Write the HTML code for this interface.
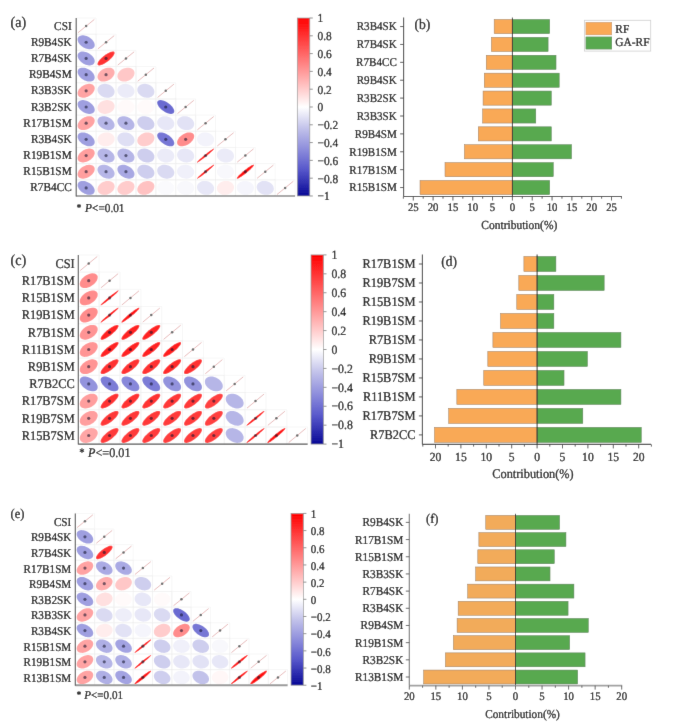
<!DOCTYPE html>
<html><head><meta charset="utf-8"><style>
html,body{margin:0;padding:0;background:#fff;}
body{width:685px;height:727px;overflow:hidden;}
svg{display:block;}
#w{width:685px;height:727px;}
text{font-family:"Liberation Serif",serif;text-rendering:geometricPrecision;fill:#000;stroke:#000;stroke-width:0.22px;}
</style></head><body><div id="w">
<svg width="685" height="727" viewBox="0 0 685 727">
<defs><filter id="bl" x="0" y="0" width="685" height="727" filterUnits="userSpaceOnUse"><feConvolveMatrix order="3" kernelMatrix="0.0072 0.0847 0.0072 0.0847 1.0000 0.0847 0.0072 0.0847 0.0072" edgeMode="duplicate"/></filter></defs>
<g filter="url(#bl)">
<rect width="685" height="727" fill="#fff"/>
<path d="M76.2 18h19.9v16.18h-19.9zM76.2 34.18h19.9v16.18h-19.9zM96.1 34.18h19.9v16.18h-19.9zM76.2 50.36h19.9v16.18h-19.9zM96.1 50.36h19.9v16.18h-19.9zM116 50.36h19.9v16.18h-19.9zM76.2 66.54h19.9v16.18h-19.9zM96.1 66.54h19.9v16.18h-19.9zM116 66.54h19.9v16.18h-19.9zM135.9 66.54h19.9v16.18h-19.9zM76.2 82.72h19.9v16.18h-19.9zM96.1 82.72h19.9v16.18h-19.9zM116 82.72h19.9v16.18h-19.9zM135.9 82.72h19.9v16.18h-19.9zM155.8 82.72h19.9v16.18h-19.9zM76.2 98.9h19.9v16.18h-19.9zM96.1 98.9h19.9v16.18h-19.9zM116 98.9h19.9v16.18h-19.9zM135.9 98.9h19.9v16.18h-19.9zM155.8 98.9h19.9v16.18h-19.9zM175.7 98.9h19.9v16.18h-19.9zM76.2 115.08h19.9v16.18h-19.9zM96.1 115.08h19.9v16.18h-19.9zM116 115.08h19.9v16.18h-19.9zM135.9 115.08h19.9v16.18h-19.9zM155.8 115.08h19.9v16.18h-19.9zM175.7 115.08h19.9v16.18h-19.9zM195.6 115.08h19.9v16.18h-19.9zM76.2 131.26h19.9v16.18h-19.9zM96.1 131.26h19.9v16.18h-19.9zM116 131.26h19.9v16.18h-19.9zM135.9 131.26h19.9v16.18h-19.9zM155.8 131.26h19.9v16.18h-19.9zM175.7 131.26h19.9v16.18h-19.9zM195.6 131.26h19.9v16.18h-19.9zM215.5 131.26h19.9v16.18h-19.9zM76.2 147.44h19.9v16.18h-19.9zM96.1 147.44h19.9v16.18h-19.9zM116 147.44h19.9v16.18h-19.9zM135.9 147.44h19.9v16.18h-19.9zM155.8 147.44h19.9v16.18h-19.9zM175.7 147.44h19.9v16.18h-19.9zM195.6 147.44h19.9v16.18h-19.9zM215.5 147.44h19.9v16.18h-19.9zM235.4 147.44h19.9v16.18h-19.9zM76.2 163.62h19.9v16.18h-19.9zM96.1 163.62h19.9v16.18h-19.9zM116 163.62h19.9v16.18h-19.9zM135.9 163.62h19.9v16.18h-19.9zM155.8 163.62h19.9v16.18h-19.9zM175.7 163.62h19.9v16.18h-19.9zM195.6 163.62h19.9v16.18h-19.9zM215.5 163.62h19.9v16.18h-19.9zM235.4 163.62h19.9v16.18h-19.9zM255.3 163.62h19.9v16.18h-19.9zM76.2 179.8h19.9v16.18h-19.9zM96.1 179.8h19.9v16.18h-19.9zM116 179.8h19.9v16.18h-19.9zM135.9 179.8h19.9v16.18h-19.9zM155.8 179.8h19.9v16.18h-19.9zM175.7 179.8h19.9v16.18h-19.9zM195.6 179.8h19.9v16.18h-19.9zM215.5 179.8h19.9v16.18h-19.9zM235.4 179.8h19.9v16.18h-19.9zM255.3 179.8h19.9v16.18h-19.9zM275.2 179.8h19.9v16.18h-19.9z" fill="none" stroke="#efefef" stroke-width="0.5"/>
<line x1="77.99" y1="32.72" x2="94.31" y2="19.46" stroke="#d88c8c" stroke-width="0.6"/>
<circle cx="86.15" cy="26.09" r="1.25" fill="#6a6a6a"/>
<path d="M90.84 38.46L91.73 39.25L92.53 40.1L93.22 40.98L93.79 41.88L94.23 42.79L94.53 43.69L94.68 44.57L94.69 45.41L94.56 46.19L94.28 46.91L93.86 47.54L93.31 48.09L92.64 48.54L91.85 48.88L90.97 49.11L90.01 49.22L88.98 49.21L87.9 49.08L86.79 48.84L85.67 48.48L84.56 48.02L83.48 47.46L82.44 46.81L81.46 46.08L80.57 45.29L79.77 44.44L79.08 43.56L78.51 42.66L78.07 41.75L77.77 40.85L77.62 39.97L77.61 39.13L77.74 38.35L78.02 37.63L78.44 37L78.99 36.45L79.66 36L80.45 35.66L81.33 35.43L82.29 35.32L83.32 35.33L84.4 35.46L85.51 35.7L86.63 36.06L87.74 36.52L88.82 37.08L89.86 37.73Z" fill="#9f9fe0"/>
<circle cx="86.15" cy="42.27" r="1.6" fill="rgba(20,20,45,0.6)"/>
<line x1="97.89" y1="48.9" x2="114.21" y2="35.64" stroke="#d88c8c" stroke-width="0.6"/>
<circle cx="106.05" cy="42.27" r="1.25" fill="#6a6a6a"/>
<path d="M90.84 54.64L91.73 55.43L92.53 56.28L93.22 57.16L93.79 58.06L94.23 58.97L94.53 59.87L94.68 60.75L94.69 61.59L94.56 62.37L94.28 63.09L93.86 63.72L93.31 64.27L92.64 64.72L91.85 65.06L90.97 65.29L90.01 65.4L88.98 65.39L87.9 65.26L86.79 65.02L85.67 64.66L84.56 64.2L83.48 63.64L82.44 62.99L81.46 62.26L80.57 61.47L79.77 60.62L79.08 59.74L78.51 58.84L78.07 57.93L77.77 57.03L77.62 56.15L77.61 55.31L77.74 54.53L78.02 53.81L78.44 53.18L78.99 52.63L79.66 52.18L80.45 51.84L81.33 51.61L82.29 51.5L83.32 51.51L84.4 51.64L85.51 51.88L86.63 52.24L87.74 52.7L88.82 53.26L89.86 53.91Z" fill="#9f9fe0"/>
<circle cx="86.15" cy="58.45" r="1.6" fill="rgba(20,20,45,0.6)"/>
<path d="M114.17 51.85L114.45 52.19L114.59 52.64L114.59 53.19L114.43 53.83L114.14 54.55L113.7 55.34L113.14 56.18L112.45 57.06L111.66 57.96L110.76 58.87L109.79 59.77L108.76 60.65L107.67 61.49L106.56 62.28L105.44 63.01L104.33 63.66L103.25 64.21L102.22 64.67L101.26 65.03L100.37 65.27L99.59 65.39L98.91 65.39L98.35 65.28L97.93 65.05L97.65 64.71L97.51 64.26L97.51 63.71L97.67 63.07L97.96 62.35L98.4 61.56L98.96 60.72L99.65 59.84L100.44 58.94L101.34 58.03L102.31 57.13L103.34 56.25L104.43 55.41L105.54 54.62L106.66 53.89L107.77 53.24L108.85 52.69L109.88 52.23L110.84 51.87L111.73 51.63L112.51 51.51L113.19 51.51L113.75 51.62Z" fill="#ff3333"/>
<circle cx="106.05" cy="58.45" r="1.6" fill="rgba(20,20,45,0.6)"/>
<line x1="117.79" y1="65.08" x2="134.11" y2="51.82" stroke="#d88c8c" stroke-width="0.6"/>
<circle cx="125.95" cy="58.45" r="1.25" fill="#6a6a6a"/>
<path d="M90.84 70.82L91.73 71.61L92.53 72.46L93.22 73.34L93.79 74.24L94.23 75.15L94.53 76.05L94.68 76.93L94.69 77.77L94.56 78.55L94.28 79.27L93.86 79.9L93.31 80.45L92.64 80.9L91.85 81.24L90.97 81.47L90.01 81.58L88.98 81.57L87.9 81.44L86.79 81.2L85.67 80.84L84.56 80.38L83.48 79.82L82.44 79.17L81.46 78.44L80.57 77.65L79.77 76.8L79.08 75.92L78.51 75.02L78.07 74.11L77.77 73.21L77.62 72.33L77.61 71.49L77.74 70.71L78.02 69.99L78.44 69.36L78.99 68.81L79.66 68.36L80.45 68.02L81.33 67.79L82.29 67.68L83.32 67.69L84.4 67.82L85.51 68.06L86.63 68.42L87.74 68.88L88.82 69.44L89.86 70.09Z" fill="#9f9fe0"/>
<circle cx="86.15" cy="74.63" r="1.6" fill="rgba(20,20,45,0.6)"/>
<path d="M113 68.98L113.59 69.56L114.06 70.22L114.38 70.96L114.57 71.76L114.6 72.62L114.49 73.5L114.24 74.41L113.85 75.32L113.32 76.22L112.67 77.09L111.9 77.91L111.04 78.69L110.09 79.39L109.07 80.01L108 80.54L106.9 80.97L105.78 81.29L104.66 81.5L103.57 81.58L102.52 81.55L101.54 81.4L100.63 81.14L99.81 80.76L99.1 80.28L98.51 79.7L98.04 79.04L97.72 78.3L97.53 77.5L97.5 76.64L97.61 75.76L97.86 74.85L98.25 73.94L98.78 73.04L99.43 72.17L100.2 71.35L101.06 70.57L102.01 69.87L103.03 69.25L104.1 68.72L105.2 68.29L106.32 67.97L107.44 67.76L108.53 67.68L109.58 67.71L110.56 67.86L111.47 68.12L112.29 68.5Z" fill="#ffadad"/>
<circle cx="106.05" cy="74.63" r="1.6" fill="rgba(20,20,45,0.6)"/>
<path d="M132.63 69.2L133.27 69.81L133.79 70.51L134.17 71.27L134.41 72.1L134.51 72.96L134.45 73.86L134.26 74.77L133.92 75.68L133.44 76.56L132.84 77.42L132.12 78.23L131.29 78.97L130.38 79.65L129.38 80.23L128.33 80.72L127.24 81.11L126.12 81.38L125 81.54L123.9 81.59L122.83 81.51L121.82 81.31L120.88 81L120.02 80.58L119.27 80.06L118.63 79.45L118.11 78.75L117.73 77.99L117.49 77.16L117.39 76.3L117.45 75.4L117.64 74.49L117.98 73.58L118.46 72.7L119.06 71.84L119.78 71.03L120.61 70.29L121.52 69.61L122.52 69.03L123.57 68.54L124.66 68.15L125.78 67.88L126.9 67.72L128 67.67L129.07 67.75L130.08 67.95L131.02 68.26L131.88 68.68Z" fill="#ffc7c7"/>
<line x1="137.69" y1="81.26" x2="154.01" y2="68" stroke="#d88c8c" stroke-width="0.6"/>
<circle cx="145.85" cy="74.63" r="1.25" fill="#6a6a6a"/>
<path d="M93.21 85.07L93.78 85.64L94.22 86.29L94.52 87.02L94.68 87.81L94.69 88.65L94.56 89.54L94.29 90.44L93.87 91.35L93.32 92.25L92.65 93.13L91.87 93.96L90.99 94.75L90.03 95.46L89 96.1L87.92 96.64L86.81 97.09L85.69 97.42L84.58 97.65L83.5 97.76L82.46 97.75L81.48 97.62L80.59 97.37L79.79 97.01L79.09 96.55L78.52 95.98L78.08 95.33L77.78 94.6L77.62 93.81L77.61 92.97L77.74 92.08L78.01 91.18L78.43 90.27L78.98 89.37L79.65 88.49L80.43 87.66L81.31 86.87L82.27 86.16L83.3 85.52L84.38 84.98L85.49 84.53L86.61 84.2L87.72 83.97L88.8 83.86L89.84 83.87L90.82 84L91.71 84.25L92.51 84.61Z" fill="#ffa3a3"/>
<circle cx="86.15" cy="90.81" r="1.6" fill="rgba(20,20,45,0.6)"/>
<path d="M111.63 86.27L112.43 87L113.12 87.79L113.69 88.64L114.13 89.52L114.43 90.42L114.58 91.33L114.59 92.23L114.46 93.11L114.18 93.95L113.76 94.73L113.21 95.45L112.54 96.09L111.76 96.63L110.87 97.08L109.91 97.42L108.88 97.65L107.8 97.76L106.69 97.75L105.57 97.62L104.46 97.38L103.38 97.02L102.34 96.56L101.37 96L100.47 95.35L99.67 94.62L98.98 93.83L98.41 92.98L97.97 92.1L97.67 91.2L97.52 90.29L97.51 89.39L97.64 88.51L97.92 87.67L98.34 86.89L98.89 86.17L99.56 85.53L100.34 84.99L101.23 84.54L102.19 84.2L103.22 83.97L104.3 83.86L105.41 83.87L106.53 84L107.64 84.24L108.72 84.6L109.76 85.06L110.73 85.62Z" fill="#dadaf2"/>
<path d="M131.75 86.09L132.52 86.8L133.18 87.58L133.72 88.41L134.12 89.28L134.38 90.18L134.5 91.09L134.47 91.99L134.3 92.88L133.98 93.73L133.53 94.53L132.94 95.26L132.24 95.92L131.43 96.49L130.52 96.97L129.54 97.34L128.49 97.6L127.41 97.74L126.29 97.76L125.17 97.67L124.07 97.45L122.99 97.13L121.97 96.69L121.02 96.16L120.15 95.53L119.38 94.82L118.72 94.04L118.18 93.21L117.78 92.34L117.52 91.44L117.4 90.53L117.43 89.63L117.6 88.74L117.92 87.89L118.37 87.09L118.96 86.36L119.66 85.7L120.47 85.13L121.38 84.65L122.36 84.28L123.41 84.02L124.49 83.88L125.61 83.86L126.73 83.95L127.83 84.17L128.91 84.49L129.93 84.93L130.88 85.46Z" fill="#ebebf8"/>
<path d="M151.43 86.27L152.23 87L152.92 87.79L153.49 88.64L153.93 89.52L154.23 90.42L154.38 91.33L154.39 92.23L154.26 93.11L153.98 93.95L153.56 94.73L153.01 95.45L152.34 96.09L151.56 96.63L150.67 97.08L149.71 97.42L148.68 97.65L147.6 97.76L146.49 97.75L145.37 97.62L144.26 97.38L143.18 97.02L142.14 96.56L141.17 96L140.27 95.35L139.47 94.62L138.78 93.83L138.21 92.98L137.77 92.1L137.47 91.2L137.32 90.29L137.31 89.39L137.44 88.51L137.72 87.67L138.14 86.89L138.69 86.17L139.36 85.53L140.14 84.99L141.03 84.54L141.99 84.2L143.02 83.97L144.1 83.86L145.21 83.87L146.33 84L147.44 84.24L148.52 84.6L149.56 85.06L150.53 85.62Z" fill="#dadaf2"/>
<line x1="157.59" y1="97.44" x2="173.91" y2="84.18" stroke="#d88c8c" stroke-width="0.6"/>
<circle cx="165.75" cy="90.81" r="1.25" fill="#6a6a6a"/>
<path d="M90.84 103.18L91.73 103.97L92.53 104.82L93.22 105.7L93.79 106.6L94.23 107.51L94.53 108.41L94.68 109.29L94.69 110.13L94.56 110.91L94.28 111.63L93.86 112.26L93.31 112.81L92.64 113.26L91.85 113.6L90.97 113.83L90.01 113.94L88.98 113.93L87.9 113.8L86.79 113.56L85.67 113.2L84.56 112.74L83.48 112.18L82.44 111.53L81.46 110.8L80.57 110.01L79.77 109.16L79.08 108.28L78.51 107.38L78.07 106.47L77.77 105.57L77.62 104.69L77.61 103.85L77.74 103.07L78.02 102.35L78.44 101.72L78.99 101.17L79.66 100.72L80.45 100.38L81.33 100.15L82.29 100.04L83.32 100.05L84.4 100.18L85.51 100.42L86.63 100.78L87.74 101.24L88.82 101.8L89.86 102.45Z" fill="#9f9fe0"/>
<circle cx="86.15" cy="106.99" r="1.6" fill="rgba(20,20,45,0.6)"/>
<path d="M112.45 101.78L113.14 102.43L113.7 103.16L114.14 103.95L114.43 104.79L114.59 105.67L114.59 106.57L114.45 107.48L114.17 108.38L113.74 109.26L113.19 110.1L112.51 110.89L111.73 111.61L110.84 112.25L109.88 112.8L108.84 113.25L107.76 113.59L106.65 113.82L105.54 113.93L104.43 113.93L103.34 113.81L102.31 113.57L101.33 113.21L100.44 112.75L99.65 112.2L98.96 111.55L98.4 110.82L97.96 110.03L97.67 109.19L97.51 108.31L97.51 107.41L97.65 106.5L97.93 105.6L98.36 104.72L98.91 103.88L99.59 103.09L100.37 102.37L101.26 101.73L102.22 101.18L103.26 100.73L104.34 100.39L105.45 100.16L106.56 100.05L107.67 100.05L108.76 100.17L109.79 100.41L110.77 100.77L111.66 101.23Z" fill="#ffe0e0"/>
<path d="M132.06 102.02L132.79 102.7L133.4 103.45L133.89 104.26L134.24 105.12L134.44 106.01L134.51 106.92L134.42 107.83L134.19 108.72L133.82 109.59L133.32 110.41L132.69 111.17L131.94 111.86L131.09 112.47L130.15 112.98L129.15 113.39L128.08 113.69L126.98 113.88L125.86 113.95L124.75 113.9L123.65 113.73L122.6 113.44L121.6 113.05L120.67 112.55L119.84 111.96L119.11 111.28L118.5 110.53L118.01 109.72L117.66 108.86L117.46 107.97L117.39 107.06L117.48 106.15L117.71 105.26L118.08 104.39L118.58 103.57L119.21 102.81L119.96 102.12L120.81 101.51L121.75 101L122.75 100.59L123.82 100.29L124.92 100.1L126.04 100.03L127.15 100.08L128.25 100.25L129.3 100.54L130.3 100.93L131.23 101.43Z" fill="#fffafa"/>
<path d="M151.96 102.02L152.69 102.7L153.3 103.45L153.79 104.26L154.14 105.12L154.34 106.01L154.41 106.92L154.32 107.83L154.09 108.72L153.72 109.59L153.22 110.41L152.59 111.17L151.84 111.86L150.99 112.47L150.05 112.98L149.05 113.39L147.98 113.69L146.88 113.88L145.76 113.95L144.65 113.9L143.55 113.73L142.5 113.44L141.5 113.05L140.57 112.55L139.74 111.96L139.01 111.28L138.4 110.53L137.91 109.72L137.56 108.86L137.36 107.97L137.29 107.06L137.38 106.15L137.61 105.26L137.98 104.39L138.48 103.57L139.11 102.81L139.86 102.12L140.71 101.51L141.65 101L142.65 100.59L143.72 100.29L144.82 100.1L145.94 100.03L147.05 100.08L148.15 100.25L149.2 100.54L150.2 100.93L151.13 101.43Z" fill="#fffafa"/>
<path d="M169.48 103.96L170.45 104.8L171.35 105.68L172.14 106.58L172.83 107.49L173.4 108.4L173.83 109.27L174.13 110.11L174.28 110.9L174.29 111.61L174.15 112.25L173.87 112.8L173.45 113.25L172.9 113.59L172.22 113.82L171.44 113.94L170.55 113.93L169.59 113.8L168.56 113.56L167.48 113.21L166.37 112.75L165.25 112.19L164.14 111.54L163.06 110.81L162.02 110.02L161.05 109.18L160.15 108.3L159.36 107.4L158.67 106.49L158.1 105.58L157.67 104.71L157.37 103.87L157.22 103.08L157.21 102.37L157.35 101.73L157.63 101.18L158.05 100.73L158.6 100.39L159.28 100.16L160.06 100.04L160.95 100.05L161.91 100.18L162.94 100.42L164.02 100.77L165.13 101.23L166.25 101.79L167.36 102.44L168.44 103.17Z" fill="#6b6bd1"/>
<circle cx="165.75" cy="106.99" r="1.6" fill="rgba(20,20,45,0.6)"/>
<line x1="177.49" y1="113.62" x2="193.81" y2="100.36" stroke="#d88c8c" stroke-width="0.6"/>
<circle cx="185.65" cy="106.99" r="1.25" fill="#6a6a6a"/>
<path d="M93.21 117.43L93.78 118L94.22 118.65L94.52 119.38L94.68 120.17L94.69 121.01L94.56 121.9L94.29 122.8L93.87 123.71L93.32 124.61L92.65 125.49L91.87 126.32L90.99 127.11L90.03 127.82L89 128.46L87.92 129L86.81 129.45L85.69 129.78L84.58 130.01L83.5 130.12L82.46 130.11L81.48 129.98L80.59 129.73L79.79 129.37L79.09 128.91L78.52 128.34L78.08 127.69L77.78 126.96L77.62 126.17L77.61 125.33L77.74 124.44L78.01 123.54L78.43 122.63L78.98 121.73L79.65 120.85L80.43 120.02L81.31 119.23L82.27 118.52L83.3 117.88L84.38 117.34L85.49 116.89L86.61 116.56L87.72 116.33L88.8 116.22L89.84 116.23L90.82 116.36L91.71 116.61L92.51 116.97Z" fill="#ffa3a3"/>
<circle cx="86.15" cy="123.17" r="1.6" fill="rgba(20,20,45,0.6)"/>
<path d="M111.11 119.05L111.97 119.82L112.73 120.65L113.37 121.51L113.88 122.41L114.27 123.32L114.51 124.23L114.61 125.11L114.56 125.97L114.36 126.78L114.02 127.52L113.55 128.19L112.95 128.78L112.23 129.27L111.4 129.65L110.49 129.93L109.49 130.09L108.44 130.13L107.35 130.05L106.23 129.85L105.12 129.54L104.01 129.12L102.95 128.6L101.93 127.98L100.99 127.29L100.13 126.52L99.37 125.69L98.73 124.83L98.22 123.93L97.83 123.02L97.59 122.11L97.49 121.23L97.54 120.37L97.74 119.56L98.08 118.82L98.55 118.15L99.15 117.56L99.87 117.07L100.7 116.69L101.61 116.41L102.61 116.25L103.66 116.21L104.75 116.29L105.87 116.49L106.98 116.8L108.09 117.22L109.15 117.74L110.17 118.36Z" fill="#b6b6e7"/>
<circle cx="106.05" cy="123.17" r="1.6" fill="rgba(20,20,45,0.6)"/>
<path d="M131.01 119.05L131.87 119.82L132.63 120.65L133.27 121.51L133.78 122.41L134.17 123.32L134.41 124.23L134.51 125.11L134.46 125.97L134.26 126.78L133.92 127.52L133.45 128.19L132.85 128.78L132.13 129.27L131.3 129.65L130.39 129.93L129.39 130.09L128.34 130.13L127.25 130.05L126.13 129.85L125.02 129.54L123.91 129.12L122.85 128.6L121.83 127.98L120.89 127.29L120.03 126.52L119.27 125.69L118.63 124.83L118.12 123.93L117.73 123.02L117.49 122.11L117.39 121.23L117.44 120.37L117.64 119.56L117.98 118.82L118.45 118.15L119.05 117.56L119.77 117.07L120.6 116.69L121.51 116.41L122.51 116.25L123.56 116.21L124.65 116.29L125.77 116.49L126.88 116.8L127.99 117.22L129.05 117.74L130.07 118.36Z" fill="#b6b6e7"/>
<circle cx="125.95" cy="123.17" r="1.6" fill="rgba(20,20,45,0.6)"/>
<path d="M151.26 118.77L152.08 119.51L152.79 120.31L153.39 121.17L153.85 122.05L154.18 122.96L154.36 123.87L154.4 124.77L154.3 125.64L154.04 126.47L153.65 127.24L153.13 127.94L152.48 128.56L151.72 129.09L150.85 129.51L149.9 129.83L148.88 130.04L147.81 130.12L146.71 130.09L145.59 129.94L144.48 129.68L143.39 129.3L142.34 128.82L141.35 128.24L140.44 127.57L139.62 126.83L138.91 126.03L138.31 125.17L137.85 124.29L137.52 123.38L137.34 122.47L137.3 121.57L137.4 120.7L137.66 119.87L138.05 119.1L138.57 118.4L139.22 117.78L139.98 117.25L140.85 116.83L141.8 116.51L142.82 116.3L143.89 116.22L144.99 116.25L146.11 116.4L147.22 116.66L148.31 117.04L149.36 117.52L150.35 118.1Z" fill="#ceceee"/>
<path d="M171.49 118.5L172.27 119.22L172.94 120L173.48 120.83L173.89 121.71L174.17 122.61L174.3 123.52L174.28 124.42L174.12 125.3L173.81 126.15L173.37 126.95L172.79 127.68L172.1 128.33L171.29 128.89L170.39 129.36L169.42 129.72L168.38 129.97L167.29 130.1L166.18 130.12L165.06 130.01L163.95 129.79L162.88 129.46L161.85 129.01L160.89 128.47L160.01 127.84L159.23 127.12L158.56 126.34L158.02 125.51L157.61 124.63L157.33 123.73L157.2 122.82L157.22 121.92L157.38 121.04L157.69 120.19L158.13 119.39L158.71 118.66L159.4 118.01L160.21 117.45L161.11 116.98L162.08 116.62L163.12 116.37L164.21 116.24L165.32 116.22L166.44 116.33L167.55 116.55L168.62 116.88L169.65 117.33L170.61 117.87Z" fill="#e7e7f7"/>
<path d="M191.33 118.55L192.11 119.27L192.79 120.06L193.34 120.9L193.77 121.78L194.05 122.68L194.19 123.59L194.19 124.49L194.03 125.37L193.74 126.21L193.3 127L192.74 127.73L192.05 128.38L191.26 128.93L190.37 129.39L189.39 129.75L188.36 129.99L187.27 130.11L186.16 130.11L185.05 130L183.94 129.77L182.86 129.43L181.82 128.98L180.86 128.43L179.97 127.79L179.19 127.07L178.51 126.28L177.96 125.44L177.53 124.56L177.25 123.66L177.11 122.75L177.11 121.85L177.27 120.97L177.56 120.13L178 119.34L178.56 118.61L179.25 117.96L180.04 117.41L180.93 116.95L181.91 116.59L182.94 116.35L184.03 116.23L185.14 116.23L186.25 116.34L187.36 116.57L188.44 116.91L189.48 117.36L190.44 117.91Z" fill="#e2e2f5"/>
<line x1="197.39" y1="129.8" x2="213.71" y2="116.54" stroke="#d88c8c" stroke-width="0.6"/>
<circle cx="205.55" cy="123.17" r="1.25" fill="#6a6a6a"/>
<path d="M90.84 135.54L91.73 136.33L92.53 137.18L93.22 138.06L93.79 138.96L94.23 139.87L94.53 140.77L94.68 141.65L94.69 142.49L94.56 143.27L94.28 143.99L93.86 144.62L93.31 145.17L92.64 145.62L91.85 145.96L90.97 146.19L90.01 146.3L88.98 146.29L87.9 146.16L86.79 145.92L85.67 145.56L84.56 145.1L83.48 144.54L82.44 143.89L81.46 143.16L80.57 142.37L79.77 141.52L79.08 140.64L78.51 139.74L78.07 138.83L77.77 137.93L77.62 137.05L77.61 136.21L77.74 135.43L78.02 134.71L78.44 134.08L78.99 133.53L79.66 133.08L80.45 132.74L81.33 132.51L82.29 132.4L83.32 132.41L84.4 132.54L85.51 132.78L86.63 133.14L87.74 133.6L88.82 134.16L89.86 134.81Z" fill="#9f9fe0"/>
<circle cx="86.15" cy="139.35" r="1.6" fill="rgba(20,20,45,0.6)"/>
<path d="M112.31 134.26L113.02 134.92L113.61 135.66L114.07 136.46L114.39 137.32L114.57 138.2L114.6 139.11L114.49 140.02L114.23 140.91L113.84 141.79L113.31 142.62L112.65 143.39L111.89 144.09L111.02 144.72L110.07 145.25L109.05 145.68L107.97 146L106.87 146.21L105.75 146.3L104.64 146.28L103.55 146.13L102.5 145.87L101.51 145.49L100.61 145.01L99.79 144.44L99.08 143.78L98.49 143.04L98.03 142.24L97.71 141.38L97.53 140.5L97.5 139.59L97.61 138.68L97.87 137.79L98.26 136.91L98.79 136.08L99.45 135.31L100.21 134.61L101.08 133.98L102.03 133.45L103.05 133.02L104.13 132.7L105.23 132.49L106.35 132.4L107.46 132.42L108.55 132.57L109.6 132.83L110.59 133.21L111.49 133.69Z" fill="#ffeded"/>
<path d="M131.59 134.76L132.38 135.48L133.07 136.27L133.63 137.11L134.05 137.99L134.34 138.89L134.49 139.8L134.49 140.71L134.34 141.58L134.05 142.43L133.62 143.21L133.06 143.94L132.38 144.58L131.59 145.13L130.7 145.59L129.73 145.94L128.7 146.17L127.62 146.29L126.51 146.29L125.39 146.17L124.28 145.94L123.2 145.59L122.16 145.14L121.19 144.58L120.31 143.94L119.52 143.22L118.83 142.43L118.27 141.59L117.85 140.71L117.56 139.81L117.41 138.9L117.41 137.99L117.56 137.12L117.85 136.27L118.28 135.49L118.84 134.76L119.52 134.12L120.31 133.57L121.2 133.11L122.17 132.76L123.2 132.53L124.28 132.41L125.39 132.41L126.51 132.53L127.62 132.76L128.7 133.11L129.74 133.56L130.71 134.12Z" fill="#dfdff4"/>
<path d="M152.48 133.96L153.13 134.58L153.65 135.28L154.04 136.05L154.3 136.88L154.4 137.75L154.36 138.65L154.18 139.56L153.85 140.47L153.39 141.35L152.79 142.21L152.08 143.01L151.26 143.75L150.35 144.42L149.36 145L148.31 145.48L147.22 145.86L146.11 146.12L144.99 146.27L143.89 146.3L142.82 146.22L141.8 146.01L140.85 145.69L139.98 145.27L139.22 144.74L138.57 144.12L138.05 143.42L137.66 142.65L137.4 141.82L137.3 140.95L137.34 140.05L137.52 139.14L137.85 138.23L138.31 137.35L138.91 136.49L139.62 135.69L140.44 134.95L141.35 134.28L142.34 133.7L143.39 133.22L144.48 132.84L145.59 132.58L146.71 132.43L147.81 132.4L148.88 132.48L149.9 132.69L150.85 133.01L151.72 133.43Z" fill="#ffcccc"/>
<path d="M169.72 136.12L170.67 136.96L171.54 137.83L172.32 138.73L172.98 139.64L173.51 140.54L173.92 141.43L174.18 142.28L174.3 143.08L174.27 143.81L174.1 144.47L173.78 145.04L173.33 145.51L172.75 145.88L172.05 146.14L171.24 146.28L170.33 146.3L169.35 146.2L168.31 145.99L167.22 145.66L166.1 145.23L164.99 144.69L163.88 144.06L162.81 143.35L161.78 142.58L160.83 141.74L159.96 140.87L159.18 139.97L158.52 139.06L157.99 138.16L157.58 137.27L157.32 136.42L157.2 135.62L157.23 134.89L157.4 134.23L157.72 133.66L158.17 133.19L158.75 132.82L159.45 132.56L160.26 132.42L161.17 132.4L162.15 132.5L163.19 132.71L164.28 133.04L165.4 133.47L166.51 134.01L167.62 134.64L168.69 135.35Z" fill="#7777d5"/>
<circle cx="165.75" cy="139.35" r="1.6" fill="rgba(20,20,45,0.6)"/>
<path d="M192.94 133.43L193.46 133.95L193.85 134.57L194.1 135.27L194.2 136.04L194.16 136.87L193.98 137.74L193.65 138.64L193.18 139.55L192.58 140.45L191.87 141.34L191.05 142.19L190.14 143L189.15 143.74L188.1 144.41L187.01 144.99L185.89 145.47L184.77 145.85L183.67 146.12L182.6 146.27L181.58 146.3L180.64 146.22L179.77 146.02L179.01 145.7L178.36 145.27L177.84 144.75L177.45 144.13L177.2 143.43L177.1 142.66L177.14 141.83L177.32 140.96L177.65 140.06L178.12 139.15L178.72 138.25L179.43 137.36L180.25 136.51L181.16 135.7L182.15 134.96L183.2 134.29L184.29 133.71L185.41 133.23L186.53 132.85L187.63 132.58L188.7 132.43L189.72 132.4L190.66 132.48L191.53 132.68L192.29 133Z" fill="#ff8c8c"/>
<circle cx="185.65" cy="139.35" r="1.6" fill="rgba(20,20,45,0.6)"/>
<path d="M211.45 134.55L212.21 135.25L212.85 136.02L213.37 136.85L213.76 137.72L214 138.61L214.1 139.52L214.06 140.43L213.87 141.32L213.54 142.17L213.07 142.98L212.47 143.72L211.75 144.39L210.93 144.97L210.01 145.46L209.02 145.84L207.97 146.11L206.88 146.27L205.76 146.31L204.65 146.22L203.54 146.02L202.47 145.71L201.46 145.29L200.51 144.76L199.65 144.15L198.89 143.45L198.25 142.68L197.73 141.85L197.34 140.98L197.1 140.09L197 139.18L197.04 138.27L197.23 137.38L197.56 136.53L198.03 135.72L198.63 134.98L199.35 134.31L200.17 133.73L201.09 133.24L202.08 132.86L203.13 132.59L204.22 132.43L205.34 132.39L206.45 132.48L207.56 132.68L208.63 132.99L209.64 133.41L210.59 133.94Z" fill="#f3f3fb"/>
<line x1="217.29" y1="145.98" x2="233.61" y2="132.72" stroke="#d88c8c" stroke-width="0.6"/>
<circle cx="225.45" cy="139.35" r="1.25" fill="#6a6a6a"/>
<path d="M93.26 149.75L93.82 150.31L94.25 150.95L94.54 151.67L94.69 152.46L94.69 153.3L94.54 154.18L94.26 155.09L93.83 156L93.27 156.9L92.59 157.78L91.8 158.62L90.91 159.4L89.95 160.12L88.91 160.77L87.83 161.32L86.72 161.77L85.6 162.12L84.49 162.36L83.41 162.47L82.38 162.47L81.41 162.35L80.52 162.11L79.72 161.77L79.04 161.31L78.48 160.75L78.05 160.11L77.76 159.39L77.61 158.6L77.61 157.76L77.76 156.88L78.04 155.97L78.47 155.06L79.03 154.16L79.71 153.28L80.5 152.44L81.39 151.66L82.35 150.94L83.39 150.29L84.47 149.74L85.58 149.29L86.7 148.94L87.81 148.7L88.89 148.59L89.92 148.59L90.89 148.71L91.78 148.95L92.58 149.29Z" fill="#ff9e9e"/>
<circle cx="86.15" cy="155.53" r="1.6" fill="rgba(20,20,45,0.6)"/>
<path d="M111.11 151.41L111.97 152.18L112.73 153.01L113.37 153.87L113.88 154.77L114.27 155.68L114.51 156.59L114.61 157.47L114.56 158.33L114.36 159.14L114.02 159.88L113.55 160.55L112.95 161.14L112.23 161.63L111.4 162.01L110.49 162.29L109.49 162.45L108.44 162.49L107.35 162.41L106.23 162.21L105.12 161.9L104.01 161.48L102.95 160.96L101.93 160.34L100.99 159.65L100.13 158.88L99.37 158.05L98.73 157.19L98.22 156.29L97.83 155.38L97.59 154.47L97.49 153.59L97.54 152.73L97.74 151.92L98.08 151.18L98.55 150.51L99.15 149.92L99.87 149.43L100.7 149.05L101.61 148.77L102.61 148.61L103.66 148.57L104.75 148.65L105.87 148.85L106.98 149.16L108.09 149.58L109.15 150.1L110.17 150.72Z" fill="#b6b6e7"/>
<circle cx="106.05" cy="155.53" r="1.6" fill="rgba(20,20,45,0.6)"/>
<path d="M131.01 151.41L131.87 152.18L132.63 153.01L133.27 153.87L133.78 154.77L134.17 155.68L134.41 156.59L134.51 157.47L134.46 158.33L134.26 159.14L133.92 159.88L133.45 160.55L132.85 161.14L132.13 161.63L131.3 162.01L130.39 162.29L129.39 162.45L128.34 162.49L127.25 162.41L126.13 162.21L125.02 161.9L123.91 161.48L122.85 160.96L121.83 160.34L120.89 159.65L120.03 158.88L119.27 158.05L118.63 157.19L118.12 156.29L117.73 155.38L117.49 154.47L117.39 153.59L117.44 152.73L117.64 151.92L117.98 151.18L118.45 150.51L119.05 149.92L119.77 149.43L120.6 149.05L121.51 148.77L122.51 148.61L123.56 148.57L124.65 148.65L125.77 148.85L126.88 149.16L127.99 149.58L129.05 150.1L130.07 150.72Z" fill="#b6b6e7"/>
<circle cx="125.95" cy="155.53" r="1.6" fill="rgba(20,20,45,0.6)"/>
<path d="M151.26 151.13L152.08 151.87L152.79 152.67L153.39 153.53L153.85 154.41L154.18 155.32L154.36 156.23L154.4 157.13L154.3 158L154.04 158.83L153.65 159.6L153.13 160.3L152.48 160.92L151.72 161.45L150.85 161.87L149.9 162.19L148.88 162.4L147.81 162.48L146.71 162.45L145.59 162.3L144.48 162.04L143.39 161.66L142.34 161.18L141.35 160.6L140.44 159.93L139.62 159.19L138.91 158.39L138.31 157.53L137.85 156.65L137.52 155.74L137.34 154.83L137.3 153.93L137.4 153.06L137.66 152.23L138.05 151.46L138.57 150.76L139.22 150.14L139.98 149.61L140.85 149.19L141.8 148.87L142.82 148.66L143.89 148.58L144.99 148.61L146.11 148.76L147.22 149.02L148.31 149.4L149.36 149.88L150.35 150.46Z" fill="#ceceee"/>
<path d="M171.55 150.81L172.32 151.52L172.98 152.3L173.52 153.13L173.92 154L174.18 154.9L174.3 155.81L174.27 156.71L174.1 157.6L173.78 158.45L173.33 159.25L172.74 159.98L172.04 160.64L171.23 161.21L170.32 161.69L169.34 162.06L168.29 162.32L167.21 162.46L166.09 162.48L164.97 162.39L163.87 162.17L162.79 161.85L161.77 161.41L160.82 160.88L159.95 160.25L159.18 159.54L158.52 158.76L157.98 157.93L157.58 157.06L157.32 156.16L157.2 155.25L157.23 154.35L157.4 153.46L157.72 152.61L158.17 151.81L158.76 151.08L159.46 150.42L160.27 149.85L161.18 149.37L162.16 149L163.21 148.74L164.29 148.6L165.41 148.58L166.53 148.67L167.63 148.89L168.71 149.21L169.73 149.65L170.68 150.18Z" fill="#ebebf8"/>
<path d="M191.39 150.86L192.17 151.58L192.84 152.36L193.38 153.19L193.79 154.07L194.07 154.97L194.2 155.88L194.18 156.78L194.02 157.66L193.71 158.51L193.27 159.31L192.69 160.04L192 160.69L191.19 161.25L190.29 161.72L189.32 162.08L188.28 162.33L187.19 162.46L186.08 162.48L184.96 162.37L183.85 162.15L182.78 161.82L181.75 161.37L180.79 160.83L179.91 160.2L179.13 159.48L178.46 158.7L177.92 157.87L177.51 156.99L177.23 156.09L177.1 155.18L177.12 154.28L177.28 153.4L177.59 152.55L178.03 151.75L178.61 151.02L179.3 150.37L180.11 149.81L181.01 149.34L181.98 148.98L183.02 148.73L184.11 148.6L185.22 148.58L186.34 148.69L187.45 148.91L188.52 149.24L189.55 149.69L190.51 150.23Z" fill="#e7e7f7"/>
<path d="M214.07 148.6L214.1 148.74L213.98 148.99L213.71 149.36L213.3 149.83L212.76 150.4L212.1 151.05L211.33 151.79L210.45 152.59L209.5 153.43L208.47 154.32L207.4 155.22L206.29 156.13L205.17 157.03L204.06 157.91L202.97 158.74L201.93 159.52L200.95 160.23L200.05 160.86L199.24 161.4L198.54 161.83L197.96 162.16L197.51 162.38L197.19 162.48L197.03 162.46L197 162.32L197.12 162.07L197.39 161.7L197.8 161.23L198.34 160.66L199 160.01L199.77 159.27L200.65 158.47L201.6 157.63L202.63 156.74L203.7 155.84L204.81 154.93L205.93 154.03L207.04 153.15L208.13 152.32L209.17 151.54L210.15 150.83L211.05 150.2L211.86 149.66L212.56 149.23L213.14 148.9L213.59 148.68L213.91 148.58Z" fill="#ff0404"/>
<circle cx="205.55" cy="155.53" r="1.6" fill="rgba(20,20,45,0.6)"/>
<path d="M231.25 150.81L232.02 151.52L232.68 152.3L233.22 153.13L233.62 154L233.88 154.9L234 155.81L233.97 156.71L233.8 157.6L233.48 158.45L233.03 159.25L232.44 159.98L231.74 160.64L230.93 161.21L230.02 161.69L229.04 162.06L227.99 162.32L226.91 162.46L225.79 162.48L224.67 162.39L223.57 162.17L222.49 161.85L221.47 161.41L220.52 160.88L219.65 160.25L218.88 159.54L218.22 158.76L217.68 157.93L217.28 157.06L217.02 156.16L216.9 155.25L216.93 154.35L217.1 153.46L217.42 152.61L217.87 151.81L218.46 151.08L219.16 150.42L219.97 149.85L220.88 149.37L221.86 149L222.91 148.74L223.99 148.6L225.11 148.58L226.23 148.67L227.33 148.89L228.41 149.21L229.43 149.65L230.38 150.18Z" fill="#ebebf8"/>
<line x1="237.19" y1="162.16" x2="253.51" y2="148.9" stroke="#d88c8c" stroke-width="0.6"/>
<circle cx="245.35" cy="155.53" r="1.25" fill="#6a6a6a"/>
<path d="M93.26 165.93L93.82 166.49L94.25 167.13L94.54 167.85L94.69 168.64L94.69 169.48L94.54 170.36L94.26 171.27L93.83 172.18L93.27 173.08L92.59 173.96L91.8 174.8L90.91 175.58L89.95 176.3L88.91 176.95L87.83 177.5L86.72 177.95L85.6 178.3L84.49 178.54L83.41 178.65L82.38 178.65L81.41 178.53L80.52 178.29L79.72 177.95L79.04 177.49L78.48 176.93L78.05 176.29L77.76 175.57L77.61 174.78L77.61 173.94L77.76 173.06L78.04 172.15L78.47 171.24L79.03 170.34L79.71 169.46L80.5 168.62L81.39 167.84L82.35 167.12L83.39 166.47L84.47 165.92L85.58 165.47L86.7 165.12L87.81 164.88L88.89 164.77L89.92 164.77L90.89 164.89L91.78 165.13L92.58 165.47Z" fill="#ff9e9e"/>
<circle cx="86.15" cy="171.71" r="1.6" fill="rgba(20,20,45,0.6)"/>
<path d="M111.11 167.59L111.97 168.36L112.73 169.19L113.37 170.05L113.88 170.95L114.27 171.86L114.51 172.77L114.61 173.65L114.56 174.51L114.36 175.32L114.02 176.06L113.55 176.73L112.95 177.32L112.23 177.81L111.4 178.19L110.49 178.47L109.49 178.63L108.44 178.67L107.35 178.59L106.23 178.39L105.12 178.08L104.01 177.66L102.95 177.14L101.93 176.52L100.99 175.83L100.13 175.06L99.37 174.23L98.73 173.37L98.22 172.47L97.83 171.56L97.59 170.65L97.49 169.77L97.54 168.91L97.74 168.1L98.08 167.36L98.55 166.69L99.15 166.1L99.87 165.61L100.7 165.23L101.61 164.95L102.61 164.79L103.66 164.75L104.75 164.83L105.87 165.03L106.98 165.34L108.09 165.76L109.15 166.28L110.17 166.9Z" fill="#b6b6e7"/>
<circle cx="106.05" cy="171.71" r="1.6" fill="rgba(20,20,45,0.6)"/>
<path d="M130.79 167.77L131.67 168.56L132.45 169.39L133.12 170.27L133.67 171.17L134.09 172.08L134.36 172.98L134.49 173.87L134.48 174.71L134.32 175.5L134.02 176.23L133.58 176.88L133.01 177.45L132.31 177.91L131.51 178.27L130.62 178.52L129.64 178.65L128.6 178.66L127.52 178.55L126.41 178.32L125.29 177.99L124.18 177.54L123.1 177L122.07 176.36L121.11 175.65L120.23 174.86L119.45 174.03L118.78 173.15L118.23 172.25L117.81 171.34L117.54 170.44L117.41 169.55L117.42 168.71L117.58 167.92L117.88 167.19L118.32 166.54L118.89 165.97L119.59 165.51L120.39 165.15L121.28 164.9L122.26 164.77L123.3 164.76L124.38 164.87L125.49 165.1L126.61 165.43L127.72 165.88L128.8 166.42L129.83 167.06Z" fill="#a8a8e3"/>
<circle cx="125.95" cy="171.71" r="1.6" fill="rgba(20,20,45,0.6)"/>
<path d="M151.26 167.31L152.08 168.05L152.79 168.85L153.39 169.71L153.85 170.59L154.18 171.5L154.36 172.41L154.4 173.31L154.3 174.18L154.04 175.01L153.65 175.78L153.13 176.48L152.48 177.1L151.72 177.63L150.85 178.05L149.9 178.37L148.88 178.58L147.81 178.66L146.71 178.63L145.59 178.48L144.48 178.22L143.39 177.84L142.34 177.36L141.35 176.78L140.44 176.11L139.62 175.37L138.91 174.57L138.31 173.71L137.85 172.83L137.52 171.92L137.34 171.01L137.3 170.11L137.4 169.24L137.66 168.41L138.05 167.64L138.57 166.94L139.22 166.32L139.98 165.79L140.85 165.37L141.8 165.05L142.82 164.84L143.89 164.76L144.99 164.79L146.11 164.94L147.22 165.2L148.31 165.58L149.36 166.06L150.35 166.64Z" fill="#ceceee"/>
<path d="M171.33 167.17L172.13 167.9L172.82 168.69L173.39 169.54L173.83 170.42L174.13 171.32L174.28 172.23L174.29 173.13L174.16 174.01L173.88 174.85L173.46 175.63L172.91 176.35L172.24 176.99L171.46 177.53L170.57 177.98L169.61 178.32L168.58 178.55L167.5 178.66L166.39 178.65L165.27 178.52L164.16 178.28L163.08 177.92L162.04 177.46L161.07 176.9L160.17 176.25L159.37 175.52L158.68 174.73L158.11 173.88L157.67 173L157.37 172.1L157.22 171.19L157.21 170.29L157.34 169.41L157.62 168.57L158.04 167.79L158.59 167.07L159.26 166.43L160.04 165.89L160.93 165.44L161.89 165.1L162.92 164.87L164 164.76L165.11 164.77L166.23 164.9L167.34 165.14L168.42 165.5L169.46 165.96L170.43 166.52Z" fill="#dadaf2"/>
<path d="M191.52 166.94L192.28 167.64L192.93 168.41L193.45 169.24L193.85 170.11L194.1 171.01L194.2 171.92L194.16 172.82L193.98 173.71L193.65 174.56L193.19 175.37L192.59 176.11L191.88 176.78L191.06 177.35L190.15 177.84L189.16 178.21L188.11 178.48L187.02 178.63L185.91 178.66L184.79 178.58L183.68 178.37L182.61 178.05L181.6 177.63L180.65 177.1L179.78 176.48L179.02 175.78L178.37 175.01L177.85 174.18L177.45 173.31L177.2 172.41L177.1 171.5L177.14 170.6L177.32 169.71L177.65 168.86L178.11 168.05L178.71 167.31L179.42 166.64L180.24 166.07L181.15 165.58L182.14 165.21L183.19 164.94L184.28 164.79L185.39 164.76L186.51 164.84L187.62 165.05L188.69 165.37L189.7 165.79L190.65 166.32Z" fill="#f0f0fa"/>
<path d="M214.07 164.78L214.1 164.92L213.98 165.17L213.71 165.54L213.3 166.01L212.76 166.58L212.1 167.23L211.33 167.97L210.45 168.77L209.5 169.61L208.47 170.5L207.4 171.4L206.29 172.31L205.17 173.21L204.06 174.09L202.97 174.92L201.93 175.7L200.95 176.41L200.05 177.04L199.24 177.58L198.54 178.01L197.96 178.34L197.51 178.56L197.19 178.66L197.03 178.64L197 178.5L197.12 178.25L197.39 177.88L197.8 177.41L198.34 176.84L199 176.19L199.77 175.45L200.65 174.65L201.6 173.81L202.63 172.92L203.7 172.02L204.81 171.11L205.93 170.21L207.04 169.33L208.13 168.5L209.17 167.72L210.15 167.01L211.05 166.38L211.86 165.84L212.56 165.41L213.14 165.08L213.59 164.86L213.91 164.76Z" fill="#ff0404"/>
<circle cx="205.55" cy="171.71" r="1.6" fill="rgba(20,20,45,0.6)"/>
<path d="M231.41 166.86L232.16 167.56L232.8 168.32L233.31 169.14L233.68 170.01L233.92 170.91L234.01 171.81L233.95 172.72L233.75 173.61L233.4 174.47L232.92 175.28L232.32 176.03L231.59 176.7L230.76 177.29L229.84 177.79L228.84 178.18L227.79 178.46L226.69 178.62L225.58 178.67L224.46 178.59L223.36 178.4L222.29 178.1L221.28 177.68L220.34 177.17L219.49 176.56L218.74 175.86L218.1 175.1L217.59 174.28L217.22 173.41L216.98 172.51L216.89 171.61L216.95 170.7L217.15 169.81L217.5 168.95L217.98 168.14L218.58 167.39L219.31 166.72L220.14 166.13L221.06 165.63L222.06 165.24L223.11 164.96L224.21 164.8L225.32 164.75L226.44 164.83L227.54 165.02L228.61 165.32L229.62 165.74L230.56 166.25Z" fill="#f8f8fc"/>
<path d="M253.81 164.83L253.91 165.03L253.85 165.34L253.66 165.75L253.32 166.27L252.84 166.89L252.24 167.58L251.52 168.35L250.69 169.17L249.77 170.04L248.78 170.94L247.73 171.85L246.63 172.75L245.52 173.64L244.4 174.5L243.3 175.31L242.23 176.05L241.22 176.73L240.28 177.31L239.42 177.8L238.67 178.19L238.03 178.46L237.51 178.62L237.13 178.67L236.89 178.59L236.79 178.39L236.85 178.08L237.04 177.67L237.38 177.15L237.86 176.53L238.46 175.84L239.18 175.07L240.01 174.25L240.93 173.38L241.92 172.48L242.97 171.57L244.07 170.67L245.18 169.78L246.3 168.92L247.4 168.11L248.47 167.37L249.48 166.69L250.42 166.11L251.28 165.62L252.03 165.23L252.67 164.96L253.19 164.8L253.57 164.75Z" fill="#ff0b0b"/>
<circle cx="245.35" cy="171.71" r="1.6" fill="rgba(20,20,45,0.6)"/>
<line x1="257.09" y1="178.34" x2="273.41" y2="165.08" stroke="#d88c8c" stroke-width="0.6"/>
<circle cx="265.25" cy="171.71" r="1.25" fill="#6a6a6a"/>
<path d="M90.84 184.08L91.73 184.87L92.53 185.72L93.22 186.6L93.79 187.5L94.23 188.41L94.53 189.31L94.68 190.19L94.69 191.03L94.56 191.81L94.28 192.53L93.86 193.16L93.31 193.71L92.64 194.16L91.85 194.5L90.97 194.73L90.01 194.84L88.98 194.83L87.9 194.7L86.79 194.46L85.67 194.1L84.56 193.64L83.48 193.08L82.44 192.43L81.46 191.7L80.57 190.91L79.77 190.06L79.08 189.18L78.51 188.28L78.07 187.37L77.77 186.47L77.62 185.59L77.61 184.75L77.74 183.97L78.02 183.25L78.44 182.62L78.99 182.07L79.66 181.62L80.45 181.28L81.33 181.05L82.29 180.94L83.32 180.95L84.4 181.08L85.51 181.32L86.63 181.68L87.74 182.14L88.82 182.7L89.86 183.35Z" fill="#9f9fe0"/>
<circle cx="86.15" cy="187.89" r="1.6" fill="rgba(20,20,45,0.6)"/>
<path d="M112.68 182.5L113.33 183.12L113.85 183.82L114.24 184.59L114.5 185.42L114.6 186.29L114.56 187.19L114.38 188.1L114.05 189.01L113.59 189.89L112.99 190.75L112.28 191.55L111.46 192.29L110.55 192.96L109.56 193.54L108.51 194.02L107.42 194.4L106.31 194.66L105.19 194.81L104.09 194.84L103.02 194.76L102 194.55L101.05 194.23L100.18 193.81L99.42 193.28L98.77 192.66L98.25 191.96L97.86 191.19L97.6 190.36L97.5 189.49L97.54 188.59L97.72 187.68L98.05 186.77L98.51 185.89L99.11 185.03L99.82 184.23L100.64 183.49L101.55 182.82L102.54 182.24L103.59 181.76L104.68 181.38L105.79 181.12L106.91 180.97L108.01 180.94L109.08 181.02L110.1 181.23L111.05 181.55L111.92 181.97Z" fill="#ffcccc"/>
<path d="M132.58 182.5L133.23 183.12L133.75 183.82L134.14 184.59L134.4 185.42L134.5 186.29L134.46 187.19L134.28 188.1L133.95 189.01L133.49 189.89L132.89 190.75L132.18 191.55L131.36 192.29L130.45 192.96L129.46 193.54L128.41 194.02L127.32 194.4L126.21 194.66L125.09 194.81L123.99 194.84L122.92 194.76L121.9 194.55L120.95 194.23L120.08 193.81L119.32 193.28L118.67 192.66L118.15 191.96L117.76 191.19L117.5 190.36L117.4 189.49L117.44 188.59L117.62 187.68L117.95 186.77L118.41 185.89L119.01 185.03L119.72 184.23L120.54 183.49L121.45 182.82L122.44 182.24L123.49 181.76L124.58 181.38L125.69 181.12L126.81 180.97L127.91 180.94L128.98 181.02L130 181.23L130.95 181.55L131.82 181.97Z" fill="#ffcccc"/>
<path d="M152.59 182.41L153.22 183.02L153.72 183.71L154.09 184.47L154.32 185.29L154.41 186.15L154.34 187.05L154.14 187.96L153.79 188.87L153.3 189.76L152.69 190.61L151.96 191.43L151.12 192.18L150.2 192.86L149.2 193.45L148.14 193.95L147.05 194.34L145.93 194.63L144.82 194.8L143.72 194.85L142.65 194.78L141.64 194.59L140.71 194.29L139.86 193.88L139.11 193.37L138.48 192.76L137.98 192.07L137.61 191.31L137.38 190.49L137.29 189.63L137.36 188.73L137.56 187.82L137.91 186.91L138.4 186.02L139.01 185.17L139.74 184.35L140.58 183.6L141.5 182.92L142.5 182.33L143.56 181.83L144.65 181.44L145.77 181.15L146.88 180.98L147.98 180.93L149.05 181L150.06 181.19L150.99 181.49L151.84 181.9Z" fill="#ffc2c2"/>
<path d="M171.74 183.02L172.49 183.71L173.12 184.47L173.62 185.29L173.99 186.16L174.22 187.05L174.31 187.96L174.24 188.87L174.04 189.76L173.69 190.62L173.2 191.43L172.59 192.18L171.86 192.86L171.03 193.45L170.1 193.95L169.1 194.34L168.05 194.63L166.95 194.8L165.84 194.85L164.72 194.78L163.62 194.59L162.55 194.29L161.55 193.88L160.61 193.37L159.76 192.76L159.01 192.07L158.38 191.31L157.88 190.49L157.51 189.62L157.28 188.73L157.19 187.82L157.26 186.91L157.46 186.02L157.81 185.16L158.3 184.35L158.91 183.6L159.64 182.92L160.47 182.33L161.4 181.83L162.4 181.44L163.45 181.15L164.55 180.98L165.66 180.93L166.78 181L167.88 181.19L168.95 181.49L169.95 181.9L170.89 182.41Z" fill="#fafafd"/>
<path d="M191.61 183.04L192.36 183.74L193 184.5L193.51 185.32L193.88 186.19L194.12 187.09L194.21 187.99L194.15 188.9L193.95 189.79L193.6 190.65L193.12 191.46L192.52 192.21L191.79 192.88L190.96 193.47L190.04 193.97L189.04 194.36L187.99 194.64L186.89 194.8L185.78 194.85L184.66 194.77L183.56 194.58L182.49 194.28L181.48 193.86L180.54 193.35L179.69 192.74L178.94 192.04L178.3 191.28L177.79 190.46L177.42 189.59L177.18 188.69L177.09 187.79L177.15 186.88L177.35 185.99L177.7 185.13L178.18 184.32L178.78 183.57L179.51 182.9L180.34 182.31L181.26 181.81L182.26 181.42L183.31 181.14L184.41 180.98L185.52 180.93L186.64 181.01L187.74 181.2L188.81 181.5L189.82 181.92L190.76 182.43Z" fill="#f8f8fc"/>
<path d="M211.29 183.22L212.07 183.94L212.74 184.72L213.28 185.55L213.69 186.43L213.97 187.33L214.1 188.24L214.08 189.14L213.92 190.02L213.61 190.87L213.17 191.67L212.59 192.4L211.9 193.05L211.09 193.61L210.19 194.08L209.22 194.44L208.18 194.69L207.09 194.82L205.98 194.84L204.86 194.73L203.75 194.51L202.68 194.18L201.65 193.73L200.69 193.19L199.81 192.56L199.03 191.84L198.36 191.06L197.82 190.23L197.41 189.35L197.13 188.45L197 187.54L197.02 186.64L197.18 185.76L197.49 184.91L197.93 184.11L198.51 183.38L199.2 182.73L200.01 182.17L200.91 181.7L201.88 181.34L202.92 181.09L204.01 180.96L205.12 180.94L206.24 181.05L207.35 181.27L208.42 181.6L209.45 182.05L210.41 182.59Z" fill="#e7e7f7"/>
<path d="M231.71 182.8L232.42 183.46L233.01 184.2L233.47 185L233.79 185.86L233.97 186.74L234 187.65L233.89 188.56L233.63 189.45L233.24 190.33L232.71 191.16L232.05 191.93L231.29 192.63L230.42 193.26L229.47 193.79L228.45 194.22L227.37 194.54L226.27 194.75L225.15 194.84L224.04 194.82L222.95 194.67L221.9 194.41L220.91 194.03L220.01 193.55L219.19 192.98L218.48 192.32L217.89 191.58L217.43 190.78L217.11 189.92L216.93 189.04L216.9 188.13L217.01 187.22L217.27 186.33L217.66 185.45L218.19 184.62L218.85 183.85L219.61 183.15L220.48 182.52L221.43 181.99L222.45 181.56L223.53 181.24L224.63 181.03L225.75 180.94L226.86 180.96L227.95 181.11L229 181.37L229.99 181.75L230.89 182.23Z" fill="#ffeded"/>
<path d="M251.28 183.07L252.03 183.77L252.67 184.53L253.19 185.36L253.57 186.22L253.81 187.12L253.91 188.03L253.85 188.94L253.66 189.82L253.32 190.68L252.84 191.49L252.24 192.23L251.52 192.91L250.69 193.49L249.78 193.98L248.78 194.37L247.73 194.65L246.64 194.8L245.52 194.85L244.4 194.77L243.3 194.57L242.23 194.26L241.22 193.84L240.28 193.32L239.42 192.71L238.67 192.01L238.03 191.25L237.51 190.42L237.13 189.56L236.89 188.66L236.79 187.75L236.85 186.84L237.04 185.96L237.38 185.1L237.86 184.29L238.46 183.55L239.18 182.87L240.01 182.29L240.92 181.8L241.92 181.41L242.97 181.13L244.06 180.98L245.18 180.93L246.3 181.01L247.4 181.21L248.47 181.52L249.48 181.94L250.42 182.46Z" fill="#f5f5fc"/>
<path d="M270.93 183.27L271.71 183.99L272.39 184.78L272.94 185.62L273.37 186.5L273.65 187.4L273.79 188.31L273.79 189.21L273.63 190.09L273.34 190.93L272.9 191.72L272.34 192.45L271.65 193.1L270.86 193.65L269.97 194.11L268.99 194.47L267.96 194.71L266.87 194.83L265.76 194.83L264.65 194.72L263.54 194.49L262.46 194.15L261.42 193.7L260.46 193.15L259.57 192.51L258.79 191.79L258.11 191L257.56 190.16L257.13 189.28L256.85 188.38L256.71 187.47L256.71 186.57L256.87 185.69L257.16 184.85L257.6 184.06L258.16 183.33L258.85 182.68L259.64 182.13L260.53 181.67L261.51 181.31L262.54 181.07L263.63 180.95L264.74 180.95L265.85 181.06L266.96 181.29L268.04 181.63L269.08 182.08L270.04 182.63Z" fill="#e2e2f5"/>
<line x1="276.99" y1="194.52" x2="293.31" y2="181.26" stroke="#d88c8c" stroke-width="0.6"/>
<circle cx="285.15" cy="187.89" r="1.25" fill="#6a6a6a"/>
<path d="M76.2 195.98H295.1" fill="none" stroke="#555" stroke-width="1.1"/>
<path d="M76.2 18V196.48" fill="none" stroke="#555" stroke-width="1.1"/>
<text transform="translate(71.7 29.68) scale(1 1.07)" font-size="11.3" text-anchor="end">CSI</text>
<text transform="translate(71.7 45.86) scale(1 1.07)" font-size="11.3" text-anchor="end">R9B4SK</text>
<text transform="translate(71.7 62.04) scale(1 1.07)" font-size="11.3" text-anchor="end">R7B4SK</text>
<text transform="translate(71.7 78.22) scale(1 1.07)" font-size="11.3" text-anchor="end">R9B4SM</text>
<text transform="translate(71.7 94.4) scale(1 1.07)" font-size="11.3" text-anchor="end">R3B3SK</text>
<text transform="translate(71.7 110.58) scale(1 1.07)" font-size="11.3" text-anchor="end">R3B2SK</text>
<text transform="translate(71.7 126.76) scale(1 1.07)" font-size="11.3" text-anchor="end">R17B1SM</text>
<text transform="translate(71.7 142.94) scale(1 1.07)" font-size="11.3" text-anchor="end">R3B4SK</text>
<text transform="translate(71.7 159.12) scale(1 1.07)" font-size="11.3" text-anchor="end">R19B1SM</text>
<text transform="translate(71.7 175.3) scale(1 1.07)" font-size="11.3" text-anchor="end">R15B1SM</text>
<text transform="translate(71.7 191.48) scale(1 1.07)" font-size="11.3" text-anchor="end">R7B4CC</text>
<defs><linearGradient id="ga" x1="0" y1="0" x2="0" y2="1"><stop offset="0" stop-color="#ff0000"/><stop offset="0.5" stop-color="#ffffff"/><stop offset="0.62" stop-color="#c2c2ea"/><stop offset="0.75" stop-color="#8787da"/><stop offset="0.85" stop-color="#5858cb"/><stop offset="1" stop-color="#080896"/></linearGradient></defs>
<rect x="297.3" y="18" width="12.5" height="177.98" fill="url(#ga)" stroke="#9a9a9a" stroke-width="0.7"/>
<text transform="translate(317.5 22.43) scale(1 1.07)" font-size="11.4">1</text>
<text transform="translate(317.5 40.22) scale(1 1.07)" font-size="11.4">0.8</text>
<text transform="translate(317.5 58.02) scale(1 1.07)" font-size="11.4">0.6</text>
<text transform="translate(317.5 75.82) scale(1 1.07)" font-size="11.4">0.4</text>
<text transform="translate(317.5 93.62) scale(1 1.07)" font-size="11.4">0.2</text>
<text transform="translate(317.5 111.42) scale(1 1.07)" font-size="11.4">0</text>
<text transform="translate(317.5 129.21) scale(1 1.07)" font-size="11.4">−0.2</text>
<text transform="translate(317.5 147.01) scale(1 1.07)" font-size="11.4">−0.4</text>
<text transform="translate(317.5 164.81) scale(1 1.07)" font-size="11.4">−0.6</text>
<text transform="translate(317.5 182.61) scale(1 1.07)" font-size="11.4">−0.8</text>
<text transform="translate(317.5 200.41) scale(1 1.07)" font-size="11.4">−1</text>
<path d="M309.8 18h3M309.8 35.8h3M309.8 53.6h3M309.8 71.39h3M309.8 89.19h3M309.8 106.99h3M309.8 124.79h3M309.8 142.59h3M309.8 160.38h3M309.8 178.18h3M309.8 195.98h3" stroke="#777" stroke-width="0.8"/>
<text transform="translate(10.6 27.4) scale(1 1.07)" font-size="14">(a)</text>
<text transform="translate(76.5 211.3) scale(1 1.07)" font-size="9.94">*</text>
<text transform="translate(85.1 212.3) scale(1 1.07)" font-size="11.3"><tspan font-style="italic">P</tspan>&lt;=0.01</text>
<path d="M78.3 254.9h20.85v17.2h-20.85zM78.3 272.1h20.85v17.2h-20.85zM99.15 272.1h20.85v17.2h-20.85zM78.3 289.3h20.85v17.2h-20.85zM99.15 289.3h20.85v17.2h-20.85zM120 289.3h20.85v17.2h-20.85zM78.3 306.5h20.85v17.2h-20.85zM99.15 306.5h20.85v17.2h-20.85zM120 306.5h20.85v17.2h-20.85zM140.85 306.5h20.85v17.2h-20.85zM78.3 323.7h20.85v17.2h-20.85zM99.15 323.7h20.85v17.2h-20.85zM120 323.7h20.85v17.2h-20.85zM140.85 323.7h20.85v17.2h-20.85zM161.7 323.7h20.85v17.2h-20.85zM78.3 340.9h20.85v17.2h-20.85zM99.15 340.9h20.85v17.2h-20.85zM120 340.9h20.85v17.2h-20.85zM140.85 340.9h20.85v17.2h-20.85zM161.7 340.9h20.85v17.2h-20.85zM182.55 340.9h20.85v17.2h-20.85zM78.3 358.1h20.85v17.2h-20.85zM99.15 358.1h20.85v17.2h-20.85zM120 358.1h20.85v17.2h-20.85zM140.85 358.1h20.85v17.2h-20.85zM161.7 358.1h20.85v17.2h-20.85zM182.55 358.1h20.85v17.2h-20.85zM203.4 358.1h20.85v17.2h-20.85zM78.3 375.3h20.85v17.2h-20.85zM99.15 375.3h20.85v17.2h-20.85zM120 375.3h20.85v17.2h-20.85zM140.85 375.3h20.85v17.2h-20.85zM161.7 375.3h20.85v17.2h-20.85zM182.55 375.3h20.85v17.2h-20.85zM203.4 375.3h20.85v17.2h-20.85zM224.25 375.3h20.85v17.2h-20.85zM78.3 392.5h20.85v17.2h-20.85zM99.15 392.5h20.85v17.2h-20.85zM120 392.5h20.85v17.2h-20.85zM140.85 392.5h20.85v17.2h-20.85zM161.7 392.5h20.85v17.2h-20.85zM182.55 392.5h20.85v17.2h-20.85zM203.4 392.5h20.85v17.2h-20.85zM224.25 392.5h20.85v17.2h-20.85zM245.1 392.5h20.85v17.2h-20.85zM78.3 409.7h20.85v17.2h-20.85zM99.15 409.7h20.85v17.2h-20.85zM120 409.7h20.85v17.2h-20.85zM140.85 409.7h20.85v17.2h-20.85zM161.7 409.7h20.85v17.2h-20.85zM182.55 409.7h20.85v17.2h-20.85zM203.4 409.7h20.85v17.2h-20.85zM224.25 409.7h20.85v17.2h-20.85zM245.1 409.7h20.85v17.2h-20.85zM265.95 409.7h20.85v17.2h-20.85zM78.3 426.9h20.85v17.2h-20.85zM99.15 426.9h20.85v17.2h-20.85zM120 426.9h20.85v17.2h-20.85zM140.85 426.9h20.85v17.2h-20.85zM161.7 426.9h20.85v17.2h-20.85zM182.55 426.9h20.85v17.2h-20.85zM203.4 426.9h20.85v17.2h-20.85zM224.25 426.9h20.85v17.2h-20.85zM245.1 426.9h20.85v17.2h-20.85zM265.95 426.9h20.85v17.2h-20.85zM286.8 426.9h20.85v17.2h-20.85z" fill="none" stroke="#efefef" stroke-width="0.5"/>
<line x1="80.18" y1="270.55" x2="97.27" y2="256.45" stroke="#d88c8c" stroke-width="0.6"/>
<circle cx="88.72" cy="263.5" r="1.25" fill="#6a6a6a"/>
<path d="M96.36 274.4L96.91 274.96L97.32 275.62L97.58 276.37L97.69 277.19L97.64 278.06L97.45 278.99L97.1 279.94L96.61 280.91L95.99 281.87L95.24 282.82L94.38 283.72L93.43 284.58L92.39 285.37L91.29 286.08L90.15 286.69L88.98 287.21L87.81 287.61L86.65 287.9L85.53 288.06L84.46 288.09L83.47 288L82.57 287.79L81.77 287.45L81.09 287L80.54 286.44L80.13 285.78L79.87 285.03L79.76 284.21L79.81 283.34L80 282.41L80.35 281.46L80.84 280.49L81.46 279.53L82.21 278.58L83.07 277.68L84.02 276.82L85.06 276.03L86.16 275.32L87.3 274.71L88.47 274.19L89.64 273.79L90.8 273.5L91.92 273.34L92.99 273.31L93.98 273.4L94.88 273.61L95.68 273.95Z" fill="#ff8c8c"/>
<circle cx="88.72" cy="280.7" r="1.6" fill="rgba(20,20,45,0.6)"/>
<line x1="101.03" y1="287.75" x2="118.12" y2="273.65" stroke="#d88c8c" stroke-width="0.6"/>
<circle cx="109.58" cy="280.7" r="1.25" fill="#6a6a6a"/>
<path d="M96.36 291.6L96.91 292.16L97.32 292.82L97.58 293.57L97.69 294.39L97.64 295.26L97.45 296.19L97.1 297.14L96.61 298.11L95.99 299.07L95.24 300.02L94.38 300.92L93.43 301.78L92.39 302.57L91.29 303.28L90.15 303.89L88.98 304.41L87.81 304.81L86.65 305.1L85.53 305.26L84.46 305.29L83.47 305.2L82.57 304.99L81.77 304.65L81.09 304.2L80.54 303.64L80.13 302.98L79.87 302.23L79.76 301.41L79.81 300.54L80 299.61L80.35 298.66L80.84 297.69L81.46 296.73L82.21 295.78L83.07 294.88L84.02 294.02L85.06 293.23L86.16 292.52L87.3 291.91L88.47 291.39L89.64 290.99L90.8 290.7L91.92 290.54L92.99 290.51L93.98 290.6L94.88 290.81L95.68 291.15Z" fill="#ff8c8c"/>
<circle cx="88.72" cy="297.9" r="1.6" fill="rgba(20,20,45,0.6)"/>
<path d="M118.51 290.53L118.53 290.68L118.4 290.95L118.12 291.34L117.7 291.84L117.13 292.44L116.44 293.14L115.63 293.92L114.71 294.77L113.71 295.67L112.64 296.61L111.51 297.57L110.35 298.54L109.18 299.5L108.01 300.43L106.87 301.31L105.78 302.14L104.75 302.89L103.81 303.56L102.96 304.14L102.23 304.6L101.62 304.95L101.15 305.18L100.82 305.29L100.64 305.27L100.62 305.12L100.75 304.85L101.03 304.46L101.45 303.96L102.02 303.36L102.71 302.66L103.52 301.88L104.44 301.03L105.44 300.13L106.51 299.19L107.64 298.23L108.8 297.26L109.97 296.3L111.14 295.37L112.28 294.49L113.37 293.66L114.4 292.91L115.34 292.24L116.19 291.66L116.92 291.2L117.53 290.85L118 290.62L118.33 290.51Z" fill="#ff0404"/>
<circle cx="109.58" cy="297.9" r="1.6" fill="rgba(20,20,45,0.6)"/>
<line x1="121.88" y1="304.95" x2="138.97" y2="290.85" stroke="#d88c8c" stroke-width="0.6"/>
<circle cx="130.43" cy="297.9" r="1.25" fill="#6a6a6a"/>
<path d="M96.36 308.8L96.91 309.36L97.32 310.02L97.58 310.77L97.69 311.59L97.64 312.46L97.45 313.39L97.1 314.34L96.61 315.31L95.99 316.27L95.24 317.22L94.38 318.12L93.43 318.98L92.39 319.77L91.29 320.48L90.15 321.09L88.98 321.61L87.81 322.01L86.65 322.3L85.53 322.46L84.46 322.49L83.47 322.4L82.57 322.19L81.77 321.85L81.09 321.4L80.54 320.84L80.13 320.18L79.87 319.43L79.76 318.61L79.81 317.74L80 316.81L80.35 315.86L80.84 314.89L81.46 313.93L82.21 312.98L83.07 312.08L84.02 311.22L85.06 310.43L86.16 309.72L87.3 309.11L88.47 308.59L89.64 308.19L90.8 307.9L91.92 307.74L92.99 307.71L93.98 307.8L94.88 308.01L95.68 308.35Z" fill="#ff8c8c"/>
<circle cx="88.72" cy="315.1" r="1.6" fill="rgba(20,20,45,0.6)"/>
<path d="M118.51 307.73L118.53 307.88L118.4 308.15L118.12 308.54L117.7 309.04L117.13 309.64L116.44 310.34L115.63 311.12L114.71 311.97L113.71 312.87L112.64 313.81L111.51 314.77L110.35 315.74L109.18 316.7L108.01 317.63L106.87 318.51L105.78 319.34L104.75 320.09L103.81 320.76L102.96 321.34L102.23 321.8L101.62 322.15L101.15 322.38L100.82 322.49L100.64 322.47L100.62 322.32L100.75 322.05L101.03 321.66L101.45 321.16L102.02 320.56L102.71 319.86L103.52 319.08L104.44 318.23L105.44 317.33L106.51 316.39L107.64 315.43L108.8 314.46L109.97 313.5L111.14 312.57L112.28 311.69L113.37 310.86L114.4 310.11L115.34 309.44L116.19 308.86L116.92 308.4L117.53 308.05L118 307.82L118.33 307.71Z" fill="#ff0404"/>
<circle cx="109.58" cy="315.1" r="1.6" fill="rgba(20,20,45,0.6)"/>
<path d="M139.31 307.77L139.39 307.96L139.32 308.27L139.09 308.7L138.71 309.24L138.2 309.88L137.55 310.61L136.78 311.41L135.9 312.28L134.92 313.2L133.87 314.15L132.76 315.11L131.61 316.08L130.44 317.03L129.27 317.94L128.12 318.81L127.01 319.61L125.96 320.34L124.98 320.98L124.1 321.51L123.32 321.94L122.67 322.25L122.15 322.43L121.77 322.5L121.54 322.43L121.46 322.24L121.53 321.93L121.76 321.5L122.14 320.96L122.65 320.32L123.3 319.59L124.07 318.79L124.95 317.92L125.93 317L126.98 316.05L128.09 315.09L129.24 314.12L130.41 313.17L131.58 312.26L132.73 311.39L133.84 310.59L134.89 309.86L135.87 309.22L136.75 308.69L137.53 308.26L138.18 307.95L138.7 307.77L139.08 307.7Z" fill="#ff0909"/>
<circle cx="130.43" cy="315.1" r="1.6" fill="rgba(20,20,45,0.6)"/>
<line x1="142.73" y1="322.15" x2="159.82" y2="308.05" stroke="#d88c8c" stroke-width="0.6"/>
<circle cx="151.28" cy="315.1" r="1.25" fill="#6a6a6a"/>
<path d="M96.28 326.07L96.85 326.64L97.27 327.31L97.55 328.07L97.68 328.89L97.66 329.78L97.48 330.71L97.15 331.67L96.68 332.63L96.08 333.59L95.34 334.53L94.5 335.44L93.55 336.28L92.53 337.06L91.43 337.76L90.29 338.36L89.13 338.87L87.96 339.25L86.8 339.52L85.67 339.67L84.6 339.69L83.59 339.58L82.68 339.35L81.87 339L81.17 338.53L80.6 337.96L80.18 337.29L79.9 336.53L79.77 335.71L79.79 334.82L79.97 333.89L80.3 332.93L80.77 331.97L81.37 331.01L82.11 330.07L82.95 329.16L83.9 328.32L84.92 327.54L86.02 326.84L87.16 326.24L88.32 325.73L89.49 325.35L90.65 325.08L91.78 324.93L92.85 324.91L93.86 325.02L94.77 325.25L95.58 325.6Z" fill="#ff9494"/>
<circle cx="88.72" cy="332.3" r="1.6" fill="rgba(20,20,45,0.6)"/>
<path d="M118.22 325.17L118.46 325.48L118.54 325.92L118.47 326.46L118.25 327.1L117.88 327.83L117.37 328.64L116.72 329.51L115.95 330.43L115.08 331.38L114.1 332.34L113.06 333.31L111.95 334.26L110.8 335.17L109.63 336.04L108.46 336.84L107.31 337.56L106.19 338.19L105.14 338.73L104.16 339.15L103.27 339.46L102.49 339.64L101.84 339.7L101.31 339.63L100.93 339.43L100.69 339.12L100.61 338.68L100.68 338.14L100.9 337.5L101.27 336.77L101.78 335.96L102.43 335.09L103.2 334.17L104.07 333.22L105.05 332.26L106.09 331.29L107.2 330.34L108.35 329.43L109.52 328.56L110.69 327.76L111.84 327.04L112.96 326.41L114.01 325.87L114.99 325.45L115.88 325.14L116.66 324.96L117.31 324.9L117.84 324.97Z" fill="#ff2424"/>
<circle cx="109.58" cy="332.3" r="1.6" fill="rgba(20,20,45,0.6)"/>
<path d="M139.07 325.17L139.31 325.48L139.39 325.92L139.32 326.46L139.1 327.1L138.73 327.83L138.22 328.64L137.57 329.51L136.8 330.43L135.93 331.38L134.95 332.34L133.91 333.31L132.8 334.26L131.65 335.17L130.48 336.04L129.31 336.84L128.16 337.56L127.04 338.19L125.99 338.73L125.01 339.15L124.12 339.46L123.34 339.64L122.69 339.7L122.16 339.63L121.78 339.43L121.54 339.12L121.46 338.68L121.53 338.14L121.75 337.5L122.12 336.77L122.63 335.96L123.28 335.09L124.05 334.17L124.92 333.22L125.9 332.26L126.94 331.29L128.05 330.34L129.2 329.43L130.37 328.56L131.54 327.76L132.69 327.04L133.81 326.41L134.86 325.87L135.84 325.45L136.73 325.14L137.51 324.96L138.16 324.9L138.69 324.97Z" fill="#ff2424"/>
<circle cx="130.43" cy="332.3" r="1.6" fill="rgba(20,20,45,0.6)"/>
<path d="M159.92 325.17L160.16 325.48L160.24 325.92L160.17 326.46L159.95 327.1L159.58 327.83L159.07 328.64L158.42 329.51L157.65 330.43L156.78 331.38L155.8 332.34L154.76 333.31L153.65 334.26L152.5 335.17L151.33 336.04L150.16 336.84L149.01 337.56L147.89 338.19L146.84 338.73L145.86 339.15L144.97 339.46L144.19 339.64L143.54 339.7L143.01 339.63L142.63 339.43L142.39 339.12L142.31 338.68L142.38 338.14L142.6 337.5L142.97 336.77L143.48 335.96L144.13 335.09L144.9 334.17L145.77 333.22L146.75 332.26L147.79 331.29L148.9 330.34L150.05 329.43L151.22 328.56L152.39 327.76L153.54 327.04L154.66 326.41L155.71 325.87L156.69 325.45L157.58 325.14L158.36 324.96L159.01 324.9L159.54 324.97Z" fill="#ff2424"/>
<circle cx="151.28" cy="332.3" r="1.6" fill="rgba(20,20,45,0.6)"/>
<line x1="163.58" y1="339.35" x2="180.67" y2="325.25" stroke="#d88c8c" stroke-width="0.6"/>
<circle cx="172.12" cy="332.3" r="1.25" fill="#6a6a6a"/>
<path d="M96.28 343.27L96.85 343.84L97.27 344.51L97.55 345.27L97.68 346.09L97.66 346.98L97.48 347.91L97.15 348.87L96.68 349.83L96.08 350.79L95.34 351.73L94.5 352.64L93.55 353.48L92.53 354.26L91.43 354.96L90.29 355.56L89.13 356.07L87.96 356.45L86.8 356.72L85.67 356.87L84.6 356.89L83.59 356.78L82.68 356.55L81.87 356.2L81.17 355.73L80.6 355.16L80.18 354.49L79.9 353.73L79.77 352.91L79.79 352.02L79.97 351.09L80.3 350.13L80.77 349.17L81.37 348.21L82.11 347.27L82.95 346.36L83.9 345.52L84.92 344.74L86.02 344.04L87.16 343.44L88.32 342.93L89.49 342.55L90.65 342.28L91.78 342.13L92.85 342.11L93.86 342.22L94.77 342.45L95.58 342.8Z" fill="#ff9494"/>
<circle cx="88.72" cy="349.5" r="1.6" fill="rgba(20,20,45,0.6)"/>
<path d="M118.24 342.35L118.47 342.66L118.54 343.08L118.46 343.61L118.23 344.25L117.84 344.97L117.32 345.78L116.67 346.64L115.89 347.56L115 348.51L114.03 349.47L112.97 350.44L111.86 351.39L110.71 352.3L109.54 353.17L108.37 353.98L107.22 354.71L106.11 355.35L105.06 355.89L104.09 356.32L103.21 356.64L102.44 356.83L101.79 356.9L101.28 356.84L100.91 356.65L100.68 356.34L100.61 355.92L100.69 355.39L100.92 354.75L101.31 354.03L101.83 353.22L102.48 352.36L103.26 351.44L104.15 350.49L105.12 349.53L106.18 348.56L107.29 347.61L108.44 346.7L109.61 345.83L110.78 345.02L111.93 344.29L113.04 343.65L114.09 343.11L115.06 342.68L115.94 342.36L116.71 342.17L117.36 342.1L117.87 342.16Z" fill="#ff2121"/>
<circle cx="109.58" cy="349.5" r="1.6" fill="rgba(20,20,45,0.6)"/>
<path d="M139.09 342.35L139.32 342.66L139.39 343.08L139.31 343.61L139.08 344.25L138.69 344.97L138.17 345.78L137.52 346.64L136.74 347.56L135.85 348.51L134.88 349.47L133.82 350.44L132.71 351.39L131.56 352.3L130.39 353.17L129.22 353.98L128.07 354.71L126.96 355.35L125.91 355.89L124.94 356.32L124.06 356.64L123.29 356.83L122.64 356.9L122.13 356.84L121.76 356.65L121.53 356.34L121.46 355.92L121.54 355.39L121.77 354.75L122.16 354.03L122.68 353.22L123.33 352.36L124.11 351.44L125 350.49L125.97 349.53L127.03 348.56L128.14 347.61L129.29 346.7L130.46 345.83L131.63 345.02L132.78 344.29L133.89 343.65L134.94 343.11L135.91 342.68L136.79 342.36L137.56 342.17L138.21 342.1L138.72 342.16Z" fill="#ff2121"/>
<circle cx="130.43" cy="349.5" r="1.6" fill="rgba(20,20,45,0.6)"/>
<path d="M159.94 342.35L160.17 342.66L160.24 343.08L160.16 343.61L159.93 344.25L159.54 344.97L159.02 345.78L158.37 346.64L157.59 347.56L156.7 348.51L155.73 349.47L154.67 350.44L153.56 351.39L152.41 352.3L151.24 353.17L150.07 353.98L148.92 354.71L147.81 355.35L146.76 355.89L145.79 356.32L144.91 356.64L144.14 356.83L143.49 356.9L142.98 356.84L142.61 356.65L142.38 356.34L142.31 355.92L142.39 355.39L142.62 354.75L143.01 354.03L143.53 353.22L144.18 352.36L144.96 351.44L145.85 350.49L146.82 349.53L147.88 348.56L148.99 347.61L150.14 346.7L151.31 345.83L152.48 345.02L153.63 344.29L154.74 343.65L155.79 343.11L156.76 342.68L157.64 342.36L158.41 342.17L159.06 342.1L159.57 342.16Z" fill="#ff2121"/>
<circle cx="151.28" cy="349.5" r="1.6" fill="rgba(20,20,45,0.6)"/>
<path d="M180.82 342.33L181.03 342.63L181.09 343.04L181 343.57L180.75 344.2L180.36 344.91L179.82 345.71L179.16 346.57L178.37 347.48L177.48 348.43L176.5 349.39L175.44 350.36L174.32 351.31L173.17 352.23L172 353.11L170.83 353.92L169.68 354.65L168.58 355.3L167.53 355.85L166.57 356.29L165.7 356.62L164.93 356.82L164.3 356.9L163.79 356.85L163.43 356.67L163.22 356.37L163.16 355.96L163.25 355.43L163.5 354.8L163.89 354.09L164.43 353.29L165.09 352.43L165.88 351.52L166.77 350.57L167.75 349.61L168.81 348.64L169.93 347.69L171.08 346.77L172.25 345.89L173.42 345.08L174.57 344.35L175.67 343.7L176.72 343.15L177.68 342.71L178.55 342.38L179.32 342.18L179.95 342.1L180.46 342.15Z" fill="#ff1f1f"/>
<circle cx="172.12" cy="349.5" r="1.6" fill="rgba(20,20,45,0.6)"/>
<line x1="184.43" y1="356.55" x2="201.52" y2="342.45" stroke="#d88c8c" stroke-width="0.6"/>
<circle cx="192.98" cy="349.5" r="1.25" fill="#6a6a6a"/>
<path d="M96.28 360.47L96.85 361.04L97.27 361.71L97.55 362.47L97.68 363.29L97.66 364.18L97.48 365.11L97.15 366.07L96.68 367.03L96.08 367.99L95.34 368.93L94.5 369.84L93.55 370.68L92.53 371.46L91.43 372.16L90.29 372.76L89.13 373.27L87.96 373.65L86.8 373.92L85.67 374.07L84.6 374.09L83.59 373.98L82.68 373.75L81.87 373.4L81.17 372.93L80.6 372.36L80.18 371.69L79.9 370.93L79.77 370.11L79.79 369.22L79.97 368.29L80.3 367.33L80.77 366.37L81.37 365.41L82.11 364.47L82.95 363.56L83.9 362.72L84.92 361.94L86.02 361.24L87.16 360.64L88.32 360.13L89.49 359.75L90.65 359.48L91.78 359.33L92.85 359.31L93.86 359.42L94.77 359.65L95.58 360Z" fill="#ff9494"/>
<circle cx="88.72" cy="366.7" r="1.6" fill="rgba(20,20,45,0.6)"/>
<path d="M118.08 359.68L118.38 360.05L118.52 360.53L118.52 361.11L118.36 361.79L118.05 362.56L117.59 363.39L117 364.28L116.28 365.22L115.45 366.18L114.51 367.14L113.5 368.1L112.41 369.04L111.28 369.93L110.11 370.78L108.94 371.55L107.78 372.23L106.65 372.83L105.57 373.32L104.55 373.69L103.63 373.95L102.8 374.08L102.09 374.08L101.51 373.96L101.07 373.72L100.77 373.35L100.63 372.87L100.63 372.29L100.79 371.61L101.1 370.84L101.56 370.01L102.15 369.12L102.87 368.18L103.7 367.22L104.64 366.26L105.65 365.3L106.74 364.36L107.87 363.47L109.04 362.62L110.21 361.85L111.37 361.17L112.5 360.57L113.58 360.08L114.6 359.71L115.52 359.45L116.35 359.32L117.06 359.32L117.64 359.44Z" fill="#ff3333"/>
<circle cx="109.58" cy="366.7" r="1.6" fill="rgba(20,20,45,0.6)"/>
<path d="M138.93 359.68L139.23 360.05L139.37 360.53L139.37 361.11L139.21 361.79L138.9 362.56L138.44 363.39L137.85 364.28L137.13 365.22L136.3 366.18L135.36 367.14L134.35 368.1L133.26 369.04L132.13 369.93L130.96 370.78L129.79 371.55L128.63 372.23L127.5 372.83L126.42 373.32L125.4 373.69L124.48 373.95L123.65 374.08L122.94 374.08L122.36 373.96L121.92 373.72L121.62 373.35L121.48 372.87L121.48 372.29L121.64 371.61L121.95 370.84L122.41 370.01L123 369.12L123.72 368.18L124.55 367.22L125.49 366.26L126.5 365.3L127.59 364.36L128.72 363.47L129.89 362.62L131.06 361.85L132.22 361.17L133.35 360.57L134.43 360.08L135.45 359.71L136.37 359.45L137.2 359.32L137.91 359.32L138.49 359.44Z" fill="#ff3333"/>
<circle cx="130.43" cy="366.7" r="1.6" fill="rgba(20,20,45,0.6)"/>
<path d="M159.78 359.68L160.08 360.05L160.22 360.53L160.22 361.11L160.06 361.79L159.75 362.56L159.29 363.39L158.7 364.28L157.98 365.22L157.15 366.18L156.21 367.14L155.2 368.1L154.11 369.04L152.98 369.93L151.81 370.78L150.64 371.55L149.48 372.23L148.35 372.83L147.27 373.32L146.25 373.69L145.33 373.95L144.5 374.08L143.79 374.08L143.21 373.96L142.77 373.72L142.47 373.35L142.33 372.87L142.33 372.29L142.49 371.61L142.8 370.84L143.26 370.01L143.85 369.12L144.57 368.18L145.4 367.22L146.34 366.26L147.35 365.3L148.44 364.36L149.57 363.47L150.74 362.62L151.91 361.85L153.07 361.17L154.2 360.57L155.28 360.08L156.3 359.71L157.22 359.45L158.05 359.32L158.76 359.32L159.34 359.44Z" fill="#ff3333"/>
<circle cx="151.28" cy="366.7" r="1.6" fill="rgba(20,20,45,0.6)"/>
<path d="M180.72 359.61L180.98 359.94L181.09 360.39L181.04 360.95L180.84 361.6L180.49 362.35L180 363.16L179.37 364.04L178.62 364.96L177.76 365.92L176.8 366.88L175.76 367.85L174.66 368.79L173.52 369.7L172.35 370.56L171.18 371.35L170.02 372.06L168.9 372.68L167.84 373.2L166.85 373.6L165.95 373.89L165.15 374.05L164.47 374.09L163.93 374.01L163.53 373.79L163.27 373.46L163.16 373.01L163.21 372.45L163.41 371.8L163.76 371.05L164.25 370.24L164.88 369.36L165.63 368.44L166.49 367.48L167.45 366.52L168.49 365.55L169.59 364.61L170.73 363.7L171.9 362.84L173.07 362.05L174.23 361.34L175.35 360.72L176.41 360.2L177.4 359.8L178.3 359.51L179.1 359.35L179.78 359.31L180.32 359.39Z" fill="#ff2929"/>
<circle cx="172.12" cy="366.7" r="1.6" fill="rgba(20,20,45,0.6)"/>
<path d="M201.48 359.68L201.78 360.05L201.92 360.53L201.92 361.11L201.76 361.79L201.45 362.56L200.99 363.39L200.4 364.28L199.68 365.22L198.85 366.18L197.91 367.14L196.9 368.1L195.81 369.04L194.68 369.93L193.51 370.78L192.34 371.55L191.18 372.23L190.05 372.83L188.97 373.32L187.95 373.69L187.03 373.95L186.2 374.08L185.49 374.08L184.91 373.96L184.47 373.72L184.17 373.35L184.03 372.87L184.03 372.29L184.19 371.61L184.5 370.84L184.96 370.01L185.55 369.12L186.27 368.18L187.1 367.22L188.04 366.26L189.05 365.3L190.14 364.36L191.27 363.47L192.44 362.62L193.61 361.85L194.77 361.17L195.9 360.57L196.98 360.08L198 359.71L198.92 359.45L199.75 359.32L200.46 359.32L201.04 359.44Z" fill="#ff3333"/>
<circle cx="192.98" cy="366.7" r="1.6" fill="rgba(20,20,45,0.6)"/>
<line x1="205.28" y1="373.75" x2="222.37" y2="359.65" stroke="#d88c8c" stroke-width="0.6"/>
<circle cx="213.82" cy="366.7" r="1.25" fill="#6a6a6a"/>
<path d="M93.43 380.02L94.38 380.88L95.24 381.78L95.99 382.73L96.61 383.69L97.1 384.66L97.45 385.61L97.64 386.54L97.69 387.41L97.58 388.23L97.32 388.98L96.91 389.64L96.36 390.2L95.68 390.65L94.88 390.99L93.98 391.2L92.99 391.29L91.92 391.26L90.8 391.1L89.64 390.81L88.47 390.41L87.3 389.89L86.16 389.28L85.06 388.57L84.02 387.78L83.07 386.92L82.21 386.02L81.46 385.07L80.84 384.11L80.35 383.14L80 382.19L79.81 381.26L79.76 380.39L79.87 379.57L80.13 378.82L80.54 378.16L81.09 377.6L81.77 377.15L82.57 376.81L83.47 376.6L84.46 376.51L85.53 376.54L86.65 376.7L87.81 376.99L88.98 377.39L90.15 377.91L91.29 378.52L92.39 379.23Z" fill="#9393dd"/>
<circle cx="88.72" cy="383.9" r="1.6" fill="rgba(20,20,45,0.6)"/>
<path d="M113.83 380.39L114.82 381.27L115.73 382.2L116.52 383.15L117.2 384.12L117.75 385.08L118.16 386.02L118.43 386.93L118.54 387.78L118.49 388.57L118.3 389.28L117.96 389.9L117.47 390.41L116.85 390.81L116.1 391.1L115.24 391.26L114.28 391.29L113.25 391.2L112.15 390.98L111.01 390.65L109.84 390.19L108.67 389.63L107.51 388.97L106.39 388.23L105.32 387.41L104.33 386.53L103.42 385.6L102.63 384.65L101.95 383.68L101.4 382.72L100.99 381.78L100.72 380.87L100.61 380.02L100.66 379.23L100.85 378.52L101.19 377.9L101.68 377.39L102.3 376.99L103.05 376.7L103.91 376.54L104.87 376.51L105.9 376.6L107 376.82L108.14 377.15L109.31 377.61L110.48 378.17L111.64 378.83L112.76 379.57Z" fill="#7b7bd6"/>
<circle cx="109.58" cy="383.9" r="1.6" fill="rgba(20,20,45,0.6)"/>
<path d="M134.91 380.2L135.88 381.07L136.76 381.99L137.54 382.93L138.19 383.9L138.71 384.87L139.09 385.81L139.31 386.73L139.39 387.6L139.31 388.4L139.09 389.13L138.71 389.77L138.19 390.31L137.54 390.73L136.76 391.04L135.88 391.23L134.91 391.3L133.86 391.23L132.75 391.04L131.6 390.73L130.43 390.31L129.25 389.77L128.1 389.13L126.99 388.4L125.94 387.6L124.97 386.73L124.09 385.81L123.31 384.87L122.66 383.9L122.14 382.93L121.76 381.99L121.54 381.07L121.46 380.2L121.54 379.4L121.76 378.67L122.14 378.03L122.66 377.49L123.31 377.07L124.09 376.76L124.97 376.57L125.94 376.5L126.99 376.57L128.1 376.76L129.25 377.07L130.43 377.49L131.6 378.03L132.75 378.67L133.86 379.4Z" fill="#8787da"/>
<circle cx="130.43" cy="383.9" r="1.6" fill="rgba(20,20,45,0.6)"/>
<path d="M155.53 380.39L156.52 381.27L157.43 382.2L158.22 383.15L158.9 384.12L159.45 385.08L159.86 386.02L160.13 386.93L160.24 387.78L160.19 388.57L160 389.28L159.66 389.9L159.17 390.41L158.55 390.81L157.8 391.1L156.94 391.26L155.98 391.29L154.95 391.2L153.85 390.98L152.71 390.65L151.54 390.19L150.37 389.63L149.21 388.97L148.09 388.23L147.02 387.41L146.03 386.53L145.12 385.6L144.33 384.65L143.65 383.68L143.1 382.72L142.69 381.78L142.42 380.87L142.31 380.02L142.36 379.23L142.55 378.52L142.89 377.9L143.38 377.39L144 376.99L144.75 376.7L145.61 376.54L146.57 376.51L147.6 376.6L148.7 376.82L149.84 377.15L151.01 377.61L152.18 378.17L153.34 378.83L154.46 379.57Z" fill="#7b7bd6"/>
<circle cx="151.28" cy="383.9" r="1.6" fill="rgba(20,20,45,0.6)"/>
<path d="M176.83 380.02L177.78 380.88L178.64 381.78L179.39 382.73L180.01 383.69L180.5 384.66L180.85 385.61L181.04 386.54L181.09 387.41L180.98 388.23L180.72 388.98L180.31 389.64L179.76 390.2L179.08 390.65L178.28 390.99L177.38 391.2L176.39 391.29L175.32 391.26L174.2 391.1L173.04 390.81L171.87 390.41L170.7 389.89L169.56 389.28L168.46 388.57L167.42 387.78L166.47 386.92L165.61 386.02L164.86 385.07L164.24 384.11L163.75 383.14L163.4 382.19L163.21 381.26L163.16 380.39L163.27 379.57L163.53 378.82L163.94 378.16L164.49 377.6L165.17 377.15L165.97 376.81L166.87 376.6L167.86 376.51L168.93 376.54L170.05 376.7L171.21 376.99L172.38 377.39L173.55 377.91L174.69 378.52L175.79 379.23Z" fill="#9393dd"/>
<circle cx="172.12" cy="383.9" r="1.6" fill="rgba(20,20,45,0.6)"/>
<path d="M197.68 380.02L198.63 380.88L199.49 381.78L200.24 382.73L200.86 383.69L201.35 384.66L201.7 385.61L201.89 386.54L201.94 387.41L201.83 388.23L201.57 388.98L201.16 389.64L200.61 390.2L199.93 390.65L199.13 390.99L198.23 391.2L197.24 391.29L196.17 391.26L195.05 391.1L193.89 390.81L192.72 390.41L191.55 389.89L190.41 389.28L189.31 388.57L188.27 387.78L187.32 386.92L186.46 386.02L185.71 385.07L185.09 384.11L184.6 383.14L184.25 382.19L184.06 381.26L184.01 380.39L184.12 379.57L184.38 378.82L184.79 378.16L185.34 377.6L186.02 377.15L186.82 376.81L187.72 376.6L188.71 376.51L189.78 376.54L190.9 376.7L192.06 376.99L193.23 377.39L194.4 377.91L195.54 378.52L196.64 379.23Z" fill="#9393dd"/>
<circle cx="192.98" cy="383.9" r="1.6" fill="rgba(20,20,45,0.6)"/>
<path d="M219.13 379.52L220.03 380.34L220.82 381.22L221.49 382.14L222.03 383.09L222.43 384.06L222.69 385.02L222.79 385.97L222.74 386.88L222.53 387.73L222.18 388.53L221.68 389.24L221.05 389.86L220.3 390.38L219.43 390.79L218.47 391.08L217.43 391.25L216.33 391.29L215.19 391.21L214.02 391L212.85 390.67L211.69 390.22L210.57 389.67L209.51 389.02L208.52 388.28L207.62 387.46L206.83 386.58L206.16 385.66L205.62 384.71L205.22 383.74L204.96 382.78L204.86 381.83L204.91 380.92L205.12 380.07L205.47 379.27L205.97 378.56L206.6 377.94L207.35 377.42L208.22 377.01L209.18 376.72L210.22 376.55L211.32 376.51L212.46 376.59L213.63 376.8L214.8 377.13L215.96 377.58L217.08 378.13L218.14 378.78Z" fill="#b6b6e7"/>
<line x1="226.13" y1="390.95" x2="243.22" y2="376.85" stroke="#d88c8c" stroke-width="0.6"/>
<circle cx="234.68" cy="383.9" r="1.25" fill="#6a6a6a"/>
<path d="M96.17 394.96L96.76 395.55L97.21 396.23L97.52 397L97.67 397.84L97.67 398.73L97.52 399.67L97.22 400.63L96.77 401.59L96.19 402.55L95.47 403.49L94.65 404.38L93.72 405.22L92.7 405.98L91.62 406.67L90.49 407.26L89.32 407.74L88.15 408.11L86.99 408.36L85.86 408.48L84.77 408.48L83.75 408.35L82.82 408.1L81.99 407.73L81.28 407.24L80.69 406.65L80.24 405.97L79.93 405.2L79.78 404.36L79.78 403.47L79.93 402.53L80.23 401.57L80.68 400.61L81.26 399.65L81.98 398.71L82.8 397.82L83.73 396.98L84.75 396.22L85.83 395.53L86.96 394.94L88.13 394.46L89.3 394.09L90.46 393.84L91.59 393.72L92.68 393.72L93.7 393.85L94.63 394.1L95.46 394.47Z" fill="#ff9e9e"/>
<circle cx="88.72" cy="401.1" r="1.6" fill="rgba(20,20,45,0.6)"/>
<path d="M118.08 394.08L118.38 394.45L118.52 394.93L118.52 395.51L118.36 396.19L118.05 396.96L117.59 397.79L117 398.68L116.28 399.62L115.45 400.58L114.51 401.54L113.5 402.5L112.41 403.44L111.28 404.33L110.11 405.18L108.94 405.95L107.78 406.63L106.65 407.23L105.57 407.72L104.55 408.09L103.63 408.35L102.8 408.48L102.09 408.48L101.51 408.36L101.07 408.12L100.77 407.75L100.63 407.27L100.63 406.69L100.79 406.01L101.1 405.24L101.56 404.41L102.15 403.52L102.87 402.58L103.7 401.62L104.64 400.66L105.65 399.7L106.74 398.76L107.87 397.87L109.04 397.02L110.21 396.25L111.37 395.57L112.5 394.97L113.58 394.48L114.6 394.11L115.52 393.85L116.35 393.72L117.06 393.72L117.64 393.84Z" fill="#ff3333"/>
<circle cx="109.58" cy="401.1" r="1.6" fill="rgba(20,20,45,0.6)"/>
<path d="M138.93 394.08L139.23 394.45L139.37 394.93L139.37 395.51L139.21 396.19L138.9 396.96L138.44 397.79L137.85 398.68L137.13 399.62L136.3 400.58L135.36 401.54L134.35 402.5L133.26 403.44L132.13 404.33L130.96 405.18L129.79 405.95L128.63 406.63L127.5 407.23L126.42 407.72L125.4 408.09L124.48 408.35L123.65 408.48L122.94 408.48L122.36 408.36L121.92 408.12L121.62 407.75L121.48 407.27L121.48 406.69L121.64 406.01L121.95 405.24L122.41 404.41L123 403.52L123.72 402.58L124.55 401.62L125.49 400.66L126.5 399.7L127.59 398.76L128.72 397.87L129.89 397.02L131.06 396.25L132.22 395.57L133.35 394.97L134.43 394.48L135.45 394.11L136.37 393.85L137.2 393.72L137.91 393.72L138.49 393.84Z" fill="#ff3333"/>
<circle cx="130.43" cy="401.1" r="1.6" fill="rgba(20,20,45,0.6)"/>
<path d="M159.78 394.08L160.08 394.45L160.22 394.93L160.22 395.51L160.06 396.19L159.75 396.96L159.29 397.79L158.7 398.68L157.98 399.62L157.15 400.58L156.21 401.54L155.2 402.5L154.11 403.44L152.98 404.33L151.81 405.18L150.64 405.95L149.48 406.63L148.35 407.23L147.27 407.72L146.25 408.09L145.33 408.35L144.5 408.48L143.79 408.48L143.21 408.36L142.77 408.12L142.47 407.75L142.33 407.27L142.33 406.69L142.49 406.01L142.8 405.24L143.26 404.41L143.85 403.52L144.57 402.58L145.4 401.62L146.34 400.66L147.35 399.7L148.44 398.76L149.57 397.87L150.74 397.02L151.91 396.25L153.07 395.57L154.2 394.97L155.28 394.48L156.3 394.11L157.22 393.85L158.05 393.72L158.76 393.72L159.34 393.84Z" fill="#ff3333"/>
<circle cx="151.28" cy="401.1" r="1.6" fill="rgba(20,20,45,0.6)"/>
<path d="M180.58 394.12L180.9 394.5L181.06 395L181.08 395.59L180.94 396.28L180.65 397.06L180.21 397.9L179.63 398.8L178.93 399.74L178.11 400.7L177.19 401.66L176.18 402.62L175.1 403.55L173.97 404.44L172.81 405.28L171.64 406.04L170.47 406.71L169.34 407.29L168.25 407.77L167.22 408.13L166.29 408.37L165.45 408.48L164.72 408.47L164.13 408.34L163.67 408.08L163.35 407.7L163.19 407.2L163.17 406.61L163.31 405.92L163.6 405.14L164.04 404.3L164.62 403.4L165.32 402.46L166.14 401.5L167.06 400.54L168.07 399.58L169.15 398.65L170.28 397.76L171.44 396.92L172.61 396.16L173.78 395.49L174.91 394.91L176 394.43L177.03 394.07L177.96 393.83L178.8 393.72L179.53 393.73L180.12 393.86Z" fill="#ff3838"/>
<circle cx="172.12" cy="401.1" r="1.6" fill="rgba(20,20,45,0.6)"/>
<path d="M201.43 394.12L201.75 394.5L201.91 395L201.93 395.59L201.79 396.28L201.5 397.06L201.06 397.9L200.48 398.8L199.78 399.74L198.96 400.7L198.04 401.66L197.03 402.62L195.95 403.55L194.82 404.44L193.66 405.28L192.49 406.04L191.32 406.71L190.19 407.29L189.1 407.77L188.07 408.13L187.14 408.37L186.3 408.48L185.57 408.47L184.98 408.34L184.52 408.08L184.2 407.7L184.04 407.2L184.02 406.61L184.16 405.92L184.45 405.14L184.89 404.3L185.47 403.4L186.17 402.46L186.99 401.5L187.91 400.54L188.92 399.58L190 398.65L191.13 397.76L192.29 396.92L193.46 396.16L194.63 395.49L195.76 394.91L196.85 394.43L197.88 394.07L198.81 393.83L199.65 393.72L200.38 393.73L200.97 393.86Z" fill="#ff3838"/>
<circle cx="192.98" cy="401.1" r="1.6" fill="rgba(20,20,45,0.6)"/>
<path d="M222.21 394.18L222.55 394.58L222.75 395.09L222.79 395.71L222.67 396.42L222.41 397.2L222 398.06L221.45 398.96L220.76 399.91L219.96 400.87L219.06 401.84L218.06 402.79L216.99 403.71L215.87 404.6L214.72 405.42L213.54 406.16L212.38 406.82L211.23 407.39L210.14 407.84L209.1 408.18L208.15 408.4L207.29 408.49L206.54 408.46L205.92 408.3L205.44 408.02L205.1 407.62L204.9 407.11L204.86 406.49L204.98 405.78L205.24 405L205.65 404.14L206.2 403.24L206.89 402.29L207.69 401.33L208.59 400.36L209.59 399.41L210.66 398.49L211.78 397.6L212.93 396.78L214.11 396.04L215.27 395.38L216.42 394.81L217.51 394.36L218.55 394.02L219.5 393.8L220.36 393.71L221.11 393.74L221.73 393.9Z" fill="#ff4040"/>
<circle cx="213.82" cy="401.1" r="1.6" fill="rgba(20,20,45,0.6)"/>
<path d="M239.98 396.72L240.88 397.54L241.67 398.42L242.34 399.34L242.88 400.29L243.28 401.26L243.54 402.22L243.64 403.17L243.59 404.08L243.38 404.93L243.03 405.73L242.53 406.44L241.9 407.06L241.15 407.58L240.28 407.99L239.32 408.28L238.28 408.45L237.18 408.49L236.04 408.41L234.87 408.2L233.7 407.87L232.54 407.42L231.42 406.87L230.36 406.22L229.37 405.48L228.47 404.66L227.68 403.78L227.01 402.86L226.47 401.91L226.07 400.94L225.81 399.98L225.71 399.03L225.76 398.12L225.97 397.27L226.32 396.47L226.82 395.76L227.45 395.14L228.2 394.62L229.07 394.21L230.03 393.92L231.07 393.75L232.17 393.71L233.31 393.79L234.48 394L235.65 394.33L236.81 394.78L237.93 395.33L238.99 395.98Z" fill="#b6b6e7"/>
<line x1="246.98" y1="408.15" x2="264.07" y2="394.05" stroke="#d88c8c" stroke-width="0.6"/>
<circle cx="255.53" cy="401.1" r="1.25" fill="#6a6a6a"/>
<path d="M96.17 412.16L96.76 412.75L97.21 413.43L97.52 414.2L97.67 415.04L97.67 415.93L97.52 416.87L97.22 417.83L96.77 418.79L96.19 419.75L95.47 420.69L94.65 421.58L93.72 422.42L92.7 423.18L91.62 423.87L90.49 424.46L89.32 424.94L88.15 425.31L86.99 425.56L85.86 425.68L84.77 425.68L83.75 425.55L82.82 425.3L81.99 424.93L81.28 424.44L80.69 423.85L80.24 423.17L79.93 422.4L79.78 421.56L79.78 420.67L79.93 419.73L80.23 418.77L80.68 417.81L81.26 416.85L81.98 415.91L82.8 415.02L83.73 414.18L84.75 413.42L85.83 412.73L86.96 412.14L88.13 411.66L89.3 411.29L90.46 411.04L91.59 410.92L92.68 410.92L93.7 411.05L94.63 411.3L95.46 411.67Z" fill="#ff9e9e"/>
<circle cx="88.72" cy="418.3" r="1.6" fill="rgba(20,20,45,0.6)"/>
<path d="M118.03 411.32L118.35 411.7L118.51 412.2L118.53 412.79L118.39 413.48L118.1 414.26L117.66 415.1L117.08 416L116.38 416.94L115.56 417.9L114.64 418.86L113.63 419.82L112.55 420.75L111.42 421.64L110.26 422.48L109.09 423.24L107.92 423.91L106.79 424.49L105.7 424.97L104.67 425.33L103.74 425.57L102.9 425.68L102.17 425.67L101.58 425.54L101.12 425.28L100.8 424.9L100.64 424.4L100.62 423.81L100.76 423.12L101.05 422.34L101.49 421.5L102.07 420.6L102.77 419.66L103.59 418.7L104.51 417.74L105.52 416.78L106.6 415.85L107.73 414.96L108.89 414.12L110.06 413.36L111.23 412.69L112.36 412.11L113.45 411.63L114.48 411.27L115.41 411.03L116.25 410.92L116.98 410.93L117.57 411.06Z" fill="#ff3838"/>
<circle cx="109.58" cy="418.3" r="1.6" fill="rgba(20,20,45,0.6)"/>
<path d="M138.88 411.32L139.2 411.7L139.36 412.2L139.38 412.79L139.24 413.48L138.95 414.26L138.51 415.1L137.93 416L137.23 416.94L136.41 417.9L135.49 418.86L134.48 419.82L133.4 420.75L132.27 421.64L131.11 422.48L129.94 423.24L128.77 423.91L127.64 424.49L126.55 424.97L125.52 425.33L124.59 425.57L123.75 425.68L123.02 425.67L122.43 425.54L121.97 425.28L121.65 424.9L121.49 424.4L121.47 423.81L121.61 423.12L121.9 422.34L122.34 421.5L122.92 420.6L123.62 419.66L124.44 418.7L125.36 417.74L126.37 416.78L127.45 415.85L128.58 414.96L129.74 414.12L130.91 413.36L132.08 412.69L133.21 412.11L134.3 411.63L135.33 411.27L136.26 411.03L137.1 410.92L137.83 410.93L138.42 411.06Z" fill="#ff3838"/>
<circle cx="130.43" cy="418.3" r="1.6" fill="rgba(20,20,45,0.6)"/>
<path d="M159.73 411.32L160.05 411.7L160.21 412.2L160.23 412.79L160.09 413.48L159.8 414.26L159.36 415.1L158.78 416L158.08 416.94L157.26 417.9L156.34 418.86L155.33 419.82L154.25 420.75L153.12 421.64L151.96 422.48L150.79 423.24L149.62 423.91L148.49 424.49L147.4 424.97L146.37 425.33L145.44 425.57L144.6 425.68L143.87 425.67L143.28 425.54L142.82 425.28L142.5 424.9L142.34 424.4L142.32 423.81L142.46 423.12L142.75 422.34L143.19 421.5L143.77 420.6L144.47 419.66L145.29 418.7L146.21 417.74L147.22 416.78L148.3 415.85L149.43 414.96L150.59 414.12L151.76 413.36L152.93 412.69L154.06 412.11L155.15 411.63L156.18 411.27L157.11 411.03L157.95 410.92L158.68 410.93L159.27 411.06Z" fill="#ff3838"/>
<circle cx="151.28" cy="418.3" r="1.6" fill="rgba(20,20,45,0.6)"/>
<path d="M180.56 411.34L180.88 411.73L181.06 412.23L181.08 412.83L180.95 413.53L180.67 414.31L180.24 415.15L179.67 416.05L178.98 416.99L178.16 417.95L177.24 418.92L176.24 419.88L175.17 420.81L174.04 421.69L172.88 422.52L171.71 423.28L170.54 423.95L169.4 424.53L168.31 424.99L167.28 425.35L166.34 425.58L165.5 425.69L164.77 425.67L164.16 425.53L163.69 425.26L163.37 424.87L163.19 424.37L163.17 423.77L163.3 423.07L163.58 422.29L164.01 421.45L164.58 420.55L165.27 419.61L166.09 418.65L167.01 417.68L168.01 416.72L169.08 415.79L170.21 414.91L171.37 414.08L172.54 413.32L173.71 412.65L174.85 412.07L175.94 411.61L176.97 411.25L177.91 411.02L178.75 410.91L179.48 410.93L180.09 411.07Z" fill="#ff3b3b"/>
<circle cx="172.12" cy="418.3" r="1.6" fill="rgba(20,20,45,0.6)"/>
<path d="M201.41 411.34L201.73 411.73L201.91 412.23L201.93 412.83L201.8 413.53L201.52 414.31L201.09 415.15L200.52 416.05L199.83 416.99L199.01 417.95L198.09 418.92L197.09 419.88L196.02 420.81L194.89 421.69L193.73 422.52L192.56 423.28L191.39 423.95L190.25 424.53L189.16 424.99L188.13 425.35L187.19 425.58L186.35 425.69L185.62 425.67L185.01 425.53L184.54 425.26L184.22 424.87L184.04 424.37L184.02 423.77L184.15 423.07L184.43 422.29L184.86 421.45L185.43 420.55L186.12 419.61L186.94 418.65L187.86 417.68L188.86 416.72L189.93 415.79L191.06 414.91L192.22 414.08L193.39 413.32L194.56 412.65L195.7 412.07L196.79 411.61L197.82 411.25L198.76 411.02L199.6 410.91L200.33 410.93L200.94 411.07Z" fill="#ff3b3b"/>
<circle cx="192.98" cy="418.3" r="1.6" fill="rgba(20,20,45,0.6)"/>
<path d="M222.21 411.38L222.55 411.78L222.75 412.29L222.79 412.91L222.67 413.62L222.41 414.4L222 415.26L221.45 416.16L220.76 417.11L219.96 418.07L219.06 419.04L218.06 419.99L216.99 420.91L215.87 421.8L214.72 422.62L213.54 423.36L212.38 424.02L211.23 424.59L210.14 425.04L209.1 425.38L208.15 425.6L207.29 425.69L206.54 425.66L205.92 425.5L205.44 425.22L205.1 424.82L204.9 424.31L204.86 423.69L204.98 422.98L205.24 422.2L205.65 421.34L206.2 420.44L206.89 419.49L207.69 418.53L208.59 417.56L209.59 416.61L210.66 415.69L211.78 414.8L212.93 413.98L214.11 413.24L215.27 412.58L216.42 412.01L217.51 411.56L218.55 411.22L219.5 411L220.36 410.91L221.11 410.94L221.73 411.1Z" fill="#ff4040"/>
<circle cx="213.82" cy="418.3" r="1.6" fill="rgba(20,20,45,0.6)"/>
<path d="M239.98 413.92L240.88 414.74L241.67 415.62L242.34 416.54L242.88 417.49L243.28 418.46L243.54 419.42L243.64 420.37L243.59 421.28L243.38 422.13L243.03 422.93L242.53 423.64L241.9 424.26L241.15 424.78L240.28 425.19L239.32 425.48L238.28 425.65L237.18 425.69L236.04 425.61L234.87 425.4L233.7 425.07L232.54 424.62L231.42 424.07L230.36 423.42L229.37 422.68L228.47 421.86L227.68 420.98L227.01 420.06L226.47 419.11L226.07 418.14L225.81 417.18L225.71 416.23L225.76 415.32L225.97 414.47L226.32 413.67L226.82 412.96L227.45 412.34L228.2 411.82L229.07 411.41L230.03 411.12L231.07 410.95L232.17 410.91L233.31 410.99L234.48 411.2L235.65 411.53L236.81 411.98L237.93 412.53L238.99 413.18Z" fill="#b6b6e7"/>
<path d="M264.46 410.93L264.48 411.08L264.35 411.35L264.07 411.74L263.65 412.24L263.08 412.84L262.39 413.54L261.58 414.32L260.66 415.17L259.66 416.07L258.59 417.01L257.46 417.97L256.3 418.94L255.13 419.9L253.96 420.83L252.82 421.71L251.73 422.54L250.7 423.29L249.76 423.96L248.91 424.54L248.18 425L247.57 425.35L247.1 425.58L246.77 425.69L246.59 425.67L246.57 425.52L246.7 425.25L246.98 424.86L247.4 424.36L247.97 423.76L248.66 423.06L249.47 422.28L250.39 421.43L251.39 420.53L252.46 419.59L253.59 418.63L254.75 417.66L255.92 416.7L257.09 415.77L258.23 414.89L259.32 414.06L260.35 413.31L261.29 412.64L262.14 412.06L262.87 411.6L263.48 411.25L263.95 411.02L264.28 410.91Z" fill="#ff0404"/>
<circle cx="255.53" cy="418.3" r="1.6" fill="rgba(20,20,45,0.6)"/>
<line x1="267.83" y1="425.35" x2="284.92" y2="411.25" stroke="#d88c8c" stroke-width="0.6"/>
<circle cx="276.38" cy="418.3" r="1.25" fill="#6a6a6a"/>
<path d="M96.09 429.42L96.7 430.03L97.16 430.72L97.49 431.5L97.66 432.35L97.68 433.25L97.55 434.18L97.26 435.15L96.83 436.11L96.27 437.07L95.57 438L94.75 438.89L93.84 439.72L92.83 440.47L91.76 441.15L90.63 441.72L89.47 442.19L88.3 442.54L87.13 442.78L85.99 442.89L84.9 442.87L83.88 442.73L82.93 442.46L82.09 442.07L81.36 441.58L80.75 440.97L80.29 440.28L79.96 439.5L79.79 438.65L79.77 437.75L79.9 436.82L80.19 435.85L80.62 434.89L81.18 433.93L81.88 433L82.7 432.11L83.61 431.28L84.62 430.53L85.69 429.85L86.82 429.28L87.98 428.81L89.15 428.46L90.32 428.22L91.46 428.11L92.55 428.13L93.57 428.27L94.52 428.54L95.36 428.93Z" fill="#ffa6a6"/>
<circle cx="88.72" cy="435.5" r="1.6" fill="rgba(20,20,45,0.6)"/>
<path d="M118.01 428.54L118.33 428.93L118.51 429.43L118.53 430.03L118.4 430.73L118.12 431.51L117.69 432.35L117.12 433.25L116.43 434.19L115.61 435.15L114.69 436.12L113.69 437.08L112.62 438.01L111.49 438.89L110.33 439.72L109.16 440.48L107.99 441.15L106.85 441.73L105.76 442.19L104.73 442.55L103.79 442.78L102.95 442.89L102.22 442.87L101.61 442.73L101.14 442.46L100.82 442.07L100.64 441.57L100.62 440.97L100.75 440.27L101.03 439.49L101.46 438.65L102.03 437.75L102.72 436.81L103.54 435.85L104.46 434.88L105.46 433.92L106.53 432.99L107.66 432.11L108.82 431.28L109.99 430.52L111.16 429.85L112.3 429.27L113.39 428.81L114.42 428.45L115.36 428.22L116.2 428.11L116.93 428.13L117.54 428.27Z" fill="#ff3b3b"/>
<circle cx="109.58" cy="435.5" r="1.6" fill="rgba(20,20,45,0.6)"/>
<path d="M138.86 428.54L139.18 428.93L139.36 429.43L139.38 430.03L139.25 430.73L138.97 431.51L138.54 432.35L137.97 433.25L137.28 434.19L136.46 435.15L135.54 436.12L134.54 437.08L133.47 438.01L132.34 438.89L131.18 439.72L130.01 440.48L128.84 441.15L127.7 441.73L126.61 442.19L125.58 442.55L124.64 442.78L123.8 442.89L123.07 442.87L122.46 442.73L121.99 442.46L121.67 442.07L121.49 441.57L121.47 440.97L121.6 440.27L121.88 439.49L122.31 438.65L122.88 437.75L123.57 436.81L124.39 435.85L125.31 434.88L126.31 433.92L127.38 432.99L128.51 432.11L129.67 431.28L130.84 430.52L132.01 429.85L133.15 429.27L134.24 428.81L135.27 428.45L136.21 428.22L137.05 428.11L137.78 428.13L138.39 428.27Z" fill="#ff3b3b"/>
<circle cx="130.43" cy="435.5" r="1.6" fill="rgba(20,20,45,0.6)"/>
<path d="M159.71 428.54L160.03 428.93L160.21 429.43L160.23 430.03L160.1 430.73L159.82 431.51L159.39 432.35L158.82 433.25L158.13 434.19L157.31 435.15L156.39 436.12L155.39 437.08L154.32 438.01L153.19 438.89L152.03 439.72L150.86 440.48L149.69 441.15L148.55 441.73L147.46 442.19L146.43 442.55L145.49 442.78L144.65 442.89L143.92 442.87L143.31 442.73L142.84 442.46L142.52 442.07L142.34 441.57L142.32 440.97L142.45 440.27L142.73 439.49L143.16 438.65L143.73 437.75L144.42 436.81L145.24 435.85L146.16 434.88L147.16 433.92L148.23 432.99L149.36 432.11L150.52 431.28L151.69 430.52L152.86 429.85L154 429.27L155.09 428.81L156.12 428.45L157.06 428.22L157.9 428.11L158.63 428.13L159.24 428.27Z" fill="#ff3b3b"/>
<circle cx="151.28" cy="435.5" r="1.6" fill="rgba(20,20,45,0.6)"/>
<path d="M180.54 428.56L180.87 428.96L181.05 429.46L181.08 430.07L180.96 430.77L180.69 431.56L180.27 432.41L179.71 433.31L179.02 434.25L178.21 435.21L177.3 436.18L176.3 437.13L175.23 438.06L174.11 438.95L172.95 439.77L171.78 440.52L170.61 441.19L169.47 441.76L168.37 442.22L167.34 442.56L166.39 442.79L165.54 442.89L164.81 442.86L164.19 442.71L163.71 442.44L163.38 442.04L163.2 441.54L163.17 440.93L163.29 440.23L163.56 439.44L163.98 438.59L164.54 437.69L165.23 436.75L166.04 435.79L166.95 434.82L167.95 433.87L169.02 432.94L170.14 432.05L171.3 431.23L172.47 430.48L173.64 429.81L174.78 429.24L175.88 428.78L176.91 428.44L177.86 428.21L178.71 428.11L179.44 428.14L180.06 428.29Z" fill="#ff3d3d"/>
<circle cx="172.12" cy="435.5" r="1.6" fill="rgba(20,20,45,0.6)"/>
<path d="M201.39 428.56L201.72 428.96L201.9 429.46L201.93 430.07L201.81 430.77L201.54 431.56L201.12 432.41L200.56 433.31L199.87 434.25L199.06 435.21L198.15 436.18L197.15 437.13L196.08 438.06L194.96 438.95L193.8 439.77L192.63 440.52L191.46 441.19L190.32 441.76L189.22 442.22L188.19 442.56L187.24 442.79L186.39 442.89L185.66 442.86L185.04 442.71L184.56 442.44L184.23 442.04L184.05 441.54L184.02 440.93L184.14 440.23L184.41 439.44L184.83 438.59L185.39 437.69L186.08 436.75L186.89 435.79L187.8 434.82L188.8 433.87L189.87 432.94L190.99 432.05L192.15 431.23L193.32 430.48L194.49 429.81L195.63 429.24L196.73 428.78L197.76 428.44L198.71 428.21L199.56 428.11L200.29 428.14L200.91 428.29Z" fill="#ff3d3d"/>
<circle cx="192.98" cy="435.5" r="1.6" fill="rgba(20,20,45,0.6)"/>
<path d="M222.21 428.58L222.55 428.98L222.75 429.49L222.79 430.11L222.67 430.82L222.41 431.6L222 432.46L221.45 433.36L220.76 434.31L219.96 435.27L219.06 436.24L218.06 437.19L216.99 438.11L215.87 439L214.72 439.82L213.54 440.56L212.38 441.22L211.23 441.79L210.14 442.24L209.1 442.58L208.15 442.8L207.29 442.89L206.54 442.86L205.92 442.7L205.44 442.42L205.1 442.02L204.9 441.51L204.86 440.89L204.98 440.18L205.24 439.4L205.65 438.54L206.2 437.64L206.89 436.69L207.69 435.73L208.59 434.76L209.59 433.81L210.66 432.89L211.78 432L212.93 431.18L214.11 430.44L215.27 429.78L216.42 429.21L217.51 428.76L218.55 428.42L219.5 428.2L220.36 428.11L221.11 428.14L221.73 428.3Z" fill="#ff4040"/>
<circle cx="213.82" cy="435.5" r="1.6" fill="rgba(20,20,45,0.6)"/>
<path d="M239.98 431.12L240.88 431.94L241.67 432.82L242.34 433.74L242.88 434.69L243.28 435.66L243.54 436.62L243.64 437.57L243.59 438.48L243.38 439.33L243.03 440.13L242.53 440.84L241.9 441.46L241.15 441.98L240.28 442.39L239.32 442.68L238.28 442.85L237.18 442.89L236.04 442.81L234.87 442.6L233.7 442.27L232.54 441.82L231.42 441.27L230.36 440.62L229.37 439.88L228.47 439.06L227.68 438.18L227.01 437.26L226.47 436.31L226.07 435.34L225.81 434.38L225.71 433.43L225.76 432.52L225.97 431.67L226.32 430.87L226.82 430.16L227.45 429.54L228.2 429.02L229.07 428.61L230.03 428.32L231.07 428.15L232.17 428.11L233.31 428.19L234.48 428.4L235.65 428.73L236.81 429.18L237.93 429.73L238.99 430.38Z" fill="#b6b6e7"/>
<path d="M264.46 428.13L264.48 428.28L264.35 428.55L264.07 428.94L263.65 429.44L263.08 430.04L262.39 430.74L261.58 431.52L260.66 432.37L259.66 433.27L258.59 434.21L257.46 435.17L256.3 436.14L255.13 437.1L253.96 438.03L252.82 438.91L251.73 439.74L250.7 440.49L249.76 441.16L248.91 441.74L248.18 442.2L247.57 442.55L247.1 442.78L246.77 442.89L246.59 442.87L246.57 442.72L246.7 442.45L246.98 442.06L247.4 441.56L247.97 440.96L248.66 440.26L249.47 439.48L250.39 438.63L251.39 437.73L252.46 436.79L253.59 435.83L254.75 434.86L255.92 433.9L257.09 432.97L258.23 432.09L259.32 431.26L260.35 430.51L261.29 429.84L262.14 429.26L262.87 428.8L263.48 428.45L263.95 428.22L264.28 428.11Z" fill="#ff0404"/>
<circle cx="255.53" cy="435.5" r="1.6" fill="rgba(20,20,45,0.6)"/>
<path d="M285.26 428.17L285.34 428.36L285.27 428.67L285.04 429.1L284.66 429.64L284.15 430.28L283.5 431.01L282.73 431.81L281.85 432.68L280.87 433.6L279.82 434.55L278.71 435.51L277.56 436.48L276.39 437.43L275.22 438.34L274.07 439.21L272.96 440.01L271.91 440.74L270.93 441.38L270.05 441.91L269.27 442.34L268.62 442.65L268.1 442.83L267.72 442.9L267.49 442.83L267.41 442.64L267.48 442.33L267.71 441.9L268.09 441.36L268.6 440.72L269.25 439.99L270.02 439.19L270.9 438.32L271.88 437.4L272.93 436.45L274.04 435.49L275.19 434.52L276.36 433.57L277.53 432.66L278.68 431.79L279.79 430.99L280.84 430.26L281.82 429.62L282.7 429.09L283.48 428.66L284.13 428.35L284.65 428.17L285.03 428.1Z" fill="#ff0909"/>
<circle cx="276.38" cy="435.5" r="1.6" fill="rgba(20,20,45,0.6)"/>
<line x1="288.68" y1="442.55" x2="305.77" y2="428.45" stroke="#d88c8c" stroke-width="0.6"/>
<circle cx="297.23" cy="435.5" r="1.25" fill="#6a6a6a"/>
<path d="M78.3 444.1H307.65" fill="none" stroke="#555" stroke-width="1.1"/>
<path d="M78.3 254.9V444.6" fill="none" stroke="#555" stroke-width="1.1"/>
<text transform="translate(74.7 267.88) scale(1 1.07)" font-size="12.4" text-anchor="end">CSI</text>
<text transform="translate(74.7 285.08) scale(1 1.07)" font-size="12.4" text-anchor="end">R17B1SM</text>
<text transform="translate(74.7 302.28) scale(1 1.07)" font-size="12.4" text-anchor="end">R15B1SM</text>
<text transform="translate(74.7 319.48) scale(1 1.07)" font-size="12.4" text-anchor="end">R19B1SM</text>
<text transform="translate(74.7 336.68) scale(1 1.07)" font-size="12.4" text-anchor="end">R7B1SM</text>
<text transform="translate(74.7 353.88) scale(1 1.07)" font-size="12.4" text-anchor="end">R11B1SM</text>
<text transform="translate(74.7 371.08) scale(1 1.07)" font-size="12.4" text-anchor="end">R9B1SM</text>
<text transform="translate(74.7 388.28) scale(1 1.07)" font-size="12.4" text-anchor="end">R7B2CC</text>
<text transform="translate(74.7 405.48) scale(1 1.07)" font-size="12.4" text-anchor="end">R17B7SM</text>
<text transform="translate(74.7 422.68) scale(1 1.07)" font-size="12.4" text-anchor="end">R19B7SM</text>
<text transform="translate(74.7 439.88) scale(1 1.07)" font-size="12.4" text-anchor="end">R15B7SM</text>
<defs><linearGradient id="gc" x1="0" y1="0" x2="0" y2="1"><stop offset="0" stop-color="#ff0000"/><stop offset="0.5" stop-color="#ffffff"/><stop offset="0.62" stop-color="#c2c2ea"/><stop offset="0.75" stop-color="#8787da"/><stop offset="0.85" stop-color="#5858cb"/><stop offset="1" stop-color="#080896"/></linearGradient></defs>
<rect x="311" y="254.9" width="12.5" height="189.2" fill="url(#gc)" stroke="#9a9a9a" stroke-width="0.7"/>
<text transform="translate(331.4 259.07) scale(1 1.07)" font-size="11.8">1</text>
<text transform="translate(331.4 277.99) scale(1 1.07)" font-size="11.8">0.8</text>
<text transform="translate(331.4 296.91) scale(1 1.07)" font-size="11.8">0.6</text>
<text transform="translate(331.4 315.83) scale(1 1.07)" font-size="11.8">0.4</text>
<text transform="translate(331.4 334.75) scale(1 1.07)" font-size="11.8">0.2</text>
<text transform="translate(331.4 353.67) scale(1 1.07)" font-size="11.8">0</text>
<text transform="translate(331.4 372.59) scale(1 1.07)" font-size="11.8">−0.2</text>
<text transform="translate(331.4 391.51) scale(1 1.07)" font-size="11.8">−0.4</text>
<text transform="translate(331.4 410.43) scale(1 1.07)" font-size="11.8">−0.6</text>
<text transform="translate(331.4 429.35) scale(1 1.07)" font-size="11.8">−0.8</text>
<text transform="translate(331.4 448.27) scale(1 1.07)" font-size="11.8">−1</text>
<path d="M323.5 254.9h3M323.5 273.82h3M323.5 292.74h3M323.5 311.66h3M323.5 330.58h3M323.5 349.5h3M323.5 368.42h3M323.5 387.34h3M323.5 406.26h3M323.5 425.18h3M323.5 444.1h3" stroke="#777" stroke-width="0.8"/>
<text transform="translate(10.4 265.3) scale(1 1.07)" font-size="14.3">(c)</text>
<text transform="translate(79.2 455.5) scale(1 1.07)" font-size="10.74">*</text>
<text transform="translate(88 456.5) scale(1 1.07)" font-size="12.2"><tspan font-style="italic">P</tspan>&lt;=0.01</text>
<path d="M75.3 513.4h19.3v15.62h-19.3zM75.3 529.02h19.3v15.62h-19.3zM94.6 529.02h19.3v15.62h-19.3zM75.3 544.64h19.3v15.62h-19.3zM94.6 544.64h19.3v15.62h-19.3zM113.9 544.64h19.3v15.62h-19.3zM75.3 560.26h19.3v15.62h-19.3zM94.6 560.26h19.3v15.62h-19.3zM113.9 560.26h19.3v15.62h-19.3zM133.2 560.26h19.3v15.62h-19.3zM75.3 575.88h19.3v15.62h-19.3zM94.6 575.88h19.3v15.62h-19.3zM113.9 575.88h19.3v15.62h-19.3zM133.2 575.88h19.3v15.62h-19.3zM152.5 575.88h19.3v15.62h-19.3zM75.3 591.5h19.3v15.62h-19.3zM94.6 591.5h19.3v15.62h-19.3zM113.9 591.5h19.3v15.62h-19.3zM133.2 591.5h19.3v15.62h-19.3zM152.5 591.5h19.3v15.62h-19.3zM171.8 591.5h19.3v15.62h-19.3zM75.3 607.12h19.3v15.62h-19.3zM94.6 607.12h19.3v15.62h-19.3zM113.9 607.12h19.3v15.62h-19.3zM133.2 607.12h19.3v15.62h-19.3zM152.5 607.12h19.3v15.62h-19.3zM171.8 607.12h19.3v15.62h-19.3zM191.1 607.12h19.3v15.62h-19.3zM75.3 622.74h19.3v15.62h-19.3zM94.6 622.74h19.3v15.62h-19.3zM113.9 622.74h19.3v15.62h-19.3zM133.2 622.74h19.3v15.62h-19.3zM152.5 622.74h19.3v15.62h-19.3zM171.8 622.74h19.3v15.62h-19.3zM191.1 622.74h19.3v15.62h-19.3zM210.4 622.74h19.3v15.62h-19.3zM75.3 638.36h19.3v15.62h-19.3zM94.6 638.36h19.3v15.62h-19.3zM113.9 638.36h19.3v15.62h-19.3zM133.2 638.36h19.3v15.62h-19.3zM152.5 638.36h19.3v15.62h-19.3zM171.8 638.36h19.3v15.62h-19.3zM191.1 638.36h19.3v15.62h-19.3zM210.4 638.36h19.3v15.62h-19.3zM229.7 638.36h19.3v15.62h-19.3zM75.3 653.98h19.3v15.62h-19.3zM94.6 653.98h19.3v15.62h-19.3zM113.9 653.98h19.3v15.62h-19.3zM133.2 653.98h19.3v15.62h-19.3zM152.5 653.98h19.3v15.62h-19.3zM171.8 653.98h19.3v15.62h-19.3zM191.1 653.98h19.3v15.62h-19.3zM210.4 653.98h19.3v15.62h-19.3zM229.7 653.98h19.3v15.62h-19.3zM249 653.98h19.3v15.62h-19.3zM75.3 669.6h19.3v15.62h-19.3zM94.6 669.6h19.3v15.62h-19.3zM113.9 669.6h19.3v15.62h-19.3zM133.2 669.6h19.3v15.62h-19.3zM152.5 669.6h19.3v15.62h-19.3zM171.8 669.6h19.3v15.62h-19.3zM191.1 669.6h19.3v15.62h-19.3zM210.4 669.6h19.3v15.62h-19.3zM229.7 669.6h19.3v15.62h-19.3zM249 669.6h19.3v15.62h-19.3zM268.3 669.6h19.3v15.62h-19.3z" fill="none" stroke="#efefef" stroke-width="0.5"/>
<line x1="77.04" y1="527.61" x2="92.86" y2="514.81" stroke="#d88c8c" stroke-width="0.6"/>
<circle cx="84.95" cy="521.21" r="1.25" fill="#6a6a6a"/>
<path d="M89.5 533.15L90.36 533.92L91.14 534.73L91.81 535.58L92.36 536.45L92.78 537.33L93.07 538.2L93.23 539.05L93.24 539.86L93.1 540.61L92.83 541.31L92.43 541.92L91.89 542.45L91.24 542.88L90.48 543.21L89.63 543.43L88.69 543.54L87.69 543.53L86.65 543.4L85.57 543.17L84.49 542.83L83.41 542.38L82.36 541.84L81.35 541.21L80.4 540.51L79.54 539.74L78.76 538.93L78.09 538.08L77.54 537.21L77.12 536.33L76.83 535.46L76.67 534.61L76.66 533.8L76.8 533.05L77.07 532.35L77.47 531.74L78.01 531.21L78.66 530.78L79.42 530.45L80.27 530.23L81.21 530.12L82.21 530.13L83.25 530.26L84.33 530.49L85.41 530.83L86.49 531.28L87.54 531.82L88.55 532.45Z" fill="#9f9fe0"/>
<circle cx="84.95" cy="536.83" r="1.6" fill="rgba(20,20,45,0.6)"/>
<line x1="96.34" y1="543.23" x2="112.16" y2="530.43" stroke="#d88c8c" stroke-width="0.6"/>
<circle cx="104.25" cy="536.83" r="1.25" fill="#6a6a6a"/>
<path d="M89.5 548.77L90.36 549.54L91.14 550.35L91.81 551.2L92.36 552.07L92.78 552.95L93.07 553.82L93.23 554.67L93.24 555.48L93.1 556.23L92.83 556.93L92.43 557.54L91.89 558.07L91.24 558.5L90.48 558.83L89.63 559.05L88.69 559.16L87.69 559.15L86.65 559.02L85.57 558.79L84.49 558.45L83.41 558L82.36 557.46L81.35 556.83L80.4 556.13L79.54 555.36L78.76 554.55L78.09 553.7L77.54 552.83L77.12 551.95L76.83 551.08L76.67 550.23L76.66 549.42L76.8 548.67L77.07 547.97L77.47 547.36L78.01 546.83L78.66 546.4L79.42 546.07L80.27 545.85L81.21 545.74L82.21 545.75L83.25 545.88L84.33 546.11L85.41 546.45L86.49 546.9L87.54 547.44L88.55 548.07Z" fill="#9f9fe0"/>
<circle cx="84.95" cy="552.45" r="1.6" fill="rgba(20,20,45,0.6)"/>
<path d="M112.12 546.08L112.4 546.41L112.53 546.84L112.53 547.38L112.38 547.99L112.09 548.69L111.67 549.45L111.12 550.26L110.46 551.1L109.69 551.97L108.82 552.85L107.88 553.72L106.87 554.57L105.82 555.39L104.75 556.15L103.66 556.85L102.59 557.48L101.54 558.01L100.54 558.46L99.6 558.8L98.74 559.03L97.98 559.15L97.32 559.15L96.79 559.04L96.38 558.82L96.1 558.49L95.97 558.06L95.97 557.52L96.12 556.91L96.41 556.21L96.83 555.45L97.38 554.64L98.04 553.8L98.81 552.93L99.68 552.05L100.62 551.18L101.63 550.33L102.68 549.51L103.75 548.75L104.84 548.05L105.91 547.42L106.96 546.89L107.96 546.44L108.9 546.1L109.76 545.87L110.52 545.75L111.18 545.75L111.71 545.86Z" fill="#ff3333"/>
<circle cx="104.25" cy="552.45" r="1.6" fill="rgba(20,20,45,0.6)"/>
<line x1="115.64" y1="558.85" x2="131.46" y2="546.05" stroke="#d88c8c" stroke-width="0.6"/>
<circle cx="123.55" cy="552.45" r="1.25" fill="#6a6a6a"/>
<path d="M91.79 562.53L92.35 563.07L92.78 563.7L93.07 564.41L93.22 565.17L93.24 565.99L93.11 566.84L92.84 567.71L92.44 568.59L91.91 569.46L91.26 570.31L90.5 571.11L89.64 571.87L88.71 572.56L87.71 573.17L86.67 573.7L85.59 574.13L84.51 574.46L83.43 574.67L82.38 574.78L81.37 574.77L80.42 574.64L79.55 574.4L78.78 574.06L78.11 573.61L77.55 573.07L77.12 572.44L76.83 571.73L76.68 570.97L76.66 570.15L76.79 569.3L77.06 568.43L77.46 567.55L77.99 566.68L78.64 565.83L79.4 565.03L80.26 564.27L81.19 563.58L82.19 562.97L83.23 562.44L84.31 562.01L85.39 561.68L86.47 561.47L87.52 561.36L88.53 561.37L89.48 561.5L90.35 561.74L91.12 562.08Z" fill="#ffa3a3"/>
<circle cx="84.95" cy="568.07" r="1.6" fill="rgba(20,20,45,0.6)"/>
<path d="M108.98 564.24L109.83 564.99L110.58 565.8L111.23 566.64L111.76 567.51L112.15 568.39L112.42 569.26L112.54 570.12L112.52 570.93L112.36 571.7L112.06 572.41L111.63 573.04L111.07 573.59L110.39 574.04L109.61 574.39L108.74 574.63L107.79 574.76L106.78 574.78L105.73 574.68L104.65 574.47L103.56 574.15L102.49 573.72L101.44 573.2L100.45 572.59L99.52 571.9L98.67 571.15L97.92 570.34L97.27 569.5L96.74 568.63L96.35 567.75L96.08 566.88L95.96 566.02L95.98 565.21L96.14 564.44L96.44 563.73L96.87 563.1L97.43 562.55L98.11 562.1L98.89 561.75L99.76 561.51L100.71 561.38L101.72 561.36L102.77 561.46L103.85 561.67L104.94 561.99L106.01 562.42L107.06 562.94L108.05 563.55Z" fill="#aaaae4"/>
<circle cx="104.25" cy="568.07" r="1.6" fill="rgba(20,20,45,0.6)"/>
<path d="M128.28 564.24L129.13 564.99L129.88 565.8L130.53 566.64L131.06 567.51L131.45 568.39L131.72 569.26L131.84 570.12L131.82 570.93L131.66 571.7L131.36 572.41L130.93 573.04L130.37 573.59L129.69 574.04L128.91 574.39L128.04 574.63L127.09 574.76L126.08 574.78L125.03 574.68L123.95 574.47L122.86 574.15L121.79 573.72L120.74 573.2L119.75 572.59L118.82 571.9L117.97 571.15L117.22 570.34L116.57 569.5L116.04 568.63L115.65 567.75L115.38 566.88L115.26 566.02L115.28 565.21L115.44 564.44L115.74 563.73L116.17 563.1L116.73 562.55L117.41 562.1L118.19 561.75L119.06 561.51L120.01 561.38L121.02 561.36L122.07 561.46L123.15 561.67L124.24 561.99L125.31 562.42L126.36 562.94L127.35 563.55Z" fill="#aaaae4"/>
<circle cx="123.55" cy="568.07" r="1.6" fill="rgba(20,20,45,0.6)"/>
<line x1="134.94" y1="574.47" x2="150.76" y2="561.67" stroke="#d88c8c" stroke-width="0.6"/>
<circle cx="142.85" cy="568.07" r="1.25" fill="#6a6a6a"/>
<path d="M89.5 580.01L90.36 580.78L91.14 581.59L91.81 582.44L92.36 583.31L92.78 584.19L93.07 585.06L93.23 585.91L93.24 586.72L93.1 587.47L92.83 588.17L92.43 588.78L91.89 589.31L91.24 589.74L90.48 590.07L89.63 590.29L88.69 590.4L87.69 590.39L86.65 590.26L85.57 590.03L84.49 589.69L83.41 589.24L82.36 588.7L81.35 588.07L80.4 587.37L79.54 586.6L78.76 585.79L78.09 584.94L77.54 584.07L77.12 583.19L76.83 582.32L76.67 581.47L76.66 580.66L76.8 579.91L77.07 579.21L77.47 578.6L78.01 578.07L78.66 577.64L79.42 577.31L80.27 577.09L81.21 576.98L82.21 576.99L83.25 577.12L84.33 577.35L85.41 577.69L86.49 578.14L87.54 578.68L88.55 579.31Z" fill="#9f9fe0"/>
<circle cx="84.95" cy="583.69" r="1.6" fill="rgba(20,20,45,0.6)"/>
<path d="M110.99 578.23L111.57 578.79L112.01 579.43L112.33 580.15L112.51 580.92L112.54 581.75L112.44 582.6L112.19 583.48L111.81 584.35L111.3 585.22L110.67 586.06L109.93 586.86L109.09 587.61L108.17 588.29L107.18 588.89L106.14 589.4L105.07 589.81L103.98 590.12L102.9 590.32L101.85 590.4L100.83 590.37L99.87 590.23L98.99 589.97L98.2 589.61L97.51 589.15L96.93 588.59L96.49 587.95L96.17 587.23L95.99 586.46L95.96 585.63L96.06 584.78L96.31 583.9L96.69 583.03L97.2 582.16L97.83 581.32L98.57 580.52L99.41 579.77L100.33 579.09L101.32 578.49L102.36 577.98L103.43 577.57L104.52 577.26L105.6 577.06L106.65 576.98L107.67 577.01L108.63 577.15L109.51 577.41L110.3 577.77Z" fill="#ffadad"/>
<circle cx="104.25" cy="583.69" r="1.6" fill="rgba(20,20,45,0.6)"/>
<path d="M130.03 578.44L130.65 579.04L131.15 579.71L131.52 580.45L131.75 581.24L131.85 582.08L131.8 582.95L131.61 583.82L131.28 584.7L130.82 585.56L130.23 586.38L129.53 587.16L128.73 587.88L127.84 588.53L126.88 589.1L125.86 589.57L124.8 589.95L123.72 590.21L122.63 590.37L121.56 590.41L120.53 590.33L119.55 590.14L118.63 589.84L117.8 589.44L117.07 588.94L116.45 588.34L115.95 587.67L115.58 586.93L115.35 586.14L115.25 585.3L115.3 584.43L115.49 583.56L115.82 582.68L116.28 581.82L116.87 581L117.57 580.22L118.37 579.5L119.26 578.85L120.22 578.28L121.24 577.81L122.3 577.43L123.38 577.17L124.47 577.01L125.54 576.97L126.57 577.05L127.55 577.24L128.47 577.54L129.3 577.94Z" fill="#ffc7c7"/>
<path d="M148.1 579.44L148.89 580.16L149.58 580.93L150.16 581.76L150.61 582.61L150.93 583.49L151.11 584.37L151.15 585.23L151.04 586.07L150.8 586.87L150.42 587.62L149.91 588.29L149.28 588.89L148.54 589.4L147.7 589.81L146.78 590.12L145.79 590.32L144.75 590.4L143.68 590.37L142.6 590.23L141.52 589.97L140.46 589.61L139.44 589.14L138.49 588.58L137.6 587.94L136.81 587.22L136.12 586.45L135.54 585.62L135.09 584.77L134.77 583.89L134.59 583.01L134.55 582.15L134.66 581.31L134.9 580.51L135.28 579.76L135.79 579.09L136.42 578.49L137.16 577.98L138 577.57L138.92 577.26L139.91 577.06L140.95 576.98L142.02 577.01L143.1 577.15L144.18 577.41L145.24 577.77L146.26 578.24L147.21 578.8Z" fill="#ceceee"/>
<line x1="154.24" y1="590.09" x2="170.06" y2="577.29" stroke="#d88c8c" stroke-width="0.6"/>
<circle cx="162.15" cy="583.69" r="1.25" fill="#6a6a6a"/>
<path d="M89.5 595.63L90.36 596.4L91.14 597.21L91.81 598.06L92.36 598.93L92.78 599.81L93.07 600.68L93.23 601.53L93.24 602.34L93.1 603.09L92.83 603.79L92.43 604.4L91.89 604.93L91.24 605.36L90.48 605.69L89.63 605.91L88.69 606.02L87.69 606.01L86.65 605.88L85.57 605.65L84.49 605.31L83.41 604.86L82.36 604.32L81.35 603.69L80.4 602.99L79.54 602.22L78.76 601.41L78.09 600.56L77.54 599.69L77.12 598.81L76.83 597.94L76.67 597.09L76.66 596.28L76.8 595.53L77.07 594.83L77.47 594.22L78.01 593.69L78.66 593.26L79.42 592.93L80.27 592.71L81.21 592.6L82.21 592.61L83.25 592.74L84.33 592.97L85.41 593.31L86.49 593.76L87.54 594.3L88.55 594.93Z" fill="#9f9fe0"/>
<circle cx="84.95" cy="599.31" r="1.6" fill="rgba(20,20,45,0.6)"/>
<path d="M110.46 594.28L111.13 594.91L111.67 595.61L112.09 596.37L112.38 597.18L112.53 598.03L112.53 598.91L112.4 599.78L112.12 600.66L111.71 601.5L111.17 602.31L110.52 603.07L109.75 603.77L108.9 604.38L107.96 604.91L106.96 605.35L105.91 605.68L104.84 605.9L103.75 606.01L102.67 606.01L101.62 605.89L100.62 605.66L99.68 605.32L98.81 604.87L98.04 604.34L97.37 603.71L96.83 603.01L96.41 602.25L96.12 601.44L95.97 600.59L95.97 599.71L96.1 598.84L96.38 597.96L96.79 597.12L97.33 596.31L97.98 595.55L98.75 594.85L99.6 594.24L100.54 593.71L101.54 593.27L102.59 592.94L103.66 592.72L104.75 592.61L105.83 592.61L106.88 592.73L107.88 592.96L108.82 593.3L109.69 593.75Z" fill="#ffe0e0"/>
<path d="M129.48 594.51L130.18 595.17L130.78 595.89L131.25 596.68L131.59 597.51L131.79 598.37L131.85 599.24L131.77 600.12L131.54 600.98L131.19 601.82L130.7 602.61L130.08 603.35L129.36 604.01L128.54 604.6L127.63 605.09L126.65 605.49L125.62 605.78L124.55 605.96L123.47 606.03L122.38 605.98L121.32 605.81L120.3 605.54L119.33 605.16L118.43 604.68L117.62 604.11L116.92 603.45L116.32 602.73L115.85 601.94L115.51 601.11L115.31 600.25L115.25 599.38L115.33 598.5L115.56 597.64L115.91 596.8L116.4 596.01L117.02 595.27L117.74 594.61L118.56 594.02L119.47 593.53L120.45 593.13L121.48 592.84L122.55 592.66L123.63 592.59L124.72 592.64L125.78 592.81L126.8 593.08L127.77 593.46L128.67 593.94Z" fill="#fffafa"/>
<path d="M148.42 594.8L149.17 595.49L149.82 596.25L150.35 597.05L150.75 597.9L151.01 598.77L151.14 599.65L151.12 600.52L150.96 601.37L150.67 602.19L150.24 602.96L149.68 603.66L149 604.29L148.23 604.84L147.35 605.29L146.41 605.64L145.4 605.88L144.34 606L143.27 606.02L142.18 605.92L141.11 605.7L140.06 605.38L139.07 604.95L138.13 604.43L137.28 603.82L136.53 603.13L135.88 602.37L135.35 601.57L134.95 600.72L134.69 599.85L134.56 598.97L134.58 598.1L134.74 597.25L135.03 596.43L135.46 595.66L136.02 594.96L136.7 594.33L137.47 593.78L138.35 593.33L139.29 592.98L140.3 592.74L141.36 592.62L142.43 592.6L143.52 592.7L144.59 592.92L145.64 593.24L146.63 593.67L147.57 594.19Z" fill="#e7e7f7"/>
<path d="M168.08 594.51L168.78 595.17L169.38 595.89L169.85 596.68L170.19 597.51L170.39 598.37L170.45 599.24L170.37 600.12L170.14 600.98L169.79 601.82L169.3 602.61L168.68 603.35L167.96 604.01L167.14 604.6L166.23 605.09L165.25 605.49L164.22 605.78L163.15 605.96L162.07 606.03L160.98 605.98L159.92 605.81L158.9 605.54L157.93 605.16L157.03 604.68L156.22 604.11L155.52 603.45L154.92 602.73L154.45 601.94L154.11 601.11L153.91 600.25L153.85 599.38L153.93 598.5L154.16 597.64L154.51 596.8L155 596.01L155.62 595.27L156.34 594.61L157.16 594.02L158.07 593.53L159.05 593.13L160.08 592.84L161.15 592.66L162.23 592.59L163.32 592.64L164.38 592.81L165.4 593.08L166.37 593.46L167.27 593.94Z" fill="#fffafa"/>
<line x1="173.54" y1="605.71" x2="189.36" y2="592.91" stroke="#d88c8c" stroke-width="0.6"/>
<circle cx="181.45" cy="599.31" r="1.25" fill="#6a6a6a"/>
<path d="M91.79 609.39L92.35 609.93L92.78 610.56L93.07 611.27L93.22 612.03L93.24 612.85L93.11 613.7L92.84 614.57L92.44 615.45L91.91 616.32L91.26 617.17L90.5 617.97L89.64 618.73L88.71 619.42L87.71 620.03L86.67 620.56L85.59 620.99L84.51 621.32L83.43 621.53L82.38 621.64L81.37 621.63L80.42 621.5L79.55 621.26L78.78 620.92L78.11 620.47L77.55 619.93L77.12 619.3L76.83 618.59L76.68 617.83L76.66 617.01L76.79 616.16L77.06 615.29L77.46 614.41L77.99 613.54L78.64 612.69L79.4 611.89L80.26 611.13L81.19 610.44L82.19 609.83L83.23 609.3L84.31 608.87L85.39 608.54L86.47 608.33L87.52 608.22L88.53 608.23L89.48 608.36L90.35 608.6L91.12 608.94Z" fill="#ffa3a3"/>
<circle cx="84.95" cy="614.93" r="1.6" fill="rgba(20,20,45,0.6)"/>
<path d="M109.66 610.55L110.44 611.25L111.1 612.02L111.66 612.83L112.08 613.68L112.37 614.56L112.53 615.44L112.54 616.31L112.41 617.15L112.13 617.96L111.73 618.72L111.2 619.41L110.54 620.02L109.78 620.55L108.93 620.98L107.99 621.31L106.99 621.53L105.95 621.64L104.87 621.63L103.79 621.5L102.71 621.27L101.66 620.92L100.65 620.48L99.71 619.94L98.84 619.31L98.06 618.61L97.4 617.84L96.84 617.03L96.42 616.18L96.13 615.3L95.97 614.42L95.96 613.55L96.09 612.71L96.37 611.9L96.77 611.14L97.3 610.45L97.96 609.84L98.72 609.31L99.57 608.88L100.51 608.55L101.51 608.33L102.55 608.22L103.63 608.23L104.71 608.36L105.79 608.59L106.84 608.94L107.85 609.38L108.79 609.92Z" fill="#dadaf2"/>
<path d="M129.21 610.35L129.95 611.03L130.59 611.78L131.1 612.58L131.49 613.42L131.74 614.29L131.84 615.17L131.81 616.04L131.64 616.89L131.32 617.72L130.88 618.49L130.31 619.2L129.62 619.84L128.83 620.4L127.95 620.86L126.99 621.22L125.98 621.47L124.92 621.62L123.84 621.64L122.76 621.55L121.68 621.35L120.64 621.04L119.65 620.63L118.73 620.11L117.89 619.51L117.15 618.83L116.51 618.08L116 617.28L115.61 616.44L115.36 615.57L115.26 614.69L115.29 613.82L115.46 612.97L115.78 612.14L116.22 611.37L116.79 610.66L117.48 610.02L118.27 609.46L119.15 609L120.11 608.64L121.12 608.39L122.18 608.24L123.26 608.22L124.34 608.31L125.42 608.51L126.46 608.82L127.45 609.23L128.37 609.75Z" fill="#eeeef9"/>
<path d="M148.42 610.42L149.17 611.11L149.82 611.87L150.35 612.67L150.75 613.52L151.01 614.39L151.14 615.27L151.12 616.14L150.96 616.99L150.67 617.81L150.24 618.58L149.68 619.28L149 619.91L148.23 620.46L147.35 620.91L146.41 621.26L145.4 621.5L144.34 621.62L143.27 621.64L142.18 621.54L141.11 621.32L140.06 621L139.07 620.57L138.13 620.05L137.28 619.44L136.53 618.75L135.88 617.99L135.35 617.19L134.95 616.34L134.69 615.47L134.56 614.59L134.58 613.72L134.74 612.87L135.03 612.05L135.46 611.28L136.02 610.58L136.7 609.95L137.47 609.4L138.35 608.95L139.29 608.6L140.3 608.36L141.36 608.24L142.43 608.22L143.52 608.32L144.59 608.54L145.64 608.86L146.63 609.29L147.57 609.81Z" fill="#e7e7f7"/>
<path d="M167.56 610.55L168.34 611.25L169 612.02L169.56 612.83L169.98 613.68L170.27 614.56L170.43 615.44L170.44 616.31L170.31 617.15L170.03 617.96L169.63 618.72L169.1 619.41L168.44 620.02L167.68 620.55L166.83 620.98L165.89 621.31L164.89 621.53L163.85 621.64L162.77 621.63L161.69 621.5L160.61 621.27L159.56 620.92L158.55 620.48L157.61 619.94L156.74 619.31L155.96 618.61L155.3 617.84L154.74 617.03L154.32 616.18L154.03 615.3L153.87 614.42L153.86 613.55L153.99 612.71L154.27 611.9L154.67 611.14L155.2 610.45L155.86 609.84L156.62 609.31L157.47 608.88L158.41 608.55L159.41 608.33L160.45 608.22L161.53 608.23L162.61 608.36L163.69 608.59L164.74 608.94L165.75 609.38L166.69 609.92Z" fill="#dadaf2"/>
<path d="M185.07 612L186.01 612.82L186.88 613.67L187.65 614.54L188.32 615.42L188.87 616.29L189.29 617.13L189.58 617.94L189.73 618.7L189.73 619.39L189.6 620.01L189.33 620.54L188.92 620.97L188.38 621.31L187.73 621.53L186.97 621.64L186.11 621.63L185.17 621.51L184.17 621.27L183.13 620.93L182.05 620.49L180.97 619.95L179.89 619.32L178.84 618.62L177.83 617.86L176.89 617.04L176.02 616.19L175.25 615.32L174.58 614.44L174.03 613.57L173.61 612.73L173.32 611.92L173.17 611.16L173.17 610.47L173.3 609.85L173.57 609.32L173.98 608.89L174.52 608.55L175.17 608.33L175.93 608.22L176.79 608.23L177.73 608.35L178.73 608.59L179.77 608.93L180.85 609.37L181.93 609.91L183.01 610.54L184.06 611.24Z" fill="#6b6bd1"/>
<circle cx="181.45" cy="614.93" r="1.6" fill="rgba(20,20,45,0.6)"/>
<line x1="192.84" y1="621.33" x2="208.66" y2="608.53" stroke="#d88c8c" stroke-width="0.6"/>
<circle cx="200.75" cy="614.93" r="1.25" fill="#6a6a6a"/>
<path d="M89.5 626.87L90.36 627.64L91.14 628.45L91.81 629.3L92.36 630.17L92.78 631.05L93.07 631.92L93.23 632.77L93.24 633.58L93.1 634.33L92.83 635.03L92.43 635.64L91.89 636.17L91.24 636.6L90.48 636.93L89.63 637.15L88.69 637.26L87.69 637.25L86.65 637.12L85.57 636.89L84.49 636.55L83.41 636.1L82.36 635.56L81.35 634.93L80.4 634.23L79.54 633.46L78.76 632.65L78.09 631.8L77.54 630.93L77.12 630.05L76.83 629.18L76.67 628.33L76.66 627.52L76.8 626.77L77.07 626.07L77.47 625.46L78.01 624.93L78.66 624.5L79.42 624.17L80.27 623.95L81.21 623.84L82.21 623.85L83.25 623.98L84.33 624.21L85.41 624.55L86.49 625L87.54 625.54L88.55 626.17Z" fill="#9f9fe0"/>
<circle cx="84.95" cy="630.55" r="1.6" fill="rgba(20,20,45,0.6)"/>
<path d="M110.32 625.64L111.01 626.28L111.58 626.99L112.02 627.76L112.34 628.59L112.51 629.44L112.54 630.31L112.44 631.19L112.19 632.06L111.8 632.9L111.29 633.7L110.65 634.45L109.91 635.13L109.07 635.73L108.15 636.25L107.16 636.66L106.12 636.97L105.04 637.17L103.96 637.26L102.88 637.24L101.82 637.09L100.81 636.84L99.85 636.48L98.97 636.02L98.18 635.46L97.49 634.82L96.92 634.11L96.48 633.34L96.16 632.51L95.99 631.66L95.96 630.79L96.06 629.91L96.31 629.04L96.7 628.2L97.21 627.4L97.85 626.65L98.59 625.97L99.43 625.37L100.35 624.85L101.34 624.44L102.38 624.13L103.46 623.93L104.54 623.84L105.62 623.86L106.68 624.01L107.69 624.26L108.65 624.62L109.53 625.08Z" fill="#ffeded"/>
<path d="M129.05 626.09L129.82 626.79L130.47 627.55L131.01 628.36L131.42 629.2L131.7 630.08L131.83 630.95L131.83 631.83L131.68 632.68L131.39 633.49L130.97 634.25L130.43 634.95L129.76 635.58L128.99 636.11L128.12 636.56L127.18 636.9L126.18 637.13L125.13 637.25L124.05 637.25L122.96 637.14L121.89 636.92L120.84 636.59L119.84 636.15L118.9 635.62L118.05 635.01L117.28 634.31L116.63 633.55L116.09 632.74L115.68 631.9L115.4 631.02L115.27 630.15L115.27 629.27L115.42 628.42L115.71 627.61L116.13 626.85L116.67 626.15L117.34 625.52L118.11 624.99L118.98 624.54L119.92 624.2L120.92 623.97L121.97 623.85L123.05 623.85L124.14 623.96L125.21 624.18L126.26 624.51L127.26 624.95L128.2 625.48Z" fill="#e2e2f5"/>
<path d="M148.6 625.9L149.33 626.57L149.95 627.31L150.45 628.1L150.82 628.94L151.05 629.81L151.15 630.68L151.1 631.56L150.91 632.42L150.58 633.24L150.12 634.02L149.53 634.74L148.83 635.39L148.03 635.96L147.14 636.43L146.18 636.81L145.16 637.07L144.1 637.23L143.02 637.27L141.93 637.19L140.86 637L139.83 636.7L138.85 636.3L137.93 635.8L137.1 635.2L136.37 634.53L135.75 633.79L135.25 633L134.88 632.16L134.65 631.29L134.55 630.42L134.6 629.54L134.79 628.68L135.12 627.86L135.58 627.08L136.17 626.36L136.87 625.71L137.67 625.14L138.56 624.67L139.52 624.29L140.54 624.03L141.6 623.87L142.68 623.83L143.77 623.91L144.84 624.1L145.87 624.4L146.85 624.8L147.77 625.3Z" fill="#f5f5fc"/>
<path d="M168.58 625.35L169.21 625.95L169.72 626.62L170.1 627.37L170.34 628.17L170.45 629.01L170.41 629.87L170.23 630.75L169.91 631.63L169.46 632.48L168.88 633.31L168.19 634.08L167.4 634.8L166.51 635.44L165.56 636L164.54 636.47L163.48 636.83L162.4 637.09L161.32 637.23L160.25 637.26L159.21 637.18L158.22 636.98L157.3 636.67L156.46 636.26L155.72 635.75L155.09 635.15L154.58 634.48L154.2 633.73L153.96 632.93L153.85 632.09L153.89 631.23L154.07 630.35L154.39 629.47L154.84 628.62L155.42 627.79L156.11 627.02L156.9 626.3L157.79 625.66L158.74 625.1L159.76 624.63L160.82 624.27L161.9 624.01L162.98 623.87L164.05 623.84L165.09 623.92L166.08 624.12L167 624.43L167.84 624.84Z" fill="#ffcccc"/>
<path d="M188.52 624.83L189.02 625.34L189.4 625.94L189.64 626.61L189.75 627.36L189.71 628.16L189.52 629L189.2 629.86L188.75 630.74L188.17 631.62L187.48 632.47L186.69 633.3L185.8 634.07L184.84 634.79L183.82 635.43L182.77 635.99L181.69 636.46L180.6 636.83L179.53 637.08L178.49 637.23L177.51 637.26L176.59 637.18L175.75 636.99L175.01 636.68L174.38 636.27L173.88 635.76L173.5 635.16L173.26 634.49L173.15 633.74L173.19 632.94L173.38 632.1L173.7 631.24L174.15 630.36L174.73 629.48L175.42 628.63L176.21 627.8L177.1 627.03L178.06 626.31L179.08 625.67L180.13 625.11L181.21 624.64L182.3 624.27L183.37 624.02L184.41 623.87L185.39 623.84L186.31 623.92L187.15 624.11L187.89 624.42Z" fill="#ff8c8c"/>
<circle cx="181.45" cy="630.55" r="1.6" fill="rgba(20,20,45,0.6)"/>
<path d="M204.6 627.44L205.52 628.24L206.37 629.08L207.12 629.95L207.76 630.83L208.28 631.7L208.67 632.56L208.93 633.38L209.04 634.15L209.02 634.86L208.85 635.49L208.54 636.04L208.1 636.5L207.54 636.86L206.86 637.1L206.07 637.24L205.19 637.26L204.24 637.17L203.23 636.96L202.17 636.64L201.09 636.22L200.01 635.7L198.94 635.1L197.89 634.41L196.9 633.66L195.98 632.86L195.13 632.02L194.38 631.15L193.74 630.27L193.22 629.4L192.83 628.54L192.57 627.72L192.46 626.95L192.48 626.24L192.65 625.61L192.96 625.06L193.4 624.6L193.96 624.24L194.64 624L195.43 623.86L196.31 623.84L197.26 623.93L198.27 624.14L199.33 624.46L200.41 624.88L201.49 625.4L202.56 626L203.61 626.69Z" fill="#7777d5"/>
<circle cx="200.75" cy="630.55" r="1.6" fill="rgba(20,20,45,0.6)"/>
<line x1="212.14" y1="636.95" x2="227.96" y2="624.15" stroke="#d88c8c" stroke-width="0.6"/>
<circle cx="220.05" cy="630.55" r="1.25" fill="#6a6a6a"/>
<path d="M91.79 640.63L92.35 641.17L92.78 641.8L93.07 642.51L93.22 643.27L93.24 644.09L93.11 644.94L92.84 645.81L92.44 646.69L91.91 647.56L91.26 648.41L90.5 649.21L89.64 649.97L88.71 650.66L87.71 651.27L86.67 651.8L85.59 652.23L84.51 652.56L83.43 652.77L82.38 652.88L81.37 652.87L80.42 652.74L79.55 652.5L78.78 652.16L78.11 651.71L77.55 651.17L77.12 650.54L76.83 649.83L76.68 649.07L76.66 648.25L76.79 647.4L77.06 646.53L77.46 645.65L77.99 644.78L78.64 643.93L79.4 643.13L80.26 642.37L81.19 641.68L82.19 641.07L83.23 640.54L84.31 640.11L85.39 639.78L86.47 639.57L87.52 639.46L88.53 639.47L89.48 639.6L90.35 639.84L91.12 640.18Z" fill="#ffa3a3"/>
<circle cx="84.95" cy="646.17" r="1.6" fill="rgba(20,20,45,0.6)"/>
<path d="M109.05 642.28L109.9 643.03L110.64 643.83L111.28 644.67L111.79 645.54L112.18 646.42L112.43 647.29L112.54 648.15L112.51 648.97L112.34 649.74L112.03 650.45L111.59 651.09L111.02 651.65L110.33 652.11L109.54 652.47L108.66 652.72L107.71 652.86L106.7 652.88L105.64 652.79L104.56 652.59L103.47 652.28L102.4 651.86L101.36 651.34L100.37 650.74L99.45 650.06L98.6 649.31L97.86 648.51L97.22 647.67L96.71 646.8L96.32 645.92L96.07 645.05L95.96 644.19L95.99 643.37L96.16 642.6L96.47 641.89L96.91 641.25L97.48 640.69L98.17 640.23L98.96 639.87L99.84 639.62L100.79 639.48L101.8 639.46L102.86 639.55L103.94 639.75L105.03 640.06L106.1 640.48L107.14 641L108.13 641.6Z" fill="#afafe5"/>
<circle cx="104.25" cy="646.17" r="1.6" fill="rgba(20,20,45,0.6)"/>
<path d="M128.17 642.43L129.03 643.19L129.8 644L130.46 644.85L131 645.72L131.41 646.6L131.69 647.47L131.83 648.32L131.83 649.13L131.69 649.89L131.4 650.59L130.99 651.21L130.44 651.75L129.78 652.19L129.01 652.53L128.15 652.76L127.21 652.87L126.21 652.87L125.16 652.76L124.08 652.53L123 652.2L121.92 651.76L120.87 651.23L119.87 650.61L118.93 649.91L118.07 649.15L117.3 648.34L116.64 647.49L116.1 646.62L115.69 645.74L115.41 644.87L115.27 644.02L115.27 643.21L115.41 642.45L115.7 641.75L116.11 641.13L116.66 640.59L117.32 640.15L118.09 639.81L118.95 639.58L119.89 639.47L120.89 639.47L121.94 639.58L123.02 639.81L124.1 640.14L125.18 640.58L126.23 641.11L127.23 641.73Z" fill="#a3a3e2"/>
<circle cx="123.55" cy="646.17" r="1.6" fill="rgba(20,20,45,0.6)"/>
<path d="M151.12 639.48L151.14 639.61L151.02 639.86L150.76 640.21L150.37 640.67L149.85 641.22L149.2 641.85L148.45 642.56L147.61 643.33L146.68 644.15L145.68 645L144.64 645.87L143.57 646.75L142.48 647.62L141.4 648.46L140.35 649.27L139.34 650.02L138.39 650.7L137.51 651.31L136.73 651.83L136.05 652.26L135.49 652.57L135.05 652.78L134.75 652.88L134.58 652.86L134.56 652.73L134.68 652.48L134.94 652.13L135.33 651.67L135.85 651.12L136.5 650.49L137.25 649.78L138.09 649.01L139.02 648.19L140.02 647.34L141.06 646.47L142.13 645.59L143.22 644.72L144.3 643.88L145.35 643.07L146.36 642.32L147.31 641.64L148.19 641.03L148.97 640.51L149.65 640.08L150.21 639.77L150.65 639.56L150.95 639.46Z" fill="#ff0404"/>
<circle cx="142.85" cy="646.17" r="1.6" fill="rgba(20,20,45,0.6)"/>
<path d="M167.4 641.92L168.19 642.64L168.88 643.41L169.46 644.24L169.91 645.09L170.23 645.97L170.41 646.85L170.45 647.71L170.34 648.55L170.1 649.35L169.72 650.1L169.21 650.77L168.58 651.37L167.84 651.88L167 652.29L166.08 652.6L165.09 652.8L164.05 652.88L162.98 652.85L161.9 652.71L160.82 652.45L159.76 652.09L158.74 651.62L157.79 651.06L156.9 650.42L156.11 649.7L155.42 648.93L154.84 648.1L154.39 647.25L154.07 646.37L153.89 645.49L153.85 644.63L153.96 643.79L154.2 642.99L154.58 642.24L155.09 641.57L155.72 640.97L156.46 640.46L157.3 640.05L158.22 639.74L159.21 639.54L160.25 639.46L161.32 639.49L162.4 639.63L163.48 639.89L164.54 640.25L165.56 640.72L166.51 641.28Z" fill="#ceceee"/>
<path d="M187.14 641.57L187.88 642.24L188.51 642.99L189.02 643.79L189.4 644.63L189.64 645.49L189.75 646.37L189.71 647.25L189.53 648.1L189.21 648.93L188.76 649.7L188.18 650.42L187.49 651.06L186.7 651.62L185.81 652.08L184.85 652.45L183.84 652.71L182.78 652.85L181.7 652.88L180.61 652.8L179.54 652.6L178.51 652.3L177.52 651.88L176.6 651.37L175.76 650.77L175.02 650.1L174.39 649.35L173.88 648.55L173.5 647.71L173.26 646.85L173.15 645.97L173.19 645.09L173.37 644.24L173.69 643.41L174.14 642.64L174.72 641.92L175.41 641.28L176.2 640.72L177.09 640.26L178.05 639.89L179.06 639.63L180.12 639.49L181.2 639.46L182.29 639.54L183.36 639.74L184.39 640.04L185.38 640.46L186.3 640.97Z" fill="#f0f0fa"/>
<path d="M206 641.92L206.79 642.64L207.48 643.41L208.06 644.24L208.51 645.09L208.83 645.97L209.01 646.85L209.05 647.71L208.94 648.55L208.7 649.35L208.32 650.1L207.81 650.77L207.18 651.37L206.44 651.88L205.6 652.29L204.68 652.6L203.69 652.8L202.65 652.88L201.58 652.85L200.5 652.71L199.42 652.45L198.36 652.09L197.34 651.62L196.39 651.06L195.5 650.42L194.71 649.7L194.02 648.93L193.44 648.1L192.99 647.25L192.67 646.37L192.49 645.49L192.45 644.63L192.56 643.79L192.8 642.99L193.18 642.24L193.69 641.57L194.32 640.97L195.06 640.46L195.9 640.05L196.82 639.74L197.81 639.54L198.85 639.46L199.92 639.49L201 639.63L202.08 639.89L203.14 640.25L204.16 640.72L205.11 641.28Z" fill="#ceceee"/>
<path d="M225.83 641.49L226.56 642.16L227.17 642.9L227.67 643.69L228.03 644.53L228.26 645.39L228.35 646.27L228.29 647.15L228.1 648.01L227.76 648.83L227.3 649.62L226.71 650.34L226.01 650.99L225.2 651.56L224.31 652.04L223.34 652.41L222.32 652.68L221.26 652.84L220.17 652.89L219.09 652.82L218.02 652.63L216.99 652.34L216.01 651.94L215.1 651.44L214.27 650.85L213.54 650.18L212.93 649.44L212.43 648.65L212.07 647.81L211.84 646.95L211.75 646.07L211.81 645.19L212 644.33L212.34 643.51L212.8 642.72L213.39 642L214.09 641.35L214.9 640.78L215.79 640.3L216.76 639.93L217.78 639.66L218.84 639.5L219.93 639.45L221.01 639.52L222.08 639.71L223.11 640L224.09 640.4L225 640.9Z" fill="#f8f8fc"/>
<line x1="231.44" y1="652.57" x2="247.26" y2="639.77" stroke="#d88c8c" stroke-width="0.6"/>
<circle cx="239.35" cy="646.17" r="1.25" fill="#6a6a6a"/>
<path d="M91.79 656.25L92.35 656.79L92.78 657.42L93.07 658.13L93.22 658.89L93.24 659.71L93.11 660.56L92.84 661.43L92.44 662.31L91.91 663.18L91.26 664.03L90.5 664.83L89.64 665.59L88.71 666.28L87.71 666.89L86.67 667.42L85.59 667.85L84.51 668.18L83.43 668.39L82.38 668.5L81.37 668.49L80.42 668.36L79.55 668.12L78.78 667.78L78.11 667.33L77.55 666.79L77.12 666.16L76.83 665.45L76.68 664.69L76.66 663.87L76.79 663.02L77.06 662.15L77.46 661.27L77.99 660.4L78.64 659.55L79.4 658.75L80.26 657.99L81.19 657.3L82.19 656.69L83.23 656.16L84.31 655.73L85.39 655.4L86.47 655.19L87.52 655.08L88.53 655.09L89.48 655.22L90.35 655.46L91.12 655.8Z" fill="#ffa3a3"/>
<circle cx="84.95" cy="661.79" r="1.6" fill="rgba(20,20,45,0.6)"/>
<path d="M109.16 657.82L109.99 658.56L110.72 659.35L111.35 660.19L111.85 661.06L112.22 661.93L112.45 662.81L112.55 663.67L112.5 664.49L112.31 665.27L111.98 665.99L111.52 666.64L110.94 667.21L110.24 667.68L109.44 668.05L108.55 668.31L107.59 668.47L106.57 668.51L105.51 668.43L104.43 668.24L103.34 667.94L102.27 667.53L101.24 667.03L100.26 666.44L99.34 665.76L98.51 665.02L97.78 664.23L97.15 663.39L96.65 662.52L96.28 661.65L96.05 660.77L95.95 659.91L96 659.09L96.19 658.31L96.52 657.59L96.98 656.94L97.56 656.37L98.26 655.9L99.06 655.53L99.95 655.27L100.91 655.11L101.93 655.07L102.99 655.15L104.07 655.34L105.16 655.64L106.23 656.05L107.26 656.55L108.24 657.14Z" fill="#b6b6e7"/>
<circle cx="104.25" cy="661.79" r="1.6" fill="rgba(20,20,45,0.6)"/>
<path d="M128.35 657.9L129.2 658.65L129.94 659.45L130.58 660.29L131.09 661.16L131.48 662.04L131.73 662.91L131.84 663.77L131.81 664.59L131.64 665.36L131.33 666.07L130.89 666.71L130.32 667.27L129.63 667.73L128.84 668.09L127.96 668.34L127.01 668.48L126 668.5L124.94 668.41L123.86 668.21L122.77 667.9L121.7 667.48L120.66 666.96L119.67 666.36L118.75 665.68L117.9 664.93L117.16 664.13L116.52 663.29L116.01 662.42L115.62 661.54L115.37 660.67L115.26 659.81L115.29 658.99L115.46 658.22L115.77 657.51L116.21 656.87L116.78 656.31L117.47 655.85L118.26 655.49L119.14 655.24L120.09 655.1L121.1 655.08L122.16 655.17L123.24 655.37L124.33 655.68L125.4 656.1L126.44 656.62L127.43 657.22Z" fill="#afafe5"/>
<circle cx="123.55" cy="661.79" r="1.6" fill="rgba(20,20,45,0.6)"/>
<path d="M151.12 655.1L151.14 655.23L151.02 655.48L150.76 655.83L150.37 656.29L149.85 656.84L149.2 657.47L148.45 658.18L147.61 658.95L146.68 659.77L145.68 660.62L144.64 661.49L143.57 662.37L142.48 663.24L141.4 664.08L140.35 664.89L139.34 665.64L138.39 666.32L137.51 666.93L136.73 667.45L136.05 667.88L135.49 668.19L135.05 668.4L134.75 668.5L134.58 668.48L134.56 668.35L134.68 668.1L134.94 667.75L135.33 667.29L135.85 666.74L136.5 666.11L137.25 665.4L138.09 664.63L139.02 663.81L140.02 662.96L141.06 662.09L142.13 661.21L143.22 660.34L144.3 659.5L145.35 658.69L146.36 657.94L147.31 657.26L148.19 656.65L148.97 656.13L149.65 655.7L150.21 655.39L150.65 655.18L150.95 655.08Z" fill="#ff0404"/>
<circle cx="142.85" cy="661.79" r="1.6" fill="rgba(20,20,45,0.6)"/>
<path d="M167.4 657.54L168.19 658.26L168.88 659.03L169.46 659.86L169.91 660.71L170.23 661.59L170.41 662.47L170.45 663.33L170.34 664.17L170.1 664.97L169.72 665.72L169.21 666.39L168.58 666.99L167.84 667.5L167 667.91L166.08 668.22L165.09 668.42L164.05 668.5L162.98 668.47L161.9 668.33L160.82 668.07L159.76 667.71L158.74 667.24L157.79 666.68L156.9 666.04L156.11 665.32L155.42 664.55L154.84 663.72L154.39 662.87L154.07 661.99L153.89 661.11L153.85 660.25L153.96 659.41L154.2 658.61L154.58 657.86L155.09 657.19L155.72 656.59L156.46 656.08L157.3 655.67L158.22 655.36L159.21 655.16L160.25 655.08L161.32 655.11L162.4 655.25L163.48 655.51L164.54 655.87L165.56 656.34L166.51 656.9Z" fill="#ceceee"/>
<path d="M187.02 657.28L187.77 657.97L188.42 658.73L188.95 659.53L189.35 660.38L189.61 661.25L189.74 662.13L189.72 663L189.56 663.85L189.27 664.67L188.84 665.44L188.28 666.14L187.6 666.77L186.83 667.32L185.95 667.77L185.01 668.12L184 668.36L182.94 668.48L181.87 668.5L180.78 668.4L179.71 668.18L178.66 667.86L177.67 667.43L176.73 666.91L175.88 666.3L175.13 665.61L174.48 664.85L173.95 664.05L173.55 663.2L173.29 662.33L173.16 661.45L173.18 660.58L173.34 659.73L173.63 658.91L174.06 658.14L174.62 657.44L175.3 656.81L176.07 656.26L176.95 655.81L177.89 655.46L178.9 655.22L179.96 655.1L181.03 655.08L182.12 655.18L183.19 655.4L184.24 655.72L185.23 656.15L186.17 656.67Z" fill="#e7e7f7"/>
<path d="M206.25 657.33L207.02 658.03L207.67 658.79L208.21 659.6L208.62 660.44L208.9 661.32L209.03 662.19L209.03 663.07L208.88 663.92L208.59 664.73L208.17 665.49L207.63 666.19L206.96 666.82L206.19 667.35L205.32 667.8L204.38 668.14L203.38 668.37L202.33 668.49L201.25 668.49L200.16 668.38L199.09 668.16L198.04 667.83L197.04 667.39L196.1 666.86L195.25 666.25L194.48 665.55L193.83 664.79L193.29 663.98L192.88 663.14L192.6 662.26L192.47 661.39L192.47 660.51L192.62 659.66L192.91 658.85L193.33 658.09L193.87 657.39L194.54 656.76L195.31 656.23L196.18 655.78L197.12 655.44L198.12 655.21L199.17 655.09L200.25 655.09L201.34 655.2L202.41 655.42L203.46 655.75L204.46 656.19L205.4 656.72Z" fill="#e2e2f5"/>
<path d="M225.62 657.28L226.37 657.97L227.02 658.73L227.55 659.53L227.95 660.38L228.21 661.25L228.34 662.13L228.32 663L228.16 663.85L227.87 664.67L227.44 665.44L226.88 666.14L226.2 666.77L225.43 667.32L224.55 667.77L223.61 668.12L222.6 668.36L221.54 668.48L220.47 668.5L219.38 668.4L218.31 668.18L217.26 667.86L216.27 667.43L215.33 666.91L214.48 666.3L213.73 665.61L213.08 664.85L212.55 664.05L212.15 663.2L211.89 662.33L211.76 661.45L211.78 660.58L211.94 659.73L212.23 658.91L212.66 658.14L213.22 657.44L213.9 656.81L214.67 656.26L215.55 655.81L216.49 655.46L217.5 655.22L218.56 655.1L219.63 655.08L220.72 655.18L221.79 655.4L222.84 655.72L223.83 656.15L224.77 656.67Z" fill="#e7e7f7"/>
<path d="M247.6 655.11L247.65 655.26L247.55 655.52L247.31 655.89L246.93 656.36L246.43 656.92L245.8 657.56L245.06 658.28L244.23 659.06L243.31 659.88L242.33 660.74L241.29 661.62L240.22 662.49L239.14 663.36L238.05 664.2L237 665L235.98 665.74L235.02 666.42L234.13 667.01L233.33 667.52L232.64 667.93L232.06 668.23L231.6 668.42L231.28 668.5L231.1 668.47L231.05 668.32L231.15 668.06L231.39 667.69L231.77 667.22L232.27 666.66L232.9 666.02L233.64 665.3L234.47 664.52L235.39 663.7L236.37 662.84L237.41 661.96L238.48 661.09L239.56 660.22L240.65 659.38L241.7 658.58L242.72 657.84L243.68 657.16L244.57 656.57L245.37 656.06L246.06 655.65L246.64 655.35L247.1 655.16L247.42 655.08Z" fill="#ff0606"/>
<circle cx="239.35" cy="661.79" r="1.6" fill="rgba(20,20,45,0.6)"/>
<line x1="250.74" y1="668.19" x2="266.56" y2="655.39" stroke="#d88c8c" stroke-width="0.6"/>
<circle cx="258.65" cy="661.79" r="1.25" fill="#6a6a6a"/>
<path d="M91.79 671.87L92.35 672.41L92.78 673.04L93.07 673.75L93.22 674.51L93.24 675.33L93.11 676.18L92.84 677.05L92.44 677.93L91.91 678.8L91.26 679.65L90.5 680.45L89.64 681.21L88.71 681.9L87.71 682.51L86.67 683.04L85.59 683.47L84.51 683.8L83.43 684.01L82.38 684.12L81.37 684.11L80.42 683.98L79.55 683.74L78.78 683.4L78.11 682.95L77.55 682.41L77.12 681.78L76.83 681.07L76.68 680.31L76.66 679.49L76.79 678.64L77.06 677.77L77.46 676.89L77.99 676.02L78.64 675.17L79.4 674.37L80.26 673.61L81.19 672.92L82.19 672.31L83.23 671.78L84.31 671.35L85.39 671.02L86.47 670.81L87.52 670.7L88.53 670.71L89.48 670.84L90.35 671.08L91.12 671.42Z" fill="#ffa3a3"/>
<circle cx="84.95" cy="677.41" r="1.6" fill="rgba(20,20,45,0.6)"/>
<path d="M109.05 673.52L109.9 674.27L110.64 675.07L111.28 675.91L111.79 676.78L112.18 677.66L112.43 678.53L112.54 679.39L112.51 680.21L112.34 680.98L112.03 681.69L111.59 682.33L111.02 682.89L110.33 683.35L109.54 683.71L108.66 683.96L107.71 684.1L106.7 684.12L105.64 684.03L104.56 683.83L103.47 683.52L102.4 683.1L101.36 682.58L100.37 681.98L99.45 681.3L98.6 680.55L97.86 679.75L97.22 678.91L96.71 678.04L96.32 677.16L96.07 676.29L95.96 675.43L95.99 674.61L96.16 673.84L96.47 673.13L96.91 672.49L97.48 671.93L98.17 671.47L98.96 671.11L99.84 670.86L100.79 670.72L101.8 670.7L102.86 670.79L103.94 670.99L105.03 671.3L106.1 671.72L107.14 672.24L108.13 672.84Z" fill="#afafe5"/>
<circle cx="104.25" cy="677.41" r="1.6" fill="rgba(20,20,45,0.6)"/>
<path d="M128.17 673.67L129.03 674.43L129.8 675.24L130.46 676.09L131 676.96L131.41 677.84L131.69 678.71L131.83 679.56L131.83 680.37L131.69 681.13L131.4 681.83L130.99 682.45L130.44 682.99L129.78 683.43L129.01 683.77L128.15 684L127.21 684.11L126.21 684.11L125.16 684L124.08 683.77L123 683.44L121.92 683L120.87 682.47L119.87 681.85L118.93 681.15L118.07 680.39L117.3 679.58L116.64 678.73L116.1 677.86L115.69 676.98L115.41 676.11L115.27 675.26L115.27 674.45L115.41 673.69L115.7 672.99L116.11 672.37L116.66 671.83L117.32 671.39L118.09 671.05L118.95 670.82L119.89 670.71L120.89 670.71L121.94 670.82L123.02 671.05L124.1 671.38L125.18 671.82L126.23 672.35L127.23 672.97Z" fill="#a3a3e2"/>
<circle cx="123.55" cy="677.41" r="1.6" fill="rgba(20,20,45,0.6)"/>
<path d="M151.08 670.75L151.15 670.93L151.08 671.21L150.87 671.6L150.52 672.09L150.04 672.67L149.44 673.33L148.73 674.06L147.91 674.85L147.01 675.68L146.04 676.55L145.01 677.42L143.95 678.3L142.86 679.16L141.78 679.99L140.72 680.78L139.69 681.51L138.71 682.17L137.81 682.75L136.99 683.23L136.27 683.62L135.67 683.9L135.19 684.07L134.84 684.13L134.62 684.07L134.55 683.89L134.62 683.61L134.83 683.22L135.18 682.73L135.66 682.15L136.26 681.49L136.97 680.76L137.79 679.97L138.69 679.14L139.66 678.27L140.69 677.4L141.75 676.52L142.84 675.66L143.92 674.83L144.98 674.04L146.01 673.31L146.99 672.65L147.89 672.07L148.71 671.59L149.43 671.2L150.03 670.92L150.51 670.75L150.86 670.69Z" fill="#ff0909"/>
<circle cx="142.85" cy="677.41" r="1.6" fill="rgba(20,20,45,0.6)"/>
<path d="M167.4 673.16L168.19 673.88L168.88 674.65L169.46 675.48L169.91 676.33L170.23 677.21L170.41 678.09L170.45 678.95L170.34 679.79L170.1 680.59L169.72 681.34L169.21 682.01L168.58 682.61L167.84 683.12L167 683.53L166.08 683.84L165.09 684.04L164.05 684.12L162.98 684.09L161.9 683.95L160.82 683.69L159.76 683.33L158.74 682.86L157.79 682.3L156.9 681.66L156.11 680.94L155.42 680.17L154.84 679.34L154.39 678.49L154.07 677.61L153.89 676.73L153.85 675.87L153.96 675.03L154.2 674.23L154.58 673.48L155.09 672.81L155.72 672.21L156.46 671.7L157.3 671.29L158.22 670.98L159.21 670.78L160.25 670.7L161.32 670.73L162.4 670.87L163.48 671.13L164.54 671.49L165.56 671.96L166.51 672.52Z" fill="#ceceee"/>
<path d="M187.17 672.78L187.91 673.46L188.53 674.2L189.04 675L189.41 675.83L189.65 676.7L189.75 677.58L189.7 678.45L189.52 679.31L189.19 680.13L188.74 680.91L188.16 681.63L187.46 682.28L186.67 682.84L185.78 683.31L184.82 683.68L183.8 683.94L182.74 684.09L181.66 684.12L180.57 684.05L179.5 683.85L178.47 683.55L177.48 683.14L176.56 682.63L175.73 682.04L174.99 681.36L174.37 680.62L173.86 679.82L173.49 678.99L173.25 678.12L173.15 677.24L173.2 676.37L173.38 675.51L173.71 674.69L174.16 673.91L174.74 673.19L175.44 672.54L176.23 671.98L177.12 671.51L178.08 671.14L179.1 670.88L180.16 670.73L181.24 670.7L182.33 670.77L183.4 670.97L184.43 671.27L185.42 671.68L186.34 672.19Z" fill="#f3f3fb"/>
<path d="M205.83 673.3L206.64 674.03L207.36 674.81L207.96 675.64L208.43 676.5L208.78 677.38L208.98 678.26L209.05 679.12L208.97 679.95L208.76 680.74L208.4 681.47L207.92 682.14L207.31 682.72L206.59 683.21L205.77 683.6L204.87 683.89L203.89 684.07L202.86 684.13L201.8 684.07L200.71 683.91L199.63 683.63L198.57 683.24L197.54 682.76L196.57 682.18L195.67 681.52L194.86 680.79L194.14 680.01L193.54 679.18L193.07 678.32L192.72 677.44L192.52 676.56L192.45 675.7L192.53 674.87L192.74 674.08L193.1 673.35L193.58 672.68L194.19 672.1L194.91 671.61L195.73 671.22L196.63 670.93L197.61 670.75L198.64 670.69L199.7 670.75L200.79 670.91L201.87 671.19L202.93 671.58L203.96 672.06L204.93 672.64Z" fill="#c2c2ea"/>
<path d="M226.01 672.59L226.71 673.24L227.3 673.96L227.76 674.75L228.1 675.57L228.29 676.43L228.35 677.31L228.26 678.19L228.03 679.05L227.67 679.89L227.17 680.68L226.56 681.42L225.83 682.09L225 682.68L224.09 683.18L223.11 683.58L222.08 683.87L221.01 684.06L219.93 684.13L218.84 684.08L217.78 683.92L216.76 683.65L215.79 683.28L214.9 682.8L214.09 682.23L213.39 681.58L212.8 680.86L212.34 680.07L212 679.25L211.81 678.39L211.75 677.51L211.84 676.63L212.07 675.77L212.43 674.93L212.93 674.14L213.54 673.4L214.27 672.73L215.1 672.14L216.01 671.64L216.99 671.24L218.02 670.95L219.09 670.76L220.17 670.69L221.26 670.74L222.32 670.9L223.34 671.17L224.31 671.54L225.2 672.02Z" fill="#fff7f7"/>
<path d="M247.61 670.73L247.65 670.87L247.54 671.13L247.3 671.49L246.92 671.96L246.41 672.52L245.78 673.16L245.04 673.87L244.2 674.65L243.28 675.47L242.29 676.33L241.25 677.2L240.18 678.08L239.09 678.95L238.01 679.79L236.96 680.59L235.94 681.33L234.98 682.01L234.1 682.61L233.3 683.12L232.61 683.53L232.04 683.84L231.59 684.04L231.27 684.12L231.09 684.09L231.05 683.95L231.16 683.69L231.4 683.33L231.78 682.86L232.29 682.3L232.92 681.66L233.66 680.95L234.5 680.17L235.42 679.35L236.41 678.49L237.45 677.62L238.52 676.74L239.61 675.87L240.69 675.03L241.74 674.23L242.76 673.49L243.72 672.81L244.6 672.21L245.4 671.7L246.09 671.29L246.66 670.98L247.11 670.78L247.43 670.7Z" fill="#ff0505"/>
<circle cx="239.35" cy="677.41" r="1.6" fill="rgba(20,20,45,0.6)"/>
<path d="M266.81 670.8L266.94 671.02L266.92 671.34L266.76 671.77L266.47 672.29L266.04 672.91L265.48 673.59L264.81 674.35L264.03 675.16L263.16 676L262.21 676.87L261.2 677.75L260.15 678.62L259.07 679.47L257.98 680.29L256.91 681.06L255.86 681.76L254.87 682.39L253.94 682.94L253.08 683.39L252.33 683.74L251.68 683.98L251.15 684.1L250.75 684.12L250.49 684.02L250.36 683.8L250.38 683.48L250.54 683.05L250.83 682.53L251.26 681.91L251.82 681.23L252.49 680.47L253.27 679.66L254.14 678.82L255.09 677.95L256.1 677.07L257.15 676.2L258.23 675.35L259.32 674.53L260.39 673.76L261.44 673.06L262.43 672.43L263.36 671.88L264.22 671.43L264.97 671.08L265.62 670.84L266.15 670.72L266.55 670.7Z" fill="#ff1111"/>
<circle cx="258.65" cy="677.41" r="1.6" fill="rgba(20,20,45,0.6)"/>
<line x1="270.04" y1="683.81" x2="285.86" y2="671.01" stroke="#d88c8c" stroke-width="0.6"/>
<circle cx="277.95" cy="677.41" r="1.25" fill="#6a6a6a"/>
<path d="M75.3 685.22H287.6" fill="none" stroke="#999" stroke-width="1.9"/>
<path d="M75.3 513.4V685.72" fill="none" stroke="#555" stroke-width="1.1"/>
<text transform="translate(71.3 525.66) scale(1 1.07)" font-size="11.2" text-anchor="end">CSI</text>
<text transform="translate(71.3 541.28) scale(1 1.07)" font-size="11.2" text-anchor="end">R9B4SK</text>
<text transform="translate(71.3 556.9) scale(1 1.07)" font-size="11.2" text-anchor="end">R7B4SK</text>
<text transform="translate(71.3 572.52) scale(1 1.07)" font-size="11.2" text-anchor="end">R17B1SM</text>
<text transform="translate(71.3 588.14) scale(1 1.07)" font-size="11.2" text-anchor="end">R9B4SM</text>
<text transform="translate(71.3 603.76) scale(1 1.07)" font-size="11.2" text-anchor="end">R3B2SK</text>
<text transform="translate(71.3 619.38) scale(1 1.07)" font-size="11.2" text-anchor="end">R3B3SK</text>
<text transform="translate(71.3 635) scale(1 1.07)" font-size="11.2" text-anchor="end">R3B4SK</text>
<text transform="translate(71.3 650.62) scale(1 1.07)" font-size="11.2" text-anchor="end">R15B1SM</text>
<text transform="translate(71.3 666.24) scale(1 1.07)" font-size="11.2" text-anchor="end">R19B1SM</text>
<text transform="translate(71.3 681.86) scale(1 1.07)" font-size="11.2" text-anchor="end">R13B1SM</text>
<defs><linearGradient id="ge" x1="0" y1="0" x2="0" y2="1"><stop offset="0" stop-color="#ff0000"/><stop offset="0.5" stop-color="#ffffff"/><stop offset="0.62" stop-color="#c2c2ea"/><stop offset="0.75" stop-color="#8787da"/><stop offset="0.85" stop-color="#5858cb"/><stop offset="1" stop-color="#080896"/></linearGradient></defs>
<rect x="291" y="513.4" width="12.4" height="171.82" fill="url(#ge)" stroke="#9a9a9a" stroke-width="0.7"/>
<text transform="translate(310.8 518.18) scale(1 1.07)" font-size="11">1</text>
<text transform="translate(310.8 535.37) scale(1 1.07)" font-size="11">0.8</text>
<text transform="translate(310.8 552.55) scale(1 1.07)" font-size="11">0.6</text>
<text transform="translate(310.8 569.73) scale(1 1.07)" font-size="11">0.4</text>
<text transform="translate(310.8 586.91) scale(1 1.07)" font-size="11">0.2</text>
<text transform="translate(310.8 604.09) scale(1 1.07)" font-size="11">0</text>
<text transform="translate(310.8 621.28) scale(1 1.07)" font-size="11">−0.2</text>
<text transform="translate(310.8 638.46) scale(1 1.07)" font-size="11">−0.4</text>
<text transform="translate(310.8 655.64) scale(1 1.07)" font-size="11">−0.6</text>
<text transform="translate(310.8 672.82) scale(1 1.07)" font-size="11">−0.8</text>
<text transform="translate(310.8 690) scale(1 1.07)" font-size="11">−1</text>
<path d="M303.4 513.4h3M303.4 530.58h3M303.4 547.76h3M303.4 564.95h3M303.4 582.13h3M303.4 599.31h3M303.4 616.49h3M303.4 633.67h3M303.4 650.86h3M303.4 668.04h3M303.4 685.22h3" stroke="#777" stroke-width="0.8"/>
<text transform="translate(10.5 517.8) scale(1 1.07)" font-size="12.5">(e)</text>
<text transform="translate(76.4 697.8) scale(1 1.07)" font-size="9.77">*</text>
<text transform="translate(84.3 698.8) scale(1 1.07)" font-size="11.1"><tspan font-style="italic">P</tspan>&lt;=0.01</text>
<rect x="494.16" y="19.48" width="18.24" height="14.13" fill="#f9a956" stroke="#9a7a55" stroke-width="0.5"/>
<rect x="512.4" y="19.48" width="37.27" height="14.13" fill="#58a950" stroke="#4a7a45" stroke-width="0.5"/>
<text transform="translate(396.8 30.46) scale(1 1.07)" font-size="11.1" text-anchor="end">R3B4SK</text>
<rect x="491.39" y="37.37" width="21.01" height="14.13" fill="#f9a956" stroke="#9a7a55" stroke-width="0.5"/>
<rect x="512.4" y="37.37" width="35.69" height="14.13" fill="#58a950" stroke="#4a7a45" stroke-width="0.5"/>
<text transform="translate(396.8 48.35) scale(1 1.07)" font-size="11.1" text-anchor="end">R7B4SK</text>
<rect x="486.23" y="55.26" width="26.17" height="14.13" fill="#f9a956" stroke="#9a7a55" stroke-width="0.5"/>
<rect x="512.4" y="55.26" width="43.61" height="14.13" fill="#58a950" stroke="#4a7a45" stroke-width="0.5"/>
<text transform="translate(396.8 66.24) scale(1 1.07)" font-size="11.1" text-anchor="end">R7B4CC</text>
<rect x="484.25" y="73.15" width="28.15" height="14.13" fill="#f9a956" stroke="#9a7a55" stroke-width="0.5"/>
<rect x="512.4" y="73.15" width="46.79" height="14.13" fill="#58a950" stroke="#4a7a45" stroke-width="0.5"/>
<text transform="translate(396.8 84.13) scale(1 1.07)" font-size="11.1" text-anchor="end">R9B4SK</text>
<rect x="483.06" y="91.04" width="29.34" height="14.13" fill="#f9a956" stroke="#9a7a55" stroke-width="0.5"/>
<rect x="512.4" y="91.04" width="38.86" height="14.13" fill="#58a950" stroke="#4a7a45" stroke-width="0.5"/>
<text transform="translate(396.8 102.02) scale(1 1.07)" font-size="11.1" text-anchor="end">R3B2SK</text>
<rect x="482.66" y="108.93" width="29.74" height="14.13" fill="#f9a956" stroke="#9a7a55" stroke-width="0.5"/>
<rect x="512.4" y="108.93" width="23.39" height="14.13" fill="#58a950" stroke="#4a7a45" stroke-width="0.5"/>
<text transform="translate(396.8 119.91) scale(1 1.07)" font-size="11.1" text-anchor="end">R3B3SK</text>
<rect x="478.3" y="126.82" width="34.1" height="14.13" fill="#f9a956" stroke="#9a7a55" stroke-width="0.5"/>
<rect x="512.4" y="126.82" width="38.86" height="14.13" fill="#58a950" stroke="#4a7a45" stroke-width="0.5"/>
<text transform="translate(396.8 137.8) scale(1 1.07)" font-size="11.1" text-anchor="end">R9B4SM</text>
<rect x="464.42" y="144.71" width="47.98" height="14.13" fill="#f9a956" stroke="#9a7a55" stroke-width="0.5"/>
<rect x="512.4" y="144.71" width="59.08" height="14.13" fill="#58a950" stroke="#4a7a45" stroke-width="0.5"/>
<text transform="translate(396.8 155.69) scale(1 1.07)" font-size="11.1" text-anchor="end">R19B1SM</text>
<rect x="445" y="162.6" width="67.41" height="14.13" fill="#f9a956" stroke="#9a7a55" stroke-width="0.5"/>
<rect x="512.4" y="162.6" width="40.84" height="14.13" fill="#58a950" stroke="#4a7a45" stroke-width="0.5"/>
<text transform="translate(396.8 173.58) scale(1 1.07)" font-size="11.1" text-anchor="end">R17B1SM</text>
<rect x="420.02" y="180.49" width="92.38" height="14.13" fill="#f9a956" stroke="#9a7a55" stroke-width="0.5"/>
<rect x="512.4" y="180.49" width="37.27" height="14.13" fill="#58a950" stroke="#4a7a45" stroke-width="0.5"/>
<text transform="translate(396.8 191.47) scale(1 1.07)" font-size="11.1" text-anchor="end">R15B1SM</text>
<line x1="512.4" y1="17.6" x2="512.4" y2="196.5" stroke="#333" stroke-width="1"/>
<path d="M403.6 196.5H621.9" fill="none" stroke="#444" stroke-width="1.1"/>
<path d="M403.6 17.6V196.5" fill="none" stroke="#444" stroke-width="1.1"/>
<text transform="translate(413.27 211.4) scale(1 1.07)" font-size="10.8" text-anchor="middle">25</text>
<text transform="translate(433.1 211.4) scale(1 1.07)" font-size="10.8" text-anchor="middle">20</text>
<text transform="translate(452.92 211.4) scale(1 1.07)" font-size="10.8" text-anchor="middle">15</text>
<text transform="translate(472.75 211.4) scale(1 1.07)" font-size="10.8" text-anchor="middle">10</text>
<text transform="translate(492.57 211.4) scale(1 1.07)" font-size="10.8" text-anchor="middle">5</text>
<text transform="translate(512.4 211.4) scale(1 1.07)" font-size="10.8" text-anchor="middle">0</text>
<text transform="translate(532.23 211.4) scale(1 1.07)" font-size="10.8" text-anchor="middle">5</text>
<text transform="translate(552.05 211.4) scale(1 1.07)" font-size="10.8" text-anchor="middle">10</text>
<text transform="translate(571.88 211.4) scale(1 1.07)" font-size="10.8" text-anchor="middle">15</text>
<text transform="translate(591.7 211.4) scale(1 1.07)" font-size="10.8" text-anchor="middle">20</text>
<text transform="translate(611.52 211.4) scale(1 1.07)" font-size="10.8" text-anchor="middle">25</text>
<path d="M403.6 26.55h-3.5M403.6 44.44h-3.5M403.6 62.33h-3.5M403.6 80.22h-3.5M403.6 98.1h-3.5M403.6 116h-3.5M403.6 133.88h-3.5M403.6 151.78h-3.5M403.6 169.66h-3.5M403.6 187.56h-3.5M413.27 196.5v4M433.1 196.5v4M452.92 196.5v4M472.75 196.5v4M492.57 196.5v4M512.4 196.5v4M532.23 196.5v4M552.05 196.5v4M571.88 196.5v4M591.7 196.5v4M611.52 196.5v4M403.36 196.5v2.2M423.19 196.5v2.2M443.01 196.5v2.2M462.84 196.5v2.2M482.66 196.5v2.2M502.49 196.5v2.2M522.31 196.5v2.2M542.14 196.5v2.2M561.96 196.5v2.2M581.79 196.5v2.2M601.61 196.5v2.2M621.44 196.5v2.2" stroke="#444" stroke-width="0.9"/>
<text transform="translate(414.5 29.2) scale(1 1.07)" font-size="13.6">(b)</text>
<text transform="translate(519.3 229.2) scale(1 1.07)" font-size="11.5" text-anchor="middle">Contribution(%)</text>
<rect x="523.89" y="256.49" width="13.21" height="15" fill="#f9a956" stroke="#9a7a55" stroke-width="0.5"/>
<rect x="537.1" y="256.49" width="18.8" height="15" fill="#58a950" stroke="#4a7a45" stroke-width="0.5"/>
<text transform="translate(415.5 268.37) scale(1 1.07)" font-size="12.4" text-anchor="end">R17B1SM</text>
<rect x="518.81" y="275.48" width="18.29" height="15" fill="#f9a956" stroke="#9a7a55" stroke-width="0.5"/>
<rect x="537.1" y="275.48" width="67.06" height="15" fill="#58a950" stroke="#4a7a45" stroke-width="0.5"/>
<text transform="translate(415.5 287.36) scale(1 1.07)" font-size="12.4" text-anchor="end">R19B7SM</text>
<rect x="516.78" y="294.47" width="20.32" height="15" fill="#f9a956" stroke="#9a7a55" stroke-width="0.5"/>
<rect x="537.1" y="294.47" width="16.76" height="15" fill="#58a950" stroke="#4a7a45" stroke-width="0.5"/>
<text transform="translate(415.5 306.35) scale(1 1.07)" font-size="12.4" text-anchor="end">R15B1SM</text>
<rect x="500.52" y="313.46" width="36.58" height="15" fill="#f9a956" stroke="#9a7a55" stroke-width="0.5"/>
<rect x="537.1" y="313.46" width="16.76" height="15" fill="#58a950" stroke="#4a7a45" stroke-width="0.5"/>
<text transform="translate(415.5 325.34) scale(1 1.07)" font-size="12.4" text-anchor="end">R19B1SM</text>
<rect x="492.9" y="332.45" width="44.2" height="15" fill="#f9a956" stroke="#9a7a55" stroke-width="0.5"/>
<rect x="537.1" y="332.45" width="83.82" height="15" fill="#58a950" stroke="#4a7a45" stroke-width="0.5"/>
<text transform="translate(415.5 344.33) scale(1 1.07)" font-size="12.4" text-anchor="end">R7B1SM</text>
<rect x="487.82" y="351.44" width="49.28" height="15" fill="#f9a956" stroke="#9a7a55" stroke-width="0.5"/>
<rect x="537.1" y="351.44" width="50.29" height="15" fill="#58a950" stroke="#4a7a45" stroke-width="0.5"/>
<text transform="translate(415.5 363.32) scale(1 1.07)" font-size="12.4" text-anchor="end">R9B1SM</text>
<rect x="483.76" y="370.43" width="53.34" height="15" fill="#f9a956" stroke="#9a7a55" stroke-width="0.5"/>
<rect x="537.1" y="370.43" width="26.92" height="15" fill="#58a950" stroke="#4a7a45" stroke-width="0.5"/>
<text transform="translate(415.5 382.31) scale(1 1.07)" font-size="12.4" text-anchor="end">R15B7SM</text>
<rect x="456.84" y="389.42" width="80.26" height="15" fill="#f9a956" stroke="#9a7a55" stroke-width="0.5"/>
<rect x="537.1" y="389.42" width="83.82" height="15" fill="#58a950" stroke="#4a7a45" stroke-width="0.5"/>
<text transform="translate(415.5 401.3) scale(1 1.07)" font-size="12.4" text-anchor="end">R11B1SM</text>
<rect x="448.71" y="408.41" width="88.39" height="15" fill="#f9a956" stroke="#9a7a55" stroke-width="0.5"/>
<rect x="537.1" y="408.41" width="45.72" height="15" fill="#58a950" stroke="#4a7a45" stroke-width="0.5"/>
<text transform="translate(415.5 420.29) scale(1 1.07)" font-size="12.4" text-anchor="end">R17B7SM</text>
<rect x="434.48" y="427.4" width="102.62" height="15" fill="#f9a956" stroke="#9a7a55" stroke-width="0.5"/>
<rect x="537.1" y="427.4" width="104.14" height="15" fill="#58a950" stroke="#4a7a45" stroke-width="0.5"/>
<text transform="translate(415.5 439.28) scale(1 1.07)" font-size="12.4" text-anchor="end">R7B2CC</text>
<line x1="537.1" y1="254.5" x2="537.1" y2="444.4" stroke="#333" stroke-width="1"/>
<path d="M422.4 444.4H651" fill="none" stroke="#444" stroke-width="1.1"/>
<path d="M422.4 254.5V444.4" fill="none" stroke="#444" stroke-width="1.1"/>
<text transform="translate(435.5 460.8) scale(1 1.07)" font-size="11.6" text-anchor="middle">20</text>
<text transform="translate(460.9 460.8) scale(1 1.07)" font-size="11.6" text-anchor="middle">15</text>
<text transform="translate(486.3 460.8) scale(1 1.07)" font-size="11.6" text-anchor="middle">10</text>
<text transform="translate(511.7 460.8) scale(1 1.07)" font-size="11.6" text-anchor="middle">5</text>
<text transform="translate(537.1 460.8) scale(1 1.07)" font-size="11.6" text-anchor="middle">0</text>
<text transform="translate(562.5 460.8) scale(1 1.07)" font-size="11.6" text-anchor="middle">5</text>
<text transform="translate(587.9 460.8) scale(1 1.07)" font-size="11.6" text-anchor="middle">10</text>
<text transform="translate(613.3 460.8) scale(1 1.07)" font-size="11.6" text-anchor="middle">15</text>
<text transform="translate(638.7 460.8) scale(1 1.07)" font-size="11.6" text-anchor="middle">20</text>
<path d="M422.4 264h-3.5M422.4 282.99h-3.5M422.4 301.98h-3.5M422.4 320.96h-3.5M422.4 339.95h-3.5M422.4 358.94h-3.5M422.4 377.94h-3.5M422.4 396.92h-3.5M422.4 415.91h-3.5M422.4 434.9h-3.5M435.5 444.4v4M460.9 444.4v4M486.3 444.4v4M511.7 444.4v4M537.1 444.4v4M562.5 444.4v4M587.9 444.4v4M613.3 444.4v4M638.7 444.4v4M422.8 444.4v2.2M448.2 444.4v2.2M473.6 444.4v2.2M499 444.4v2.2M524.4 444.4v2.2M549.8 444.4v2.2M575.2 444.4v2.2M600.6 444.4v2.2M626 444.4v2.2M651.4 444.4v2.2" stroke="#444" stroke-width="0.9"/>
<text transform="translate(441.3 266.2) scale(1 1.07)" font-size="13.5">(d)</text>
<text transform="translate(533 478.2) scale(1 1.07)" font-size="12.3" text-anchor="middle">Contribution(%)</text>
<rect x="485.76" y="515.43" width="29.74" height="13.92" fill="#f2ab5a" stroke="#9a7a55" stroke-width="0.5"/>
<rect x="515.5" y="515.43" width="44.07" height="13.92" fill="#58a950" stroke="#4a7a45" stroke-width="0.5"/>
<text transform="translate(403.3 526.38) scale(1 1.07)" font-size="11.3" text-anchor="end">R9B4SK</text>
<rect x="478.86" y="532.61" width="36.64" height="13.92" fill="#f2ab5a" stroke="#9a7a55" stroke-width="0.5"/>
<rect x="515.5" y="532.61" width="50.44" height="13.92" fill="#58a950" stroke="#4a7a45" stroke-width="0.5"/>
<text transform="translate(403.3 543.56) scale(1 1.07)" font-size="11.3" text-anchor="end">R17B1SM</text>
<rect x="477.8" y="549.79" width="37.7" height="13.92" fill="#f2ab5a" stroke="#9a7a55" stroke-width="0.5"/>
<rect x="515.5" y="549.79" width="38.76" height="13.92" fill="#58a950" stroke="#4a7a45" stroke-width="0.5"/>
<text transform="translate(403.3 560.74) scale(1 1.07)" font-size="11.3" text-anchor="end">R15B1SM</text>
<rect x="475.68" y="566.97" width="39.82" height="13.92" fill="#f2ab5a" stroke="#9a7a55" stroke-width="0.5"/>
<rect x="515.5" y="566.97" width="34.52" height="13.92" fill="#58a950" stroke="#4a7a45" stroke-width="0.5"/>
<text transform="translate(403.3 577.92) scale(1 1.07)" font-size="11.3" text-anchor="end">R3B3SK</text>
<rect x="467.71" y="584.15" width="47.79" height="13.92" fill="#f2ab5a" stroke="#9a7a55" stroke-width="0.5"/>
<rect x="515.5" y="584.15" width="58.41" height="13.92" fill="#58a950" stroke="#4a7a45" stroke-width="0.5"/>
<text transform="translate(403.3 595.1) scale(1 1.07)" font-size="11.3" text-anchor="end">R7B4SK</text>
<rect x="458.15" y="601.33" width="57.35" height="13.92" fill="#f2ab5a" stroke="#9a7a55" stroke-width="0.5"/>
<rect x="515.5" y="601.33" width="52.57" height="13.92" fill="#58a950" stroke="#4a7a45" stroke-width="0.5"/>
<text transform="translate(403.3 612.28) scale(1 1.07)" font-size="11.3" text-anchor="end">R3B4SK</text>
<rect x="457.09" y="618.51" width="58.41" height="13.92" fill="#f2ab5a" stroke="#9a7a55" stroke-width="0.5"/>
<rect x="515.5" y="618.51" width="72.75" height="13.92" fill="#58a950" stroke="#4a7a45" stroke-width="0.5"/>
<text transform="translate(403.3 629.46) scale(1 1.07)" font-size="11.3" text-anchor="end">R9B4SM</text>
<rect x="453.37" y="635.69" width="62.13" height="13.92" fill="#f2ab5a" stroke="#9a7a55" stroke-width="0.5"/>
<rect x="515.5" y="635.69" width="54.16" height="13.92" fill="#58a950" stroke="#4a7a45" stroke-width="0.5"/>
<text transform="translate(403.3 646.64) scale(1 1.07)" font-size="11.3" text-anchor="end">R19B1SM</text>
<rect x="445.41" y="652.87" width="70.09" height="13.92" fill="#f2ab5a" stroke="#9a7a55" stroke-width="0.5"/>
<rect x="515.5" y="652.87" width="69.56" height="13.92" fill="#58a950" stroke="#4a7a45" stroke-width="0.5"/>
<text transform="translate(403.3 663.82) scale(1 1.07)" font-size="11.3" text-anchor="end">R3B2SK</text>
<rect x="423.64" y="670.05" width="91.86" height="13.92" fill="#f2ab5a" stroke="#9a7a55" stroke-width="0.5"/>
<rect x="515.5" y="670.05" width="62.13" height="13.92" fill="#58a950" stroke="#4a7a45" stroke-width="0.5"/>
<text transform="translate(403.3 681) scale(1 1.07)" font-size="11.3" text-anchor="end">R13B1SM</text>
<line x1="515.5" y1="513.8" x2="515.5" y2="685.6" stroke="#333" stroke-width="1"/>
<path d="M409.3 685.6H622.2" fill="none" stroke="#a0a0a0" stroke-width="1.8"/>
<path d="M409.3 513.8V685.6" fill="none" stroke="#777" stroke-width="1.1"/>
<text transform="translate(409.3 700.3) scale(1 1.07)" font-size="10.8" text-anchor="middle">20</text>
<text transform="translate(435.85 700.3) scale(1 1.07)" font-size="10.8" text-anchor="middle">15</text>
<text transform="translate(462.4 700.3) scale(1 1.07)" font-size="10.8" text-anchor="middle">10</text>
<text transform="translate(488.95 700.3) scale(1 1.07)" font-size="10.8" text-anchor="middle">5</text>
<text transform="translate(515.5 700.3) scale(1 1.07)" font-size="10.8" text-anchor="middle">0</text>
<text transform="translate(542.05 700.3) scale(1 1.07)" font-size="10.8" text-anchor="middle">5</text>
<text transform="translate(568.6 700.3) scale(1 1.07)" font-size="10.8" text-anchor="middle">10</text>
<text transform="translate(595.15 700.3) scale(1 1.07)" font-size="10.8" text-anchor="middle">15</text>
<text transform="translate(621.7 700.3) scale(1 1.07)" font-size="10.8" text-anchor="middle">20</text>
<path d="M409.3 522.39h-3.5M409.3 539.57h-3.5M409.3 556.75h-3.5M409.3 573.93h-3.5M409.3 591.11h-3.5M409.3 608.29h-3.5M409.3 625.47h-3.5M409.3 642.65h-3.5M409.3 659.83h-3.5M409.3 677.01h-3.5M409.3 685.6v4M435.85 685.6v4M462.4 685.6v4M488.95 685.6v4M515.5 685.6v4M542.05 685.6v4M568.6 685.6v4M595.15 685.6v4M621.7 685.6v4M422.57 685.6v2.2M449.12 685.6v2.2M475.68 685.6v2.2M502.23 685.6v2.2M528.77 685.6v2.2M555.33 685.6v2.2M581.88 685.6v2.2M608.42 685.6v2.2" stroke="#555" stroke-width="0.9"/>
<text transform="translate(426 523) scale(1 1.07)" font-size="12.5">(f)</text>
<text transform="translate(522.5 717.9) scale(1 1.07)" font-size="11.3" text-anchor="middle">Contribution(%)</text>
<rect x="584.6" y="20.3" width="66.1" height="30.8" fill="#fff" stroke="#cfcfcf" stroke-width="0.8"/>
<rect x="585.9" y="22.3" width="25.9" height="12.6" fill="#f9a956" stroke="#b08a60" stroke-width="0.4"/>
<rect x="585.9" y="36.9" width="25.9" height="12.2" fill="#58a950" stroke="#4a7a45" stroke-width="0.4"/>
<text transform="translate(615.3 32.8) scale(1 1.07)" font-size="11.4">RF</text>
<text transform="translate(615.3 46.3) scale(1 1.07)" font-size="11.4">GA-RF</text>
</g>
</svg></div>
</body></html>
